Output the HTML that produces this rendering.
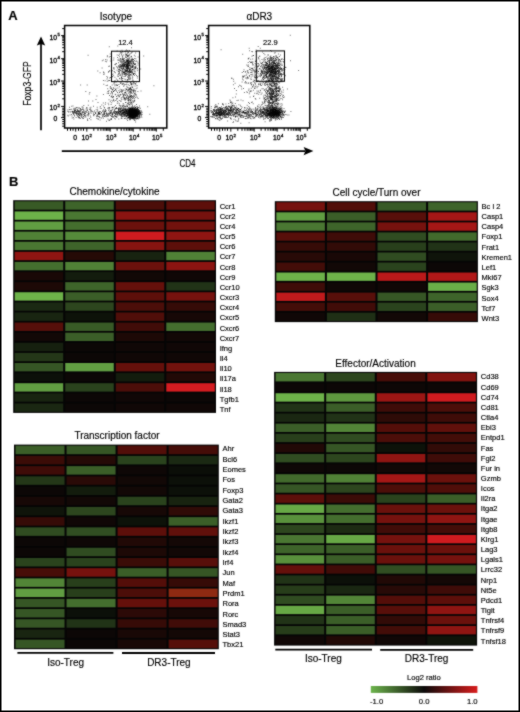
<!DOCTYPE html>
<html><head><meta charset="utf-8"><style>
html,body{margin:0;padding:0;background:#fff;}
body{width:520px;height:712px;overflow:hidden;position:relative;}
svg{position:absolute;left:0;top:0;font-family:"Liberation Sans",sans-serif;}
svg text{fill:#000;stroke:#000;stroke-width:0.15px;}
</style></head><body>
<svg width="520" height="712" viewBox="0 0 520 712">
<defs><filter id="bl" color-interpolation-filters="sRGB" x="0" y="0" width="520" height="712" filterUnits="userSpaceOnUse"><feConvolveMatrix order="3" kernelMatrix="1 2 1 2 16 2 1 2 1" divisor="28" edgeMode="duplicate"/></filter></defs>
<rect x="0" y="0" width="520" height="712" fill="#fff"/>
<g filter="url(#bl)">
<path d="M138.0 109.4h1v1h-1zM78.1 111.3h1v1h-1zM133.3 114.2h1v1h-1zM135.1 111.0h1v1h-1zM132.0 113.3h1v1h-1zM131.1 115.4h1v1h-1zM127.5 63.0h1v1h-1zM133.9 118.6h1v1h-1zM117.5 66.8h1v1h-1zM127.4 95.4h1v1h-1zM108.8 111.2h1v1h-1zM135.9 113.0h1v1h-1zM136.5 114.0h1v1h-1zM135.8 115.1h1v1h-1zM122.8 62.2h1v1h-1zM111.7 84.5h1v1h-1zM133.5 118.4h1v1h-1zM132.4 110.5h1v1h-1zM123.7 85.3h1v1h-1zM133.6 113.1h1v1h-1zM134.8 112.5h1v1h-1zM125.0 106.1h1v1h-1zM130.3 112.6h1v1h-1zM135.8 112.1h1v1h-1zM132.8 113.1h1v1h-1zM120.8 107.7h1v1h-1zM94.6 111.8h1v1h-1zM117.3 80.0h1v1h-1zM132.0 110.5h1v1h-1zM129.4 53.6h1v1h-1zM136.9 77.6h1v1h-1zM138.9 109.7h1v1h-1zM126.5 64.6h1v1h-1zM137.1 107.9h1v1h-1zM131.8 69.4h1v1h-1zM134.7 108.2h1v1h-1zM92.9 112.8h1v1h-1zM132.0 112.8h1v1h-1zM129.0 110.5h1v1h-1zM131.9 111.4h1v1h-1zM131.8 111.6h1v1h-1zM83.7 111.2h1v1h-1zM136.5 114.2h1v1h-1zM121.6 75.8h1v1h-1zM131.5 113.6h1v1h-1zM76.9 114.6h1v1h-1zM132.3 108.9h1v1h-1zM130.5 114.7h1v1h-1zM107.4 114.0h1v1h-1zM109.1 77.4h1v1h-1zM128.8 56.8h1v1h-1zM133.0 111.0h1v1h-1zM131.9 71.3h1v1h-1zM129.4 71.9h1v1h-1zM133.9 114.4h1v1h-1zM133.1 116.5h1v1h-1zM116.1 107.9h1v1h-1zM130.9 115.8h1v1h-1zM129.8 113.1h1v1h-1zM132.3 113.4h1v1h-1zM130.0 110.9h1v1h-1zM129.3 73.6h1v1h-1zM126.6 61.1h1v1h-1zM127.3 64.7h1v1h-1zM128.8 115.0h1v1h-1zM129.9 113.7h1v1h-1zM135.6 111.7h1v1h-1zM127.9 111.6h1v1h-1zM133.6 113.6h1v1h-1zM127.8 114.2h1v1h-1zM132.0 95.7h1v1h-1zM133.2 113.6h1v1h-1zM103.2 110.4h1v1h-1zM135.4 110.2h1v1h-1zM128.9 109.5h1v1h-1zM133.6 110.3h1v1h-1zM121.4 114.4h1v1h-1zM124.7 66.9h1v1h-1zM127.8 110.7h1v1h-1zM129.7 116.0h1v1h-1zM132.3 108.7h1v1h-1zM126.9 105.2h1v1h-1zM114.6 115.9h1v1h-1zM111.9 89.4h1v1h-1zM131.8 112.1h1v1h-1zM90.3 116.7h1v1h-1zM134.4 112.1h1v1h-1zM136.4 85.3h1v1h-1zM128.3 64.5h1v1h-1zM134.7 110.9h1v1h-1zM119.8 67.3h1v1h-1zM108.4 66.1h1v1h-1zM133.3 110.8h1v1h-1zM136.3 113.1h1v1h-1zM121.7 55.3h1v1h-1zM138.7 111.5h1v1h-1zM132.4 114.2h1v1h-1zM117.0 114.1h1v1h-1zM138.3 115.9h1v1h-1zM126.9 50.3h1v1h-1zM119.6 113.8h1v1h-1zM127.5 50.5h1v1h-1zM133.9 108.9h1v1h-1zM70.1 111.4h1v1h-1zM115.9 111.7h1v1h-1zM126.0 64.4h1v1h-1zM130.8 71.9h1v1h-1zM128.7 63.5h1v1h-1zM110.3 113.0h1v1h-1zM126.3 65.4h1v1h-1zM98.4 111.2h1v1h-1zM130.8 113.3h1v1h-1zM131.9 112.1h1v1h-1zM107.5 108.0h1v1h-1zM130.4 114.2h1v1h-1zM87.7 115.6h1v1h-1zM98.6 113.0h1v1h-1zM119.1 59.8h1v1h-1zM72.5 112.5h1v1h-1zM131.4 114.5h1v1h-1zM128.5 62.8h1v1h-1zM134.5 111.0h1v1h-1zM84.4 116.4h1v1h-1zM80.1 84.4h1v1h-1zM80.8 112.6h1v1h-1zM109.8 101.3h1v1h-1zM134.5 110.5h1v1h-1zM78.5 114.0h1v1h-1zM82.3 109.0h1v1h-1zM131.5 61.5h1v1h-1zM110.2 110.2h1v1h-1zM131.2 109.0h1v1h-1zM134.1 115.6h1v1h-1zM129.1 115.2h1v1h-1zM132.2 112.5h1v1h-1zM138.1 111.8h1v1h-1zM73.9 111.3h1v1h-1zM131.5 111.9h1v1h-1zM134.7 112.9h1v1h-1zM134.2 60.1h1v1h-1zM133.0 113.1h1v1h-1zM134.8 116.6h1v1h-1zM120.2 111.0h1v1h-1zM105.5 116.2h1v1h-1zM130.1 110.9h1v1h-1zM135.8 109.9h1v1h-1zM132.5 111.7h1v1h-1zM113.0 96.0h1v1h-1zM131.2 63.2h1v1h-1zM130.4 74.0h1v1h-1zM131.1 112.8h1v1h-1zM117.9 111.9h1v1h-1zM133.3 114.8h1v1h-1zM103.8 73.4h1v1h-1zM134.8 109.2h1v1h-1zM131.3 109.0h1v1h-1zM135.9 106.4h1v1h-1zM129.1 110.5h1v1h-1zM118.4 65.1h1v1h-1zM130.0 113.5h1v1h-1zM123.0 111.6h1v1h-1zM129.3 68.6h1v1h-1zM122.0 73.2h1v1h-1zM130.9 113.9h1v1h-1zM135.5 112.8h1v1h-1zM131.3 114.7h1v1h-1zM129.2 114.2h1v1h-1zM114.0 82.3h1v1h-1zM130.3 113.3h1v1h-1zM139.4 115.1h1v1h-1zM132.7 113.9h1v1h-1zM133.4 112.0h1v1h-1zM130.1 112.9h1v1h-1zM128.5 114.1h1v1h-1zM122.6 65.5h1v1h-1zM133.7 82.5h1v1h-1zM131.7 110.8h1v1h-1zM134.5 85.4h1v1h-1zM100.7 108.0h1v1h-1zM133.8 113.4h1v1h-1zM131.8 110.0h1v1h-1zM82.1 117.2h1v1h-1zM134.4 111.4h1v1h-1zM76.2 112.4h1v1h-1zM130.1 65.4h1v1h-1zM127.7 57.8h1v1h-1zM129.5 111.8h1v1h-1zM126.5 79.6h1v1h-1zM133.8 113.1h1v1h-1zM83.8 113.5h1v1h-1zM132.0 114.8h1v1h-1zM134.9 111.8h1v1h-1zM130.6 98.6h1v1h-1zM133.3 112.7h1v1h-1zM135.5 65.6h1v1h-1zM99.6 72.3h1v1h-1zM126.3 108.9h1v1h-1zM129.5 114.1h1v1h-1zM130.6 113.2h1v1h-1zM117.6 66.5h1v1h-1zM130.6 112.2h1v1h-1zM134.3 112.2h1v1h-1zM141.2 111.0h1v1h-1zM126.2 58.7h1v1h-1zM133.7 112.7h1v1h-1zM116.4 111.3h1v1h-1zM131.9 59.3h1v1h-1zM106.4 76.0h1v1h-1zM135.1 111.0h1v1h-1zM132.6 114.4h1v1h-1zM129.3 71.3h1v1h-1zM133.5 114.8h1v1h-1zM130.3 113.4h1v1h-1zM135.7 110.2h1v1h-1zM126.7 111.8h1v1h-1zM132.5 113.4h1v1h-1zM124.3 72.2h1v1h-1zM134.0 114.8h1v1h-1zM120.6 111.7h1v1h-1zM135.7 111.2h1v1h-1zM121.7 113.1h1v1h-1zM129.3 88.2h1v1h-1zM123.5 64.7h1v1h-1zM132.8 117.9h1v1h-1zM127.1 111.0h1v1h-1zM132.4 112.3h1v1h-1zM130.2 113.2h1v1h-1zM137.1 107.1h1v1h-1zM130.8 113.3h1v1h-1zM89.8 111.6h1v1h-1zM134.0 112.5h1v1h-1zM119.8 69.4h1v1h-1zM128.1 64.4h1v1h-1zM131.8 112.0h1v1h-1zM134.5 112.9h1v1h-1zM129.7 110.3h1v1h-1zM136.8 68.5h1v1h-1zM135.1 115.7h1v1h-1zM76.1 111.3h1v1h-1zM74.6 111.9h1v1h-1zM128.5 63.8h1v1h-1zM129.8 110.7h1v1h-1zM136.0 112.6h1v1h-1zM122.6 71.3h1v1h-1zM130.1 88.9h1v1h-1zM106.1 61.3h1v1h-1zM133.1 111.1h1v1h-1zM123.2 63.1h1v1h-1zM137.2 114.7h1v1h-1zM131.0 113.4h1v1h-1zM132.2 110.4h1v1h-1zM122.5 64.7h1v1h-1zM131.8 116.9h1v1h-1zM137.6 56.6h1v1h-1zM127.6 111.1h1v1h-1zM132.3 113.6h1v1h-1zM131.2 89.0h1v1h-1zM134.1 109.4h1v1h-1zM127.2 59.9h1v1h-1zM133.1 116.4h1v1h-1zM134.0 113.4h1v1h-1zM113.9 68.6h1v1h-1zM125.3 71.1h1v1h-1zM131.1 111.5h1v1h-1zM125.7 112.5h1v1h-1zM116.4 116.4h1v1h-1zM126.6 110.5h1v1h-1zM131.3 109.8h1v1h-1zM134.2 110.8h1v1h-1zM100.9 112.6h1v1h-1zM139.5 111.1h1v1h-1zM117.5 74.3h1v1h-1zM131.8 108.8h1v1h-1zM131.8 112.7h1v1h-1zM136.3 112.3h1v1h-1zM135.2 114.8h1v1h-1zM132.4 109.7h1v1h-1zM134.9 107.0h1v1h-1zM135.2 111.2h1v1h-1zM132.1 111.2h1v1h-1zM130.8 114.3h1v1h-1zM134.8 111.8h1v1h-1zM133.8 114.7h1v1h-1zM137.8 111.6h1v1h-1zM132.5 115.6h1v1h-1zM107.0 84.7h1v1h-1zM134.1 112.5h1v1h-1zM110.8 88.3h1v1h-1zM132.7 112.9h1v1h-1zM126.1 110.7h1v1h-1zM120.4 110.8h1v1h-1zM133.7 110.3h1v1h-1zM120.9 113.8h1v1h-1zM111.4 95.2h1v1h-1zM118.0 62.3h1v1h-1zM131.3 112.2h1v1h-1zM139.7 107.9h1v1h-1zM127.5 64.3h1v1h-1zM130.2 108.1h1v1h-1zM130.1 111.9h1v1h-1zM126.5 70.7h1v1h-1zM133.0 113.5h1v1h-1zM134.2 113.8h1v1h-1zM129.3 64.8h1v1h-1zM129.8 108.6h1v1h-1zM84.9 112.5h1v1h-1zM133.4 110.0h1v1h-1zM134.6 110.7h1v1h-1zM134.9 110.7h1v1h-1zM132.4 109.9h1v1h-1zM125.1 91.5h1v1h-1zM130.4 70.8h1v1h-1zM135.7 108.9h1v1h-1zM128.1 75.1h1v1h-1zM130.4 110.9h1v1h-1zM130.1 111.1h1v1h-1zM133.1 113.2h1v1h-1zM129.1 95.6h1v1h-1zM125.5 117.7h1v1h-1zM132.5 111.6h1v1h-1zM126.2 112.2h1v1h-1zM125.6 50.6h1v1h-1zM121.1 54.2h1v1h-1zM69.0 106.8h1v1h-1zM127.6 51.9h1v1h-1zM122.1 71.1h1v1h-1zM134.9 114.3h1v1h-1zM128.3 112.5h1v1h-1zM134.8 107.4h1v1h-1zM129.4 112.4h1v1h-1zM136.1 113.7h1v1h-1zM115.1 88.9h1v1h-1zM131.5 112.7h1v1h-1zM133.7 110.1h1v1h-1zM128.1 117.2h1v1h-1zM121.4 61.5h1v1h-1zM132.9 110.5h1v1h-1zM119.3 111.2h1v1h-1zM104.6 110.9h1v1h-1zM130.1 112.1h1v1h-1zM137.3 114.9h1v1h-1zM133.8 114.9h1v1h-1zM116.9 79.5h1v1h-1zM132.7 108.8h1v1h-1zM130.8 115.5h1v1h-1zM129.2 89.1h1v1h-1zM127.2 54.6h1v1h-1zM137.4 91.0h1v1h-1zM132.3 116.8h1v1h-1zM132.6 79.7h1v1h-1zM132.2 69.4h1v1h-1zM127.7 70.6h1v1h-1zM128.1 112.4h1v1h-1zM131.5 108.9h1v1h-1zM131.5 110.4h1v1h-1zM128.6 62.6h1v1h-1zM125.5 110.4h1v1h-1zM123.8 113.8h1v1h-1zM134.2 115.3h1v1h-1zM119.1 70.8h1v1h-1zM124.6 90.1h1v1h-1zM123.0 72.3h1v1h-1zM115.7 114.1h1v1h-1zM134.9 111.2h1v1h-1zM96.8 115.9h1v1h-1zM129.5 62.3h1v1h-1zM130.9 115.1h1v1h-1zM132.9 109.9h1v1h-1zM73.3 112.5h1v1h-1zM119.1 68.9h1v1h-1zM133.6 112.4h1v1h-1zM123.5 65.2h1v1h-1zM119.8 107.5h1v1h-1zM78.7 112.4h1v1h-1zM136.9 114.3h1v1h-1zM131.1 111.9h1v1h-1zM110.8 95.9h1v1h-1zM139.5 114.4h1v1h-1zM135.1 114.4h1v1h-1zM122.2 113.4h1v1h-1zM131.6 114.0h1v1h-1zM127.5 66.1h1v1h-1zM127.2 114.7h1v1h-1zM134.3 113.9h1v1h-1zM113.1 98.9h1v1h-1zM130.4 115.2h1v1h-1zM129.6 110.5h1v1h-1zM111.2 60.1h1v1h-1zM133.7 111.9h1v1h-1zM123.3 111.9h1v1h-1zM131.4 109.1h1v1h-1zM75.3 112.2h1v1h-1zM124.5 106.6h1v1h-1zM125.6 73.2h1v1h-1zM107.4 115.5h1v1h-1zM131.2 110.0h1v1h-1zM137.3 109.7h1v1h-1zM126.7 66.8h1v1h-1zM129.3 115.2h1v1h-1zM133.0 110.9h1v1h-1zM116.4 111.3h1v1h-1zM127.9 116.3h1v1h-1zM126.6 112.3h1v1h-1zM137.0 108.8h1v1h-1zM130.0 89.6h1v1h-1zM127.7 67.1h1v1h-1zM125.5 109.6h1v1h-1zM131.9 113.8h1v1h-1zM135.3 114.8h1v1h-1zM133.9 112.7h1v1h-1zM128.9 115.2h1v1h-1zM130.8 111.0h1v1h-1zM122.2 64.4h1v1h-1zM131.1 109.5h1v1h-1zM130.0 115.9h1v1h-1zM136.9 109.3h1v1h-1zM131.9 51.5h1v1h-1zM131.0 47.2h1v1h-1zM101.6 114.6h1v1h-1zM132.3 110.3h1v1h-1zM86.8 114.4h1v1h-1zM132.6 113.4h1v1h-1zM134.3 110.4h1v1h-1zM130.7 61.5h1v1h-1zM127.5 66.6h1v1h-1zM133.5 115.3h1v1h-1zM122.9 95.0h1v1h-1zM122.3 58.6h1v1h-1zM113.4 87.9h1v1h-1zM129.3 114.1h1v1h-1zM137.3 112.4h1v1h-1zM132.2 107.7h1v1h-1zM132.5 110.3h1v1h-1zM125.5 62.3h1v1h-1zM127.6 111.2h1v1h-1zM134.6 112.8h1v1h-1zM116.0 66.2h1v1h-1zM122.2 109.9h1v1h-1zM67.5 109.3h1v1h-1zM137.0 118.1h1v1h-1zM129.0 111.7h1v1h-1zM130.3 81.7h1v1h-1zM129.2 110.8h1v1h-1zM127.2 114.7h1v1h-1zM130.5 115.0h1v1h-1zM115.4 108.3h1v1h-1zM134.1 98.2h1v1h-1zM133.3 113.6h1v1h-1zM96.2 117.7h1v1h-1zM133.3 109.4h1v1h-1zM107.7 102.7h1v1h-1zM126.1 88.8h1v1h-1zM130.3 111.6h1v1h-1zM133.3 111.2h1v1h-1zM130.1 113.0h1v1h-1zM133.2 110.8h1v1h-1zM133.2 113.8h1v1h-1zM124.4 78.5h1v1h-1zM130.4 71.9h1v1h-1zM127.2 112.7h1v1h-1zM123.8 83.7h1v1h-1zM107.3 115.5h1v1h-1zM135.7 112.0h1v1h-1zM135.4 114.5h1v1h-1zM114.3 112.2h1v1h-1zM132.1 114.5h1v1h-1zM133.0 109.3h1v1h-1zM113.4 68.4h1v1h-1zM130.6 113.1h1v1h-1zM136.7 115.6h1v1h-1zM135.8 114.8h1v1h-1zM133.5 114.7h1v1h-1zM127.1 113.4h1v1h-1zM89.1 108.9h1v1h-1zM79.3 111.0h1v1h-1zM130.3 88.0h1v1h-1zM133.6 111.6h1v1h-1zM132.7 109.4h1v1h-1zM130.6 113.2h1v1h-1zM129.5 112.6h1v1h-1zM115.5 114.8h1v1h-1zM102.2 110.6h1v1h-1zM124.2 69.0h1v1h-1zM125.1 66.1h1v1h-1zM127.2 79.3h1v1h-1zM102.8 117.7h1v1h-1zM132.1 113.0h1v1h-1zM128.4 110.6h1v1h-1zM76.1 113.2h1v1h-1zM120.6 58.6h1v1h-1zM134.1 113.8h1v1h-1zM131.9 109.2h1v1h-1zM121.1 79.5h1v1h-1zM133.9 115.6h1v1h-1zM133.0 94.8h1v1h-1zM77.7 113.4h1v1h-1zM129.4 78.7h1v1h-1zM88.0 100.4h1v1h-1zM128.5 115.7h1v1h-1zM70.6 110.9h1v1h-1zM111.3 92.3h1v1h-1zM121.6 114.0h1v1h-1zM125.4 66.0h1v1h-1zM123.3 57.8h1v1h-1zM135.5 112.6h1v1h-1zM137.7 109.5h1v1h-1zM131.6 112.0h1v1h-1zM120.2 105.6h1v1h-1zM132.1 115.1h1v1h-1zM130.0 78.6h1v1h-1zM126.8 115.2h1v1h-1zM104.2 112.4h1v1h-1zM130.2 113.9h1v1h-1zM134.4 110.4h1v1h-1zM126.8 69.4h1v1h-1zM131.9 113.5h1v1h-1zM121.7 84.0h1v1h-1zM135.7 109.2h1v1h-1zM98.7 111.3h1v1h-1zM80.8 115.3h1v1h-1zM128.7 111.9h1v1h-1zM132.0 66.4h1v1h-1zM133.2 113.0h1v1h-1zM108.8 46.3h1v1h-1zM130.1 61.4h1v1h-1zM133.8 113.7h1v1h-1zM136.5 110.1h1v1h-1zM134.9 112.1h1v1h-1zM129.1 110.1h1v1h-1zM131.0 113.8h1v1h-1zM134.0 110.9h1v1h-1zM128.4 111.5h1v1h-1zM123.0 112.8h1v1h-1zM135.1 115.4h1v1h-1zM121.7 69.4h1v1h-1zM134.5 114.1h1v1h-1zM116.0 107.1h1v1h-1zM128.7 116.8h1v1h-1zM132.1 112.3h1v1h-1zM80.8 115.2h1v1h-1zM138.9 113.1h1v1h-1zM149.3 113.8h1v1h-1zM133.4 114.6h1v1h-1zM134.2 93.3h1v1h-1zM129.5 113.8h1v1h-1zM134.7 118.6h1v1h-1zM123.2 62.5h1v1h-1zM132.8 65.0h1v1h-1zM137.1 111.7h1v1h-1zM131.8 109.5h1v1h-1zM127.0 57.8h1v1h-1zM135.2 112.2h1v1h-1zM121.5 106.8h1v1h-1zM125.2 56.7h1v1h-1zM98.9 116.8h1v1h-1zM97.5 117.9h1v1h-1zM129.7 113.7h1v1h-1zM132.8 113.4h1v1h-1zM125.6 115.6h1v1h-1zM71.2 105.8h1v1h-1zM122.0 112.7h1v1h-1zM137.7 108.9h1v1h-1zM124.1 74.2h1v1h-1zM138.3 110.7h1v1h-1zM137.4 111.6h1v1h-1zM83.1 115.7h1v1h-1zM131.4 111.2h1v1h-1zM130.6 90.2h1v1h-1zM128.6 73.0h1v1h-1zM133.7 113.9h1v1h-1zM128.3 88.7h1v1h-1zM119.9 64.1h1v1h-1zM136.6 85.0h1v1h-1zM125.5 94.4h1v1h-1zM126.9 112.8h1v1h-1zM130.1 111.3h1v1h-1zM133.2 116.2h1v1h-1zM119.5 112.4h1v1h-1zM110.8 111.8h1v1h-1z" fill="#000" fill-opacity="0.55"/>
<path d="M119.0 96.2h1v1h-1zM133.2 111.2h1v1h-1zM90.4 106.7h1v1h-1zM128.6 74.2h1v1h-1zM98.2 112.9h1v1h-1zM134.1 116.0h1v1h-1zM124.7 88.4h1v1h-1zM110.6 118.4h1v1h-1zM132.1 111.7h1v1h-1zM130.9 111.4h1v1h-1zM132.6 115.5h1v1h-1zM133.9 109.4h1v1h-1zM118.8 113.1h1v1h-1zM130.0 113.1h1v1h-1zM127.9 110.2h1v1h-1zM131.9 66.7h1v1h-1zM133.2 112.1h1v1h-1zM128.7 61.8h1v1h-1zM117.8 113.4h1v1h-1zM128.5 79.1h1v1h-1zM128.3 62.7h1v1h-1zM128.5 91.5h1v1h-1zM123.1 59.1h1v1h-1zM127.5 110.8h1v1h-1zM135.3 113.8h1v1h-1zM131.9 109.5h1v1h-1zM130.9 114.4h1v1h-1zM133.4 113.8h1v1h-1zM123.9 110.7h1v1h-1zM77.6 110.8h1v1h-1zM130.9 112.6h1v1h-1zM127.7 101.9h1v1h-1zM72.3 111.8h1v1h-1zM134.1 115.3h1v1h-1zM129.2 111.9h1v1h-1zM110.9 91.1h1v1h-1zM136.6 111.8h1v1h-1zM128.1 62.8h1v1h-1zM124.1 111.4h1v1h-1zM130.2 115.7h1v1h-1zM132.5 114.9h1v1h-1zM131.8 111.7h1v1h-1zM129.4 63.6h1v1h-1zM80.3 110.8h1v1h-1zM129.0 75.5h1v1h-1zM125.9 97.2h1v1h-1zM133.7 111.8h1v1h-1zM112.1 113.5h1v1h-1zM125.1 112.1h1v1h-1zM130.1 113.8h1v1h-1zM124.1 113.1h1v1h-1zM136.3 109.8h1v1h-1zM133.5 117.8h1v1h-1zM128.6 70.5h1v1h-1zM153.4 85.3h1v1h-1zM129.5 113.4h1v1h-1zM126.2 74.8h1v1h-1zM84.8 112.7h1v1h-1zM129.8 114.9h1v1h-1zM128.5 110.1h1v1h-1zM135.5 112.5h1v1h-1zM126.0 81.4h1v1h-1zM107.4 91.1h1v1h-1zM134.0 115.3h1v1h-1zM134.9 115.4h1v1h-1zM127.6 83.9h1v1h-1zM118.2 111.9h1v1h-1zM109.1 70.6h1v1h-1zM134.4 110.9h1v1h-1zM135.1 111.4h1v1h-1zM127.9 67.0h1v1h-1zM110.0 77.1h1v1h-1zM137.6 118.6h1v1h-1zM131.5 115.7h1v1h-1zM134.7 108.4h1v1h-1zM132.6 110.1h1v1h-1zM138.4 111.8h1v1h-1zM135.2 108.4h1v1h-1zM124.2 72.7h1v1h-1zM131.4 59.7h1v1h-1zM133.5 111.7h1v1h-1zM82.4 117.8h1v1h-1zM133.4 116.9h1v1h-1zM131.6 114.9h1v1h-1zM134.2 58.0h1v1h-1zM135.5 112.4h1v1h-1zM131.1 101.8h1v1h-1zM133.4 90.4h1v1h-1zM113.5 111.0h1v1h-1zM137.8 111.1h1v1h-1zM115.1 113.5h1v1h-1zM131.2 110.0h1v1h-1zM132.9 73.1h1v1h-1zM129.5 113.9h1v1h-1zM106.7 92.8h1v1h-1zM115.5 87.7h1v1h-1zM126.7 65.4h1v1h-1zM124.3 64.5h1v1h-1zM134.6 114.9h1v1h-1zM134.4 110.4h1v1h-1zM134.2 110.3h1v1h-1zM130.3 113.7h1v1h-1zM98.1 111.9h1v1h-1zM133.1 116.3h1v1h-1zM128.5 54.8h1v1h-1zM132.5 113.7h1v1h-1zM132.9 111.4h1v1h-1zM135.9 109.8h1v1h-1zM105.5 109.9h1v1h-1zM132.8 113.5h1v1h-1zM140.0 112.1h1v1h-1zM78.3 114.1h1v1h-1zM129.8 116.6h1v1h-1zM137.0 111.3h1v1h-1zM129.3 69.4h1v1h-1zM109.4 112.2h1v1h-1zM125.9 113.1h1v1h-1zM113.9 109.9h1v1h-1zM106.1 111.8h1v1h-1zM128.2 117.2h1v1h-1zM130.8 70.8h1v1h-1zM124.8 110.2h1v1h-1zM131.1 112.3h1v1h-1zM132.2 113.8h1v1h-1zM136.9 107.6h1v1h-1zM138.6 113.2h1v1h-1zM130.7 115.0h1v1h-1zM121.4 78.1h1v1h-1zM133.9 111.3h1v1h-1zM131.7 110.6h1v1h-1zM109.0 95.0h1v1h-1zM131.8 108.7h1v1h-1zM106.0 115.5h1v1h-1zM131.3 111.6h1v1h-1zM129.3 111.5h1v1h-1zM135.9 111.1h1v1h-1zM130.9 70.6h1v1h-1zM132.6 112.7h1v1h-1zM79.0 116.8h1v1h-1zM127.6 103.2h1v1h-1zM115.9 63.2h1v1h-1zM122.8 67.1h1v1h-1zM109.6 113.6h1v1h-1zM81.6 112.7h1v1h-1zM79.4 110.7h1v1h-1zM136.6 113.3h1v1h-1zM133.8 114.2h1v1h-1zM111.8 106.8h1v1h-1zM136.1 108.6h1v1h-1zM108.8 65.4h1v1h-1zM127.2 65.7h1v1h-1zM131.4 109.0h1v1h-1zM130.5 116.2h1v1h-1zM132.9 73.7h1v1h-1zM132.6 113.4h1v1h-1zM128.8 89.6h1v1h-1zM80.8 116.8h1v1h-1zM130.1 100.6h1v1h-1zM114.4 80.3h1v1h-1zM134.1 114.2h1v1h-1zM130.0 115.1h1v1h-1zM86.2 111.3h1v1h-1zM129.8 112.6h1v1h-1zM137.5 64.4h1v1h-1zM127.9 112.8h1v1h-1zM139.6 113.5h1v1h-1zM133.0 115.2h1v1h-1zM128.9 63.5h1v1h-1zM134.9 109.4h1v1h-1zM127.3 90.6h1v1h-1zM135.9 114.1h1v1h-1zM136.8 116.5h1v1h-1zM130.2 113.0h1v1h-1zM133.4 112.4h1v1h-1zM129.8 111.6h1v1h-1zM134.4 117.6h1v1h-1zM125.4 108.7h1v1h-1zM126.3 110.8h1v1h-1zM133.8 113.5h1v1h-1zM99.7 107.4h1v1h-1zM126.8 112.5h1v1h-1zM106.7 80.8h1v1h-1zM135.6 113.3h1v1h-1zM74.4 110.3h1v1h-1zM130.8 112.8h1v1h-1zM127.8 112.9h1v1h-1zM131.7 104.3h1v1h-1zM138.0 114.1h1v1h-1zM128.8 60.9h1v1h-1zM101.8 60.3h1v1h-1zM134.3 111.8h1v1h-1zM130.9 115.9h1v1h-1zM137.9 110.0h1v1h-1zM118.9 73.0h1v1h-1zM130.3 109.5h1v1h-1zM133.5 111.8h1v1h-1zM86.8 109.5h1v1h-1zM131.3 114.8h1v1h-1zM130.9 111.8h1v1h-1zM132.3 92.7h1v1h-1zM133.2 114.4h1v1h-1zM120.7 62.4h1v1h-1zM136.2 115.6h1v1h-1zM122.1 79.9h1v1h-1zM131.5 115.0h1v1h-1zM129.8 112.9h1v1h-1zM132.2 114.3h1v1h-1zM124.6 73.1h1v1h-1zM124.4 63.7h1v1h-1zM134.0 116.5h1v1h-1zM79.6 108.6h1v1h-1zM133.3 114.4h1v1h-1zM130.3 113.7h1v1h-1zM133.9 110.9h1v1h-1zM102.9 80.0h1v1h-1zM120.3 114.5h1v1h-1zM77.2 111.3h1v1h-1zM130.9 113.1h1v1h-1zM132.6 116.4h1v1h-1zM122.5 96.0h1v1h-1zM131.5 112.7h1v1h-1zM125.9 116.1h1v1h-1zM130.8 110.6h1v1h-1zM108.2 104.3h1v1h-1zM118.8 110.6h1v1h-1zM137.4 109.6h1v1h-1zM125.8 111.2h1v1h-1zM132.2 110.7h1v1h-1zM132.2 76.8h1v1h-1zM96.8 114.9h1v1h-1zM130.1 113.4h1v1h-1zM128.8 71.3h1v1h-1zM135.8 109.0h1v1h-1zM136.8 114.7h1v1h-1zM134.4 114.0h1v1h-1zM133.2 111.1h1v1h-1zM134.9 108.5h1v1h-1zM119.7 112.6h1v1h-1zM83.6 112.2h1v1h-1zM79.7 113.2h1v1h-1zM133.3 111.7h1v1h-1zM132.1 111.1h1v1h-1zM125.0 73.6h1v1h-1zM130.7 59.4h1v1h-1zM116.6 113.0h1v1h-1zM129.4 110.7h1v1h-1zM133.3 112.1h1v1h-1zM109.9 86.1h1v1h-1zM133.8 106.4h1v1h-1zM133.2 117.2h1v1h-1zM126.8 112.1h1v1h-1zM130.5 66.3h1v1h-1zM130.3 114.3h1v1h-1zM136.1 110.7h1v1h-1zM133.4 114.4h1v1h-1zM131.1 113.6h1v1h-1zM132.8 110.6h1v1h-1zM130.7 116.2h1v1h-1zM129.7 115.9h1v1h-1zM130.8 111.1h1v1h-1zM133.7 111.6h1v1h-1zM105.1 110.7h1v1h-1zM125.1 109.2h1v1h-1zM137.7 113.8h1v1h-1zM139.5 110.6h1v1h-1zM78.8 110.2h1v1h-1zM128.2 110.9h1v1h-1zM133.2 113.5h1v1h-1zM122.6 112.4h1v1h-1zM119.2 105.3h1v1h-1zM130.7 112.2h1v1h-1zM127.8 111.8h1v1h-1zM124.1 63.6h1v1h-1zM136.5 110.6h1v1h-1zM84.9 115.4h1v1h-1zM76.3 112.4h1v1h-1zM132.1 109.8h1v1h-1zM121.3 70.7h1v1h-1zM129.2 110.3h1v1h-1zM134.7 92.6h1v1h-1zM132.5 112.7h1v1h-1zM79.5 111.9h1v1h-1zM136.8 111.8h1v1h-1zM124.4 105.8h1v1h-1zM128.2 107.5h1v1h-1zM133.4 111.8h1v1h-1zM122.3 58.5h1v1h-1zM114.7 93.8h1v1h-1zM131.2 84.1h1v1h-1zM127.5 113.6h1v1h-1zM131.2 113.6h1v1h-1zM133.6 100.2h1v1h-1zM127.3 66.8h1v1h-1zM129.1 74.6h1v1h-1zM129.9 114.0h1v1h-1zM78.1 116.3h1v1h-1zM126.3 115.9h1v1h-1zM131.6 114.6h1v1h-1zM131.0 91.4h1v1h-1zM132.8 112.1h1v1h-1zM133.8 115.8h1v1h-1zM127.2 67.8h1v1h-1zM128.1 63.0h1v1h-1zM129.7 108.1h1v1h-1zM129.9 116.7h1v1h-1zM134.8 111.8h1v1h-1zM116.9 85.0h1v1h-1zM133.0 91.8h1v1h-1zM120.7 117.8h1v1h-1zM131.5 96.0h1v1h-1zM116.6 50.5h1v1h-1zM135.0 115.5h1v1h-1zM131.2 61.1h1v1h-1zM131.2 111.9h1v1h-1zM69.0 109.0h1v1h-1zM136.8 76.0h1v1h-1zM137.1 114.1h1v1h-1zM135.0 114.1h1v1h-1zM131.3 113.5h1v1h-1zM125.2 102.0h1v1h-1zM135.0 113.8h1v1h-1zM127.8 63.2h1v1h-1zM108.1 113.2h1v1h-1zM134.6 112.2h1v1h-1zM133.8 116.2h1v1h-1zM129.0 109.4h1v1h-1zM122.8 72.5h1v1h-1zM134.5 112.7h1v1h-1zM112.7 117.1h1v1h-1zM131.4 110.6h1v1h-1zM128.4 112.8h1v1h-1zM135.5 108.4h1v1h-1zM130.5 115.2h1v1h-1zM134.2 113.2h1v1h-1zM104.9 109.3h1v1h-1zM131.0 113.8h1v1h-1zM131.1 114.2h1v1h-1zM119.9 105.4h1v1h-1zM136.3 111.8h1v1h-1zM123.7 73.9h1v1h-1zM134.1 116.8h1v1h-1zM127.9 61.4h1v1h-1zM127.1 67.0h1v1h-1zM132.8 113.8h1v1h-1zM130.1 110.3h1v1h-1zM129.1 112.1h1v1h-1zM103.1 73.8h1v1h-1zM76.1 110.9h1v1h-1zM126.0 70.4h1v1h-1zM129.0 115.2h1v1h-1zM103.7 112.9h1v1h-1zM77.1 109.6h1v1h-1zM139.0 116.2h1v1h-1zM129.6 98.8h1v1h-1zM133.7 113.2h1v1h-1zM122.3 109.9h1v1h-1zM135.8 112.3h1v1h-1zM129.6 60.2h1v1h-1zM69.5 114.4h1v1h-1zM139.8 112.6h1v1h-1zM130.9 55.8h1v1h-1zM130.8 63.6h1v1h-1zM128.3 74.2h1v1h-1zM132.8 112.5h1v1h-1zM129.1 110.4h1v1h-1zM138.8 72.5h1v1h-1zM121.5 111.9h1v1h-1zM128.9 71.4h1v1h-1zM130.8 109.9h1v1h-1zM134.1 111.8h1v1h-1zM116.2 90.7h1v1h-1zM125.8 88.6h1v1h-1zM127.0 113.2h1v1h-1zM139.2 117.2h1v1h-1zM125.3 65.8h1v1h-1zM133.2 112.6h1v1h-1zM132.4 111.3h1v1h-1zM121.8 67.7h1v1h-1zM130.1 70.3h1v1h-1zM125.4 70.2h1v1h-1zM132.3 116.5h1v1h-1zM133.4 113.1h1v1h-1zM126.5 118.8h1v1h-1zM131.6 112.2h1v1h-1zM128.3 110.8h1v1h-1zM129.6 95.4h1v1h-1zM132.4 111.2h1v1h-1zM132.6 112.5h1v1h-1zM126.3 66.7h1v1h-1zM126.6 110.7h1v1h-1zM132.2 115.0h1v1h-1zM127.4 73.7h1v1h-1zM130.0 108.4h1v1h-1zM131.0 110.6h1v1h-1zM136.6 110.5h1v1h-1zM79.5 112.5h1v1h-1zM126.5 59.9h1v1h-1zM111.2 115.8h1v1h-1zM135.4 109.4h1v1h-1zM130.8 85.6h1v1h-1zM103.4 114.2h1v1h-1zM132.0 113.9h1v1h-1zM119.6 88.7h1v1h-1zM81.5 114.4h1v1h-1zM109.8 86.2h1v1h-1zM131.8 102.5h1v1h-1zM108.6 113.4h1v1h-1zM132.9 100.8h1v1h-1zM134.9 115.7h1v1h-1zM129.8 111.1h1v1h-1zM134.5 120.0h1v1h-1zM118.8 104.8h1v1h-1zM74.2 110.3h1v1h-1zM135.6 88.3h1v1h-1zM120.6 111.0h1v1h-1zM123.7 68.4h1v1h-1zM136.3 114.2h1v1h-1zM130.8 111.3h1v1h-1zM135.5 113.9h1v1h-1zM130.0 77.6h1v1h-1zM87.8 104.7h1v1h-1zM123.0 68.1h1v1h-1zM135.5 114.1h1v1h-1zM134.0 113.4h1v1h-1zM133.6 112.8h1v1h-1zM131.7 115.9h1v1h-1zM104.1 114.3h1v1h-1zM132.6 110.1h1v1h-1zM135.4 115.6h1v1h-1zM123.3 106.7h1v1h-1zM132.1 98.0h1v1h-1zM126.7 63.9h1v1h-1zM129.7 112.6h1v1h-1zM123.5 74.0h1v1h-1zM132.9 115.0h1v1h-1zM135.5 115.0h1v1h-1zM130.9 92.7h1v1h-1zM134.0 115.0h1v1h-1zM135.3 113.8h1v1h-1zM124.3 71.0h1v1h-1zM103.2 112.3h1v1h-1zM131.0 115.7h1v1h-1zM137.5 117.5h1v1h-1zM131.4 112.5h1v1h-1zM131.4 111.5h1v1h-1zM129.3 105.5h1v1h-1zM132.4 112.5h1v1h-1zM137.5 111.1h1v1h-1zM135.0 112.0h1v1h-1zM137.5 110.2h1v1h-1zM86.1 107.6h1v1h-1zM131.7 114.9h1v1h-1zM137.3 112.4h1v1h-1zM136.0 113.5h1v1h-1zM127.6 89.0h1v1h-1zM131.6 110.7h1v1h-1zM131.3 118.0h1v1h-1zM123.6 93.3h1v1h-1zM114.9 111.0h1v1h-1zM130.5 97.1h1v1h-1zM131.8 116.0h1v1h-1zM132.7 81.7h1v1h-1zM125.7 98.6h1v1h-1zM122.5 71.6h1v1h-1zM129.8 92.6h1v1h-1zM133.3 112.7h1v1h-1zM135.1 115.1h1v1h-1zM130.6 102.4h1v1h-1zM128.6 77.8h1v1h-1zM129.6 110.6h1v1h-1zM135.9 114.7h1v1h-1zM96.4 95.4h1v1h-1zM85.3 91.1h1v1h-1zM131.0 113.9h1v1h-1zM128.2 58.8h1v1h-1zM135.6 115.0h1v1h-1zM124.8 112.7h1v1h-1zM125.9 49.6h1v1h-1zM114.4 85.2h1v1h-1zM130.8 59.7h1v1h-1zM131.6 68.7h1v1h-1zM129.2 65.2h1v1h-1zM131.0 106.5h1v1h-1zM84.6 112.9h1v1h-1zM137.5 110.1h1v1h-1zM134.6 112.7h1v1h-1zM123.6 93.9h1v1h-1zM135.8 112.9h1v1h-1zM134.4 113.6h1v1h-1zM126.9 94.9h1v1h-1zM122.1 56.1h1v1h-1zM102.6 116.2h1v1h-1zM107.5 113.6h1v1h-1zM130.8 113.2h1v1h-1zM134.3 112.1h1v1h-1zM124.2 63.2h1v1h-1zM138.3 110.4h1v1h-1zM128.6 111.9h1v1h-1zM118.5 58.4h1v1h-1zM130.0 98.2h1v1h-1zM133.8 117.5h1v1h-1zM129.8 88.1h1v1h-1zM130.8 110.9h1v1h-1zM107.6 115.8h1v1h-1zM121.2 52.1h1v1h-1zM132.5 70.4h1v1h-1zM132.9 114.4h1v1h-1zM134.5 113.5h1v1h-1zM140.5 90.6h1v1h-1zM119.1 56.3h1v1h-1zM111.6 113.6h1v1h-1zM108.4 109.3h1v1h-1zM135.3 113.3h1v1h-1zM135.4 114.6h1v1h-1zM130.2 69.6h1v1h-1zM133.5 113.7h1v1h-1zM131.8 112.3h1v1h-1zM126.6 94.3h1v1h-1zM131.2 72.3h1v1h-1zM132.3 109.1h1v1h-1zM127.3 64.8h1v1h-1zM126.7 68.2h1v1h-1zM133.6 110.0h1v1h-1zM130.9 113.7h1v1h-1zM112.9 100.0h1v1h-1zM128.8 112.9h1v1h-1zM130.7 107.7h1v1h-1zM134.3 112.8h1v1h-1zM134.5 115.6h1v1h-1zM139.8 113.5h1v1h-1zM135.3 109.7h1v1h-1zM125.7 115.8h1v1h-1zM119.6 110.5h1v1h-1zM123.5 105.8h1v1h-1zM118.3 118.4h1v1h-1zM128.7 108.7h1v1h-1zM133.8 113.2h1v1h-1zM127.8 58.8h1v1h-1zM135.9 109.0h1v1h-1zM82.2 108.6h1v1h-1zM124.8 113.0h1v1h-1zM133.2 111.6h1v1h-1zM119.3 66.6h1v1h-1zM128.4 111.9h1v1h-1zM130.7 114.7h1v1h-1zM129.8 115.1h1v1h-1zM127.8 52.3h1v1h-1zM130.5 114.5h1v1h-1zM127.2 69.8h1v1h-1zM134.9 109.5h1v1h-1zM132.6 84.2h1v1h-1zM79.2 114.7h1v1h-1zM133.7 113.7h1v1h-1zM131.7 117.2h1v1h-1zM130.1 116.8h1v1h-1zM134.2 116.9h1v1h-1zM134.8 110.6h1v1h-1zM118.9 95.7h1v1h-1zM127.8 68.3h1v1h-1zM133.7 96.0h1v1h-1zM132.3 64.6h1v1h-1zM122.2 109.5h1v1h-1zM133.8 75.0h1v1h-1zM75.5 113.1h1v1h-1zM136.9 111.1h1v1h-1zM129.6 112.0h1v1h-1zM121.1 112.3h1v1h-1zM130.0 110.3h1v1h-1zM124.8 108.6h1v1h-1zM135.4 115.2h1v1h-1zM131.1 109.7h1v1h-1zM132.6 110.4h1v1h-1zM133.6 111.6h1v1h-1zM115.4 84.2h1v1h-1zM126.9 115.3h1v1h-1zM134.1 111.8h1v1h-1zM130.5 113.1h1v1h-1zM103.4 72.0h1v1h-1z" fill="#000" fill-opacity="0.55"/>
<path d="M90.8 111.3h1v1h-1zM121.3 90.2h1v1h-1zM119.9 90.7h1v1h-1zM134.8 68.2h1v1h-1zM134.5 113.8h1v1h-1zM130.9 113.0h1v1h-1zM129.8 81.9h1v1h-1zM134.2 108.0h1v1h-1zM129.8 108.8h1v1h-1zM113.8 106.3h1v1h-1zM134.5 111.9h1v1h-1zM118.9 86.3h1v1h-1zM124.3 51.1h1v1h-1zM133.1 110.1h1v1h-1zM132.1 69.0h1v1h-1zM132.6 110.6h1v1h-1zM130.1 68.2h1v1h-1zM132.8 110.6h1v1h-1zM128.7 58.5h1v1h-1zM127.2 59.8h1v1h-1zM127.4 107.8h1v1h-1zM107.0 115.2h1v1h-1zM127.9 61.9h1v1h-1zM135.3 111.7h1v1h-1zM132.2 117.5h1v1h-1zM132.1 112.8h1v1h-1zM130.6 114.3h1v1h-1zM72.5 105.4h1v1h-1zM128.3 78.1h1v1h-1zM131.0 117.6h1v1h-1zM75.0 110.5h1v1h-1zM135.5 112.7h1v1h-1zM132.0 111.6h1v1h-1zM133.6 113.3h1v1h-1zM125.0 98.4h1v1h-1zM123.9 97.8h1v1h-1zM129.9 112.8h1v1h-1zM130.9 114.0h1v1h-1zM130.8 111.9h1v1h-1zM135.7 109.5h1v1h-1zM127.2 114.6h1v1h-1zM118.4 90.1h1v1h-1zM128.3 114.4h1v1h-1zM135.0 111.2h1v1h-1zM127.3 110.6h1v1h-1zM133.3 110.5h1v1h-1zM133.5 113.9h1v1h-1zM119.3 107.9h1v1h-1zM134.1 100.8h1v1h-1zM130.9 113.1h1v1h-1zM134.3 73.1h1v1h-1zM126.6 98.2h1v1h-1zM131.7 110.4h1v1h-1zM134.6 110.3h1v1h-1zM120.2 108.7h1v1h-1zM72.4 112.6h1v1h-1zM71.7 117.6h1v1h-1zM128.9 111.2h1v1h-1zM134.2 110.1h1v1h-1zM131.6 111.1h1v1h-1zM139.3 114.2h1v1h-1zM135.8 112.2h1v1h-1zM124.1 110.8h1v1h-1zM129.2 111.2h1v1h-1zM131.5 111.9h1v1h-1zM131.5 113.5h1v1h-1zM96.5 111.3h1v1h-1zM121.6 108.7h1v1h-1zM127.8 92.7h1v1h-1zM93.0 105.7h1v1h-1zM125.9 66.5h1v1h-1zM123.6 116.3h1v1h-1zM126.6 69.8h1v1h-1zM83.0 109.4h1v1h-1zM134.3 111.6h1v1h-1zM130.6 113.5h1v1h-1zM127.0 113.4h1v1h-1zM129.3 115.1h1v1h-1zM132.5 59.1h1v1h-1zM121.5 49.8h1v1h-1zM133.4 111.1h1v1h-1zM130.3 110.0h1v1h-1zM119.3 108.9h1v1h-1zM111.8 107.1h1v1h-1zM130.8 111.2h1v1h-1zM141.0 115.5h1v1h-1zM134.5 111.8h1v1h-1zM137.2 112.8h1v1h-1zM133.7 111.5h1v1h-1zM104.2 116.1h1v1h-1zM134.2 112.6h1v1h-1zM101.0 117.4h1v1h-1zM118.5 112.5h1v1h-1zM115.5 63.1h1v1h-1zM123.6 72.0h1v1h-1zM134.7 111.6h1v1h-1zM110.6 110.2h1v1h-1zM131.7 113.1h1v1h-1zM121.3 98.9h1v1h-1zM133.4 112.9h1v1h-1zM114.8 116.0h1v1h-1zM130.0 112.7h1v1h-1zM118.8 53.7h1v1h-1zM122.0 93.2h1v1h-1zM131.0 107.6h1v1h-1zM123.0 89.5h1v1h-1zM88.0 111.6h1v1h-1zM128.1 100.2h1v1h-1zM133.0 109.5h1v1h-1zM135.5 111.9h1v1h-1zM133.1 111.5h1v1h-1zM132.0 112.9h1v1h-1zM139.1 110.4h1v1h-1zM130.8 116.7h1v1h-1zM132.5 112.9h1v1h-1zM131.7 110.1h1v1h-1zM130.3 107.8h1v1h-1zM114.3 115.0h1v1h-1zM132.6 113.9h1v1h-1zM131.5 116.5h1v1h-1zM128.5 71.5h1v1h-1zM134.3 114.4h1v1h-1zM128.4 104.3h1v1h-1zM134.7 111.3h1v1h-1zM129.2 109.1h1v1h-1zM131.6 112.1h1v1h-1zM120.0 94.5h1v1h-1zM131.8 115.8h1v1h-1zM133.0 112.3h1v1h-1zM128.5 62.9h1v1h-1zM126.2 59.7h1v1h-1zM133.2 115.3h1v1h-1zM129.7 115.8h1v1h-1zM128.9 117.3h1v1h-1zM131.4 113.1h1v1h-1zM129.1 109.9h1v1h-1zM132.5 116.2h1v1h-1zM133.1 112.6h1v1h-1zM125.2 61.6h1v1h-1zM122.4 112.8h1v1h-1zM122.6 65.7h1v1h-1zM129.8 91.6h1v1h-1zM140.6 112.3h1v1h-1zM129.9 109.6h1v1h-1zM135.4 111.4h1v1h-1zM129.3 111.0h1v1h-1zM124.4 98.1h1v1h-1zM130.5 111.7h1v1h-1zM130.5 113.3h1v1h-1zM134.3 114.5h1v1h-1zM116.8 112.3h1v1h-1zM123.6 96.7h1v1h-1zM93.0 114.5h1v1h-1zM131.5 110.7h1v1h-1zM132.7 114.8h1v1h-1zM123.0 95.5h1v1h-1zM122.2 63.7h1v1h-1zM135.2 113.5h1v1h-1zM132.2 110.7h1v1h-1zM129.7 113.7h1v1h-1zM135.1 83.0h1v1h-1zM135.1 110.7h1v1h-1zM128.3 114.9h1v1h-1zM132.7 111.3h1v1h-1zM133.8 113.6h1v1h-1zM138.6 112.3h1v1h-1zM127.6 111.2h1v1h-1zM137.0 114.5h1v1h-1zM107.8 80.3h1v1h-1zM131.7 114.8h1v1h-1zM132.0 112.9h1v1h-1zM138.5 115.0h1v1h-1zM134.3 110.7h1v1h-1zM133.2 113.9h1v1h-1zM72.5 111.1h1v1h-1zM130.7 110.7h1v1h-1zM134.4 111.7h1v1h-1zM129.2 71.1h1v1h-1zM134.9 114.7h1v1h-1zM135.7 118.2h1v1h-1zM138.5 113.5h1v1h-1zM77.5 110.7h1v1h-1zM128.9 88.6h1v1h-1zM127.0 103.2h1v1h-1zM118.3 108.0h1v1h-1zM129.1 112.3h1v1h-1zM136.5 112.8h1v1h-1zM133.1 117.4h1v1h-1zM133.7 114.1h1v1h-1zM124.8 62.1h1v1h-1zM122.0 57.2h1v1h-1zM75.6 117.1h1v1h-1zM131.3 114.1h1v1h-1zM132.1 113.0h1v1h-1zM134.3 112.0h1v1h-1zM135.1 68.1h1v1h-1zM133.7 110.8h1v1h-1zM133.0 111.3h1v1h-1zM137.4 117.2h1v1h-1zM91.8 110.9h1v1h-1zM129.0 109.1h1v1h-1zM133.3 62.8h1v1h-1zM135.1 63.1h1v1h-1zM116.7 54.4h1v1h-1zM127.4 71.1h1v1h-1zM134.8 110.6h1v1h-1zM127.9 60.2h1v1h-1zM123.5 63.5h1v1h-1zM130.7 113.2h1v1h-1zM136.6 108.8h1v1h-1zM129.9 95.9h1v1h-1zM118.3 113.5h1v1h-1zM129.7 116.6h1v1h-1zM116.2 99.2h1v1h-1zM120.8 66.0h1v1h-1zM129.3 109.7h1v1h-1zM73.5 108.2h1v1h-1zM133.8 112.7h1v1h-1zM67.4 114.8h1v1h-1zM125.7 60.8h1v1h-1zM122.6 61.1h1v1h-1zM135.4 110.8h1v1h-1zM76.3 106.9h1v1h-1zM127.2 110.3h1v1h-1zM131.8 111.0h1v1h-1zM134.0 100.2h1v1h-1zM134.2 99.8h1v1h-1zM127.5 112.8h1v1h-1zM134.9 66.5h1v1h-1zM134.8 112.9h1v1h-1zM127.3 73.8h1v1h-1zM131.3 59.9h1v1h-1zM132.4 115.8h1v1h-1zM135.4 112.9h1v1h-1zM132.3 112.7h1v1h-1zM131.5 114.1h1v1h-1zM124.3 92.3h1v1h-1zM121.1 110.2h1v1h-1zM134.5 111.4h1v1h-1zM128.2 66.5h1v1h-1zM125.1 75.1h1v1h-1zM133.7 115.2h1v1h-1zM127.9 103.3h1v1h-1zM116.3 98.1h1v1h-1zM132.2 114.7h1v1h-1zM124.9 52.5h1v1h-1zM136.9 113.5h1v1h-1zM128.4 114.6h1v1h-1zM97.9 113.7h1v1h-1zM79.0 117.5h1v1h-1zM108.7 80.1h1v1h-1zM131.1 116.6h1v1h-1zM113.0 111.8h1v1h-1zM135.7 112.2h1v1h-1zM130.4 115.1h1v1h-1zM134.6 110.6h1v1h-1zM132.5 113.4h1v1h-1zM138.0 110.7h1v1h-1zM119.3 91.4h1v1h-1zM133.2 111.1h1v1h-1zM80.7 116.3h1v1h-1zM129.8 114.1h1v1h-1zM131.2 114.3h1v1h-1zM132.1 112.8h1v1h-1zM82.9 116.2h1v1h-1zM129.2 110.5h1v1h-1zM133.8 111.8h1v1h-1zM128.9 65.2h1v1h-1zM118.3 108.6h1v1h-1zM122.7 103.0h1v1h-1zM75.4 108.7h1v1h-1zM135.7 118.1h1v1h-1zM125.6 63.0h1v1h-1zM133.2 82.5h1v1h-1zM135.2 115.1h1v1h-1zM131.6 64.6h1v1h-1zM132.0 118.2h1v1h-1zM131.9 59.4h1v1h-1zM120.6 68.1h1v1h-1zM127.6 109.1h1v1h-1zM128.4 111.3h1v1h-1zM128.0 111.5h1v1h-1zM132.9 106.8h1v1h-1zM127.5 61.2h1v1h-1zM133.2 109.4h1v1h-1zM95.7 109.3h1v1h-1zM113.0 91.1h1v1h-1zM107.9 71.7h1v1h-1zM136.9 112.5h1v1h-1zM129.8 74.1h1v1h-1zM113.7 109.3h1v1h-1zM132.5 111.7h1v1h-1zM98.5 112.7h1v1h-1zM128.6 64.4h1v1h-1zM132.7 111.3h1v1h-1zM76.7 107.1h1v1h-1zM124.5 65.1h1v1h-1zM136.7 112.4h1v1h-1zM141.5 112.1h1v1h-1zM129.2 109.2h1v1h-1zM131.8 110.5h1v1h-1zM125.7 110.3h1v1h-1zM133.4 89.3h1v1h-1zM134.4 113.9h1v1h-1zM129.7 93.5h1v1h-1zM119.2 66.7h1v1h-1zM119.3 65.6h1v1h-1zM124.7 109.2h1v1h-1zM132.4 115.5h1v1h-1zM134.9 115.0h1v1h-1zM134.9 111.3h1v1h-1zM132.9 113.9h1v1h-1zM136.8 109.8h1v1h-1zM121.0 82.4h1v1h-1zM132.8 90.9h1v1h-1zM134.7 111.2h1v1h-1zM133.2 67.5h1v1h-1zM127.1 69.0h1v1h-1zM135.2 97.1h1v1h-1zM132.7 111.7h1v1h-1zM132.7 115.8h1v1h-1zM107.4 118.6h1v1h-1zM128.7 60.2h1v1h-1zM131.9 113.6h1v1h-1zM134.9 111.6h1v1h-1zM131.6 113.9h1v1h-1zM131.5 111.7h1v1h-1zM134.4 111.4h1v1h-1zM131.2 89.8h1v1h-1zM134.7 111.3h1v1h-1zM127.9 109.5h1v1h-1zM112.4 89.0h1v1h-1zM128.5 104.2h1v1h-1zM133.2 114.9h1v1h-1zM105.4 115.0h1v1h-1zM130.4 113.6h1v1h-1zM126.1 111.1h1v1h-1zM131.7 111.7h1v1h-1zM133.1 113.4h1v1h-1zM110.8 96.4h1v1h-1zM128.2 109.2h1v1h-1zM129.0 114.5h1v1h-1zM122.6 65.7h1v1h-1zM135.7 109.7h1v1h-1zM131.0 116.1h1v1h-1zM135.1 115.7h1v1h-1zM137.2 112.8h1v1h-1zM85.6 108.5h1v1h-1zM132.8 115.8h1v1h-1zM132.4 111.3h1v1h-1zM135.5 114.0h1v1h-1zM128.4 108.8h1v1h-1zM133.1 116.1h1v1h-1zM126.4 96.1h1v1h-1zM136.5 114.8h1v1h-1zM127.9 115.3h1v1h-1zM134.9 66.3h1v1h-1zM129.3 113.2h1v1h-1zM137.1 110.0h1v1h-1zM120.2 58.4h1v1h-1zM80.1 113.6h1v1h-1zM75.3 109.3h1v1h-1zM128.1 113.3h1v1h-1zM135.2 116.5h1v1h-1zM136.8 106.2h1v1h-1zM134.6 112.0h1v1h-1zM137.5 113.5h1v1h-1zM124.8 112.4h1v1h-1zM122.3 64.7h1v1h-1zM95.2 112.8h1v1h-1zM140.2 68.5h1v1h-1zM128.5 112.7h1v1h-1zM135.6 112.2h1v1h-1zM81.9 110.9h1v1h-1zM130.8 84.1h1v1h-1zM126.8 52.7h1v1h-1zM127.9 55.6h1v1h-1zM106.5 113.2h1v1h-1zM131.1 115.2h1v1h-1zM134.0 111.7h1v1h-1zM135.2 114.7h1v1h-1zM127.1 119.9h1v1h-1zM112.7 97.3h1v1h-1zM118.0 109.5h1v1h-1zM133.5 112.2h1v1h-1zM127.7 62.7h1v1h-1zM132.5 115.5h1v1h-1zM115.9 116.3h1v1h-1zM130.2 109.4h1v1h-1zM124.6 99.8h1v1h-1zM128.4 107.6h1v1h-1zM133.4 113.7h1v1h-1zM129.1 116.2h1v1h-1zM132.4 113.5h1v1h-1zM118.4 109.6h1v1h-1zM128.3 67.9h1v1h-1zM134.1 110.6h1v1h-1zM137.8 109.3h1v1h-1zM128.0 114.5h1v1h-1zM132.6 113.4h1v1h-1zM131.9 108.9h1v1h-1zM118.0 69.0h1v1h-1zM131.3 115.6h1v1h-1zM125.0 70.4h1v1h-1zM111.2 102.3h1v1h-1zM130.7 59.0h1v1h-1zM87.0 118.4h1v1h-1zM130.6 112.4h1v1h-1zM123.8 63.9h1v1h-1zM121.4 65.3h1v1h-1zM130.8 114.2h1v1h-1zM113.1 75.3h1v1h-1zM132.5 116.9h1v1h-1zM121.9 69.3h1v1h-1zM124.0 65.5h1v1h-1zM116.7 111.2h1v1h-1zM133.4 118.9h1v1h-1zM121.5 59.8h1v1h-1zM131.3 107.8h1v1h-1zM131.5 113.9h1v1h-1zM131.5 115.0h1v1h-1zM88.5 113.4h1v1h-1zM131.7 113.0h1v1h-1zM129.5 113.8h1v1h-1zM132.0 115.7h1v1h-1zM135.2 109.4h1v1h-1zM132.7 90.1h1v1h-1zM135.6 115.9h1v1h-1zM133.5 111.9h1v1h-1zM133.4 116.9h1v1h-1zM135.6 112.8h1v1h-1zM121.4 62.4h1v1h-1zM132.0 108.0h1v1h-1zM126.2 74.1h1v1h-1zM117.6 93.8h1v1h-1zM135.4 111.1h1v1h-1zM93.3 115.3h1v1h-1zM128.9 113.9h1v1h-1zM127.5 96.9h1v1h-1zM131.3 112.5h1v1h-1zM123.5 112.0h1v1h-1zM73.6 107.7h1v1h-1zM136.5 115.5h1v1h-1zM135.8 113.5h1v1h-1zM104.5 111.3h1v1h-1zM125.6 63.1h1v1h-1zM131.1 114.3h1v1h-1zM131.4 108.1h1v1h-1zM104.6 111.0h1v1h-1zM131.5 108.5h1v1h-1zM132.7 112.1h1v1h-1zM133.4 110.7h1v1h-1zM131.7 114.1h1v1h-1zM128.2 89.7h1v1h-1zM125.2 110.8h1v1h-1zM124.1 65.5h1v1h-1zM112.0 93.5h1v1h-1zM104.6 80.3h1v1h-1zM136.9 109.5h1v1h-1zM103.0 71.6h1v1h-1zM124.0 108.5h1v1h-1zM135.9 114.2h1v1h-1zM133.1 117.0h1v1h-1zM132.6 108.2h1v1h-1zM132.3 61.4h1v1h-1zM130.4 67.4h1v1h-1zM129.4 113.1h1v1h-1zM132.0 115.4h1v1h-1zM114.4 76.8h1v1h-1zM138.6 111.2h1v1h-1zM111.8 116.4h1v1h-1zM122.3 110.8h1v1h-1zM81.0 114.1h1v1h-1zM132.3 65.9h1v1h-1zM131.2 66.8h1v1h-1zM122.4 68.8h1v1h-1zM133.7 110.5h1v1h-1zM128.9 114.4h1v1h-1zM131.7 114.4h1v1h-1zM127.8 98.8h1v1h-1zM128.6 99.8h1v1h-1zM133.7 112.8h1v1h-1zM89.3 92.1h1v1h-1zM131.5 111.7h1v1h-1zM134.0 73.1h1v1h-1zM118.7 111.0h1v1h-1zM131.2 111.0h1v1h-1zM125.6 114.9h1v1h-1zM73.3 118.6h1v1h-1zM84.0 114.9h1v1h-1zM122.4 83.3h1v1h-1zM130.9 117.3h1v1h-1zM134.5 113.6h1v1h-1zM133.0 111.5h1v1h-1zM135.1 121.6h1v1h-1zM138.3 111.1h1v1h-1zM132.4 112.5h1v1h-1zM134.6 93.8h1v1h-1zM134.4 111.2h1v1h-1zM121.1 89.3h1v1h-1zM130.4 117.5h1v1h-1zM122.2 112.5h1v1h-1zM113.7 100.5h1v1h-1zM121.9 112.1h1v1h-1zM133.9 114.6h1v1h-1zM114.3 112.2h1v1h-1zM132.6 117.1h1v1h-1zM133.4 110.5h1v1h-1zM80.2 113.6h1v1h-1zM129.5 113.4h1v1h-1zM131.7 114.8h1v1h-1zM138.6 116.3h1v1h-1zM121.8 110.2h1v1h-1zM131.4 58.5h1v1h-1zM109.7 53.6h1v1h-1zM132.1 111.1h1v1h-1zM133.1 115.4h1v1h-1zM133.5 112.3h1v1h-1zM113.7 89.9h1v1h-1zM131.9 100.4h1v1h-1zM131.9 109.5h1v1h-1zM125.9 111.0h1v1h-1zM130.3 109.1h1v1h-1zM131.5 114.4h1v1h-1zM132.6 113.4h1v1h-1zM133.2 89.9h1v1h-1zM131.2 111.2h1v1h-1zM119.6 93.9h1v1h-1zM135.4 108.9h1v1h-1zM126.5 106.3h1v1h-1zM121.1 113.1h1v1h-1zM134.7 106.9h1v1h-1zM129.4 119.1h1v1h-1zM133.4 112.4h1v1h-1zM129.9 109.5h1v1h-1zM127.3 109.4h1v1h-1zM138.3 112.5h1v1h-1zM129.0 111.1h1v1h-1zM127.4 71.4h1v1h-1zM122.6 59.5h1v1h-1zM136.0 118.5h1v1h-1zM131.3 113.3h1v1h-1zM123.4 94.3h1v1h-1zM131.0 110.0h1v1h-1zM80.5 109.4h1v1h-1zM132.2 112.0h1v1h-1zM113.9 115.1h1v1h-1zM132.4 58.8h1v1h-1zM131.4 109.6h1v1h-1zM133.9 63.6h1v1h-1zM134.4 111.5h1v1h-1zM133.0 114.2h1v1h-1zM118.0 110.7h1v1h-1zM132.9 110.2h1v1h-1zM121.8 91.3h1v1h-1zM119.4 108.8h1v1h-1zM133.8 114.3h1v1h-1zM71.2 108.8h1v1h-1zM114.4 112.6h1v1h-1zM133.0 116.5h1v1h-1zM137.2 115.1h1v1h-1zM125.9 65.5h1v1h-1zM121.6 105.2h1v1h-1zM127.3 99.7h1v1h-1zM125.9 112.8h1v1h-1zM127.4 110.3h1v1h-1zM133.2 113.4h1v1h-1zM127.2 66.4h1v1h-1zM112.1 114.0h1v1h-1zM131.9 111.4h1v1h-1zM137.2 112.1h1v1h-1zM67.2 110.7h1v1h-1zM111.3 113.5h1v1h-1zM132.9 114.5h1v1h-1zM130.8 59.4h1v1h-1zM132.2 86.6h1v1h-1zM136.1 111.2h1v1h-1zM137.0 67.8h1v1h-1z" fill="#000" fill-opacity="0.55"/>
<path d="M130.2 112.7h1v1h-1zM111.7 107.2h1v1h-1zM111.9 114.6h1v1h-1zM125.6 112.4h1v1h-1zM134.5 116.2h1v1h-1zM116.7 97.9h1v1h-1zM123.3 111.6h1v1h-1zM113.4 66.9h1v1h-1zM127.4 64.5h1v1h-1zM130.5 114.8h1v1h-1zM122.5 63.5h1v1h-1zM124.2 111.6h1v1h-1zM130.0 110.2h1v1h-1zM104.1 107.6h1v1h-1zM127.4 76.6h1v1h-1zM132.7 109.2h1v1h-1zM125.2 71.5h1v1h-1zM135.7 111.5h1v1h-1zM129.8 111.1h1v1h-1zM80.2 113.1h1v1h-1zM135.1 115.0h1v1h-1zM134.4 114.4h1v1h-1zM134.1 113.4h1v1h-1zM141.2 113.4h1v1h-1zM112.5 95.9h1v1h-1zM120.7 97.7h1v1h-1zM134.6 117.0h1v1h-1zM135.9 112.7h1v1h-1zM129.9 113.5h1v1h-1zM122.9 107.4h1v1h-1zM79.7 114.3h1v1h-1zM138.2 112.8h1v1h-1zM130.4 112.6h1v1h-1zM135.9 113.7h1v1h-1zM131.8 117.5h1v1h-1zM130.9 112.3h1v1h-1zM120.9 114.9h1v1h-1zM113.7 113.3h1v1h-1zM131.6 96.7h1v1h-1zM138.9 115.5h1v1h-1zM130.6 111.8h1v1h-1zM122.8 67.5h1v1h-1zM119.8 81.9h1v1h-1zM122.9 115.5h1v1h-1zM133.8 106.6h1v1h-1zM135.1 52.6h1v1h-1zM124.4 73.2h1v1h-1zM76.9 108.7h1v1h-1zM130.2 116.6h1v1h-1zM115.8 78.6h1v1h-1zM122.9 114.8h1v1h-1zM134.7 114.4h1v1h-1zM132.4 109.4h1v1h-1zM128.7 110.6h1v1h-1zM118.9 103.3h1v1h-1zM132.9 59.4h1v1h-1zM125.0 64.0h1v1h-1zM127.5 87.2h1v1h-1zM129.4 64.9h1v1h-1zM99.6 117.2h1v1h-1zM73.3 108.8h1v1h-1zM127.9 64.7h1v1h-1zM77.9 113.0h1v1h-1zM138.7 110.2h1v1h-1zM129.1 104.0h1v1h-1zM133.6 108.3h1v1h-1zM130.7 113.5h1v1h-1zM127.7 116.8h1v1h-1zM131.9 108.2h1v1h-1zM131.5 111.9h1v1h-1zM131.8 107.6h1v1h-1zM75.0 107.8h1v1h-1zM126.6 61.2h1v1h-1zM125.8 57.0h1v1h-1zM80.6 114.4h1v1h-1zM131.7 57.7h1v1h-1zM130.0 110.4h1v1h-1zM97.7 118.9h1v1h-1zM131.3 112.3h1v1h-1zM135.6 115.8h1v1h-1zM124.0 65.6h1v1h-1zM132.9 114.8h1v1h-1zM130.3 114.1h1v1h-1zM131.7 64.9h1v1h-1zM130.1 112.7h1v1h-1zM132.1 113.3h1v1h-1zM115.2 100.1h1v1h-1zM134.8 112.3h1v1h-1zM132.8 113.2h1v1h-1zM88.2 112.9h1v1h-1zM72.3 110.7h1v1h-1zM129.0 116.2h1v1h-1zM134.1 109.5h1v1h-1zM126.5 72.0h1v1h-1zM121.6 89.5h1v1h-1zM125.4 110.4h1v1h-1zM133.8 112.1h1v1h-1zM114.8 113.1h1v1h-1zM131.4 112.5h1v1h-1zM130.2 112.1h1v1h-1zM134.7 66.5h1v1h-1zM134.6 111.9h1v1h-1zM130.8 114.2h1v1h-1zM136.7 111.3h1v1h-1zM136.2 114.9h1v1h-1zM124.8 79.3h1v1h-1zM133.4 112.8h1v1h-1zM132.2 115.0h1v1h-1zM131.9 86.8h1v1h-1zM129.4 112.0h1v1h-1zM136.1 114.1h1v1h-1zM130.1 111.1h1v1h-1zM133.5 113.9h1v1h-1zM129.3 113.0h1v1h-1zM120.4 114.4h1v1h-1zM128.6 107.7h1v1h-1zM134.4 67.5h1v1h-1zM133.2 115.7h1v1h-1zM134.2 112.3h1v1h-1zM128.9 110.0h1v1h-1zM131.1 111.8h1v1h-1zM132.5 117.8h1v1h-1zM132.2 112.7h1v1h-1zM134.1 112.0h1v1h-1zM131.0 113.0h1v1h-1zM133.3 112.8h1v1h-1zM124.5 73.0h1v1h-1zM130.4 114.9h1v1h-1zM122.6 112.6h1v1h-1zM122.8 113.8h1v1h-1zM135.5 111.4h1v1h-1zM129.9 112.2h1v1h-1zM130.7 83.2h1v1h-1zM78.5 107.9h1v1h-1zM133.0 114.8h1v1h-1zM122.1 78.2h1v1h-1zM126.3 115.5h1v1h-1zM129.1 108.7h1v1h-1zM123.9 58.2h1v1h-1zM130.7 62.7h1v1h-1zM127.1 108.8h1v1h-1zM131.1 112.3h1v1h-1zM120.0 113.6h1v1h-1zM122.6 109.9h1v1h-1zM131.8 110.3h1v1h-1zM106.4 113.5h1v1h-1zM133.1 112.5h1v1h-1zM118.7 67.8h1v1h-1zM130.4 117.9h1v1h-1zM134.7 117.3h1v1h-1zM120.1 111.4h1v1h-1zM132.9 115.8h1v1h-1zM131.9 116.0h1v1h-1zM129.0 115.9h1v1h-1zM131.8 65.2h1v1h-1zM136.8 112.4h1v1h-1zM129.2 76.8h1v1h-1zM131.2 115.0h1v1h-1zM131.2 109.4h1v1h-1zM132.7 97.4h1v1h-1zM83.5 109.7h1v1h-1zM133.7 115.9h1v1h-1zM135.3 58.2h1v1h-1zM127.3 64.2h1v1h-1zM124.7 83.9h1v1h-1zM131.8 77.8h1v1h-1zM136.7 110.3h1v1h-1zM120.6 110.4h1v1h-1zM134.7 108.4h1v1h-1zM120.4 94.0h1v1h-1zM127.3 114.9h1v1h-1zM98.7 113.0h1v1h-1zM129.7 114.4h1v1h-1zM99.4 113.7h1v1h-1zM132.0 86.9h1v1h-1zM133.0 61.2h1v1h-1zM133.7 113.3h1v1h-1zM138.5 110.1h1v1h-1zM119.5 66.2h1v1h-1zM132.1 108.6h1v1h-1zM135.8 81.5h1v1h-1zM83.0 111.5h1v1h-1zM119.9 59.7h1v1h-1zM129.7 60.9h1v1h-1zM130.1 109.4h1v1h-1zM132.0 112.0h1v1h-1zM111.6 112.1h1v1h-1zM130.9 56.2h1v1h-1zM135.1 113.2h1v1h-1zM96.7 106.7h1v1h-1zM129.9 111.1h1v1h-1zM123.9 112.1h1v1h-1zM129.9 110.5h1v1h-1zM124.8 73.8h1v1h-1zM127.2 71.2h1v1h-1zM127.5 89.7h1v1h-1zM129.6 112.5h1v1h-1zM131.4 111.9h1v1h-1zM136.7 108.0h1v1h-1zM132.3 89.5h1v1h-1zM133.4 112.5h1v1h-1zM129.1 111.1h1v1h-1zM139.8 112.4h1v1h-1zM134.4 111.1h1v1h-1zM135.0 110.8h1v1h-1zM122.5 93.9h1v1h-1zM130.9 113.4h1v1h-1zM122.4 51.5h1v1h-1zM125.7 61.6h1v1h-1zM77.4 111.0h1v1h-1zM130.7 114.6h1v1h-1zM130.0 111.3h1v1h-1zM133.8 107.9h1v1h-1zM138.5 113.8h1v1h-1zM131.7 116.1h1v1h-1zM135.2 114.8h1v1h-1zM115.5 116.3h1v1h-1zM114.1 111.3h1v1h-1zM126.8 55.6h1v1h-1zM90.6 112.8h1v1h-1zM118.3 55.1h1v1h-1zM132.2 113.8h1v1h-1zM74.2 108.8h1v1h-1zM135.0 106.7h1v1h-1zM124.3 112.6h1v1h-1zM131.0 112.4h1v1h-1zM134.8 112.9h1v1h-1zM123.1 85.7h1v1h-1zM115.8 107.8h1v1h-1zM90.4 110.3h1v1h-1zM132.5 116.2h1v1h-1zM129.2 112.0h1v1h-1zM118.4 95.1h1v1h-1zM133.9 116.9h1v1h-1zM111.8 70.3h1v1h-1zM129.6 113.6h1v1h-1zM136.3 109.9h1v1h-1zM135.6 111.6h1v1h-1zM125.3 113.8h1v1h-1zM131.8 113.1h1v1h-1zM81.5 115.6h1v1h-1zM86.4 106.9h1v1h-1zM132.8 113.6h1v1h-1zM135.3 113.7h1v1h-1zM73.9 114.9h1v1h-1zM129.3 113.0h1v1h-1zM130.1 110.3h1v1h-1zM134.2 115.4h1v1h-1zM131.7 66.2h1v1h-1zM133.0 62.7h1v1h-1zM131.3 113.6h1v1h-1zM134.8 108.6h1v1h-1zM135.4 109.7h1v1h-1zM134.5 114.0h1v1h-1zM122.6 82.7h1v1h-1zM134.0 110.9h1v1h-1zM109.8 112.7h1v1h-1zM128.6 116.7h1v1h-1zM124.8 94.9h1v1h-1zM121.1 91.5h1v1h-1zM136.8 114.3h1v1h-1zM105.2 58.9h1v1h-1zM133.6 113.3h1v1h-1zM104.3 110.6h1v1h-1zM83.3 111.3h1v1h-1zM133.7 109.6h1v1h-1zM110.4 87.7h1v1h-1zM131.7 112.0h1v1h-1zM137.7 108.9h1v1h-1zM74.1 115.4h1v1h-1zM136.1 112.8h1v1h-1zM130.0 113.2h1v1h-1zM72.1 111.3h1v1h-1zM126.0 110.3h1v1h-1zM109.1 108.2h1v1h-1zM133.1 112.7h1v1h-1zM134.1 115.8h1v1h-1zM128.7 114.8h1v1h-1zM129.4 119.6h1v1h-1zM138.3 111.1h1v1h-1zM120.5 115.0h1v1h-1zM133.7 112.0h1v1h-1zM132.2 112.8h1v1h-1zM132.6 90.2h1v1h-1zM131.2 112.0h1v1h-1zM135.2 110.1h1v1h-1zM134.3 92.7h1v1h-1zM128.7 111.6h1v1h-1zM131.1 114.2h1v1h-1zM124.0 98.4h1v1h-1zM111.4 91.4h1v1h-1zM132.0 108.2h1v1h-1zM127.7 72.4h1v1h-1zM132.9 96.3h1v1h-1zM129.6 87.6h1v1h-1zM134.1 114.6h1v1h-1zM75.7 107.2h1v1h-1zM133.6 111.3h1v1h-1zM82.8 118.1h1v1h-1zM76.9 110.0h1v1h-1zM130.1 112.8h1v1h-1zM134.9 115.0h1v1h-1zM104.9 60.8h1v1h-1zM132.0 106.9h1v1h-1zM131.0 111.8h1v1h-1zM135.4 110.8h1v1h-1zM117.9 110.1h1v1h-1zM129.5 114.5h1v1h-1zM133.5 113.1h1v1h-1zM133.9 113.1h1v1h-1zM132.8 59.4h1v1h-1zM120.5 65.5h1v1h-1zM107.7 107.3h1v1h-1zM105.7 85.1h1v1h-1zM127.2 118.0h1v1h-1zM133.8 112.5h1v1h-1zM117.3 45.6h1v1h-1zM123.7 66.6h1v1h-1zM131.3 112.3h1v1h-1zM123.5 76.0h1v1h-1zM120.5 59.8h1v1h-1zM129.7 116.1h1v1h-1zM134.6 111.0h1v1h-1zM114.6 80.8h1v1h-1zM137.4 112.3h1v1h-1zM134.4 112.3h1v1h-1zM123.8 61.7h1v1h-1zM124.0 109.7h1v1h-1zM121.0 77.0h1v1h-1zM135.5 113.1h1v1h-1zM136.7 112.5h1v1h-1zM130.7 115.4h1v1h-1zM133.4 69.1h1v1h-1zM124.7 91.9h1v1h-1zM129.2 98.7h1v1h-1zM121.3 65.3h1v1h-1zM134.0 110.3h1v1h-1zM133.9 110.1h1v1h-1zM134.6 116.0h1v1h-1zM134.6 109.7h1v1h-1zM129.8 100.2h1v1h-1zM108.5 107.3h1v1h-1zM123.6 60.4h1v1h-1zM128.8 115.2h1v1h-1zM92.3 100.4h1v1h-1zM77.0 115.6h1v1h-1zM135.6 117.7h1v1h-1zM124.3 73.0h1v1h-1zM131.7 116.1h1v1h-1zM114.4 112.6h1v1h-1zM73.9 110.2h1v1h-1zM134.2 112.2h1v1h-1zM130.1 112.9h1v1h-1zM133.3 61.0h1v1h-1zM134.3 112.1h1v1h-1zM122.2 109.7h1v1h-1zM132.5 113.7h1v1h-1zM135.2 113.9h1v1h-1zM133.2 116.0h1v1h-1zM131.6 111.5h1v1h-1zM124.8 63.8h1v1h-1zM134.2 112.8h1v1h-1zM129.0 70.0h1v1h-1zM132.5 113.0h1v1h-1zM124.8 76.1h1v1h-1zM120.4 100.4h1v1h-1zM121.4 96.9h1v1h-1zM116.1 113.3h1v1h-1zM131.1 113.1h1v1h-1zM133.0 113.8h1v1h-1zM134.9 113.4h1v1h-1zM131.6 110.1h1v1h-1zM80.0 109.2h1v1h-1zM130.5 111.5h1v1h-1zM120.3 61.6h1v1h-1zM134.6 110.1h1v1h-1zM132.7 115.1h1v1h-1zM134.1 113.2h1v1h-1zM139.3 111.7h1v1h-1zM126.7 86.8h1v1h-1zM118.3 73.7h1v1h-1zM133.2 115.0h1v1h-1zM118.6 110.7h1v1h-1zM94.0 110.4h1v1h-1zM132.9 110.2h1v1h-1zM128.4 110.3h1v1h-1zM119.9 112.1h1v1h-1zM133.2 112.9h1v1h-1zM134.2 111.4h1v1h-1zM135.6 110.2h1v1h-1zM119.8 52.4h1v1h-1zM124.0 108.8h1v1h-1zM139.0 105.6h1v1h-1zM136.3 115.2h1v1h-1zM110.6 104.1h1v1h-1zM129.8 91.2h1v1h-1zM77.7 116.6h1v1h-1zM135.5 66.8h1v1h-1zM102.3 110.7h1v1h-1zM131.8 108.4h1v1h-1zM127.8 61.9h1v1h-1zM135.0 113.5h1v1h-1zM131.3 116.6h1v1h-1zM129.4 71.4h1v1h-1zM131.6 112.4h1v1h-1zM120.2 74.7h1v1h-1zM134.2 112.5h1v1h-1zM107.0 77.2h1v1h-1zM112.5 73.5h1v1h-1zM122.4 109.6h1v1h-1zM132.9 112.7h1v1h-1zM99.6 113.6h1v1h-1zM132.0 112.7h1v1h-1zM132.5 113.9h1v1h-1zM132.7 114.2h1v1h-1zM130.5 95.0h1v1h-1zM130.1 111.4h1v1h-1zM133.4 112.8h1v1h-1zM133.3 110.5h1v1h-1zM131.9 115.5h1v1h-1zM136.8 113.6h1v1h-1zM131.5 82.9h1v1h-1zM136.0 112.0h1v1h-1zM124.3 114.5h1v1h-1zM130.0 109.4h1v1h-1zM123.3 96.9h1v1h-1zM123.3 115.2h1v1h-1zM134.2 70.5h1v1h-1zM137.6 62.7h1v1h-1zM126.7 59.7h1v1h-1zM113.1 107.2h1v1h-1zM134.2 64.1h1v1h-1zM133.5 113.0h1v1h-1zM122.0 61.4h1v1h-1zM117.9 65.7h1v1h-1zM123.6 72.1h1v1h-1zM117.7 76.0h1v1h-1zM115.2 112.7h1v1h-1zM130.7 112.1h1v1h-1zM129.8 110.5h1v1h-1zM129.9 102.2h1v1h-1zM134.9 116.0h1v1h-1zM114.9 72.2h1v1h-1zM137.7 112.7h1v1h-1zM79.6 112.9h1v1h-1zM86.7 84.5h1v1h-1zM130.5 87.2h1v1h-1zM132.1 115.0h1v1h-1zM128.3 110.8h1v1h-1zM78.5 107.1h1v1h-1zM131.4 112.3h1v1h-1zM136.0 114.1h1v1h-1zM128.1 65.7h1v1h-1zM110.2 118.8h1v1h-1zM131.7 114.4h1v1h-1zM132.3 72.8h1v1h-1zM132.4 61.0h1v1h-1zM94.9 112.2h1v1h-1zM130.4 115.2h1v1h-1zM135.7 110.4h1v1h-1zM132.1 108.6h1v1h-1zM136.6 108.7h1v1h-1zM127.2 79.8h1v1h-1zM127.7 110.5h1v1h-1zM133.0 111.6h1v1h-1zM128.8 96.9h1v1h-1zM126.5 63.5h1v1h-1zM125.5 71.1h1v1h-1zM109.8 56.0h1v1h-1zM105.9 112.9h1v1h-1zM134.0 116.0h1v1h-1zM129.3 118.2h1v1h-1zM130.1 111.9h1v1h-1zM118.4 84.0h1v1h-1zM117.9 109.4h1v1h-1zM105.1 102.3h1v1h-1zM127.5 63.4h1v1h-1zM133.2 114.8h1v1h-1zM124.7 64.0h1v1h-1zM129.5 61.1h1v1h-1zM131.0 70.4h1v1h-1zM134.0 113.5h1v1h-1zM122.4 77.9h1v1h-1zM116.2 111.4h1v1h-1zM127.5 54.9h1v1h-1zM134.9 113.7h1v1h-1zM133.0 112.1h1v1h-1zM127.7 77.1h1v1h-1zM133.1 115.9h1v1h-1zM130.4 113.2h1v1h-1zM130.5 108.1h1v1h-1zM130.5 110.4h1v1h-1zM127.2 68.0h1v1h-1zM134.3 115.7h1v1h-1zM132.0 105.3h1v1h-1zM132.3 114.4h1v1h-1zM129.1 115.8h1v1h-1zM134.6 110.0h1v1h-1zM129.9 96.3h1v1h-1zM136.2 114.5h1v1h-1zM124.9 109.0h1v1h-1zM133.1 113.0h1v1h-1zM132.3 110.8h1v1h-1zM130.8 89.1h1v1h-1zM133.6 112.2h1v1h-1zM133.7 114.1h1v1h-1zM125.3 81.2h1v1h-1zM85.4 114.8h1v1h-1zM131.0 112.9h1v1h-1zM126.1 88.9h1v1h-1zM134.1 114.0h1v1h-1zM125.3 59.6h1v1h-1zM133.1 114.1h1v1h-1zM133.5 115.3h1v1h-1zM122.6 65.8h1v1h-1zM133.3 97.2h1v1h-1zM128.3 114.3h1v1h-1zM135.8 116.3h1v1h-1zM129.1 113.2h1v1h-1zM131.4 111.1h1v1h-1zM136.1 114.0h1v1h-1zM132.1 116.6h1v1h-1zM141.3 116.8h1v1h-1zM128.0 61.9h1v1h-1zM135.3 108.3h1v1h-1zM135.6 112.3h1v1h-1zM91.2 109.7h1v1h-1zM131.2 115.1h1v1h-1zM125.0 70.1h1v1h-1zM134.7 55.7h1v1h-1zM135.1 111.2h1v1h-1zM126.5 67.2h1v1h-1zM133.3 66.3h1v1h-1zM124.9 114.2h1v1h-1zM132.1 106.8h1v1h-1zM113.0 91.0h1v1h-1zM74.5 111.1h1v1h-1zM136.1 114.8h1v1h-1zM132.9 115.4h1v1h-1zM117.5 59.2h1v1h-1zM129.5 113.7h1v1h-1zM126.6 65.7h1v1h-1zM135.1 90.4h1v1h-1zM129.7 115.5h1v1h-1zM133.4 116.3h1v1h-1zM129.5 109.3h1v1h-1zM134.5 109.0h1v1h-1zM133.4 112.9h1v1h-1zM134.2 66.4h1v1h-1zM133.2 116.1h1v1h-1zM129.8 109.0h1v1h-1zM127.3 68.0h1v1h-1zM132.2 111.4h1v1h-1zM120.8 110.1h1v1h-1zM129.2 107.5h1v1h-1zM137.6 110.9h1v1h-1zM129.3 93.7h1v1h-1zM113.3 57.5h1v1h-1zM99.3 111.6h1v1h-1zM131.8 112.8h1v1h-1zM134.7 113.9h1v1h-1zM128.5 113.8h1v1h-1zM77.6 111.8h1v1h-1zM122.5 104.7h1v1h-1zM125.8 55.1h1v1h-1zM92.7 111.5h1v1h-1zM126.1 68.1h1v1h-1zM125.2 61.7h1v1h-1zM136.1 112.5h1v1h-1zM118.9 72.0h1v1h-1zM129.8 112.7h1v1h-1zM122.3 65.4h1v1h-1zM130.2 115.6h1v1h-1zM129.9 108.5h1v1h-1zM130.8 114.9h1v1h-1zM132.2 114.5h1v1h-1zM130.4 112.2h1v1h-1zM132.6 113.6h1v1h-1z" fill="#000" fill-opacity="0.55"/>
<path d="M133.6 111.0h1v1h-1zM126.4 112.8h1v1h-1zM128.7 117.8h1v1h-1zM88.9 118.1h1v1h-1zM135.8 109.4h1v1h-1zM134.5 70.8h1v1h-1zM131.7 115.0h1v1h-1zM129.9 116.3h1v1h-1zM131.9 113.9h1v1h-1zM134.7 115.3h1v1h-1zM112.1 114.0h1v1h-1zM112.0 113.0h1v1h-1zM130.8 112.9h1v1h-1zM108.2 70.9h1v1h-1zM86.8 108.6h1v1h-1zM115.1 105.1h1v1h-1zM135.3 109.8h1v1h-1zM121.9 59.0h1v1h-1zM134.0 109.5h1v1h-1zM130.6 83.7h1v1h-1zM133.1 114.3h1v1h-1zM139.3 112.1h1v1h-1zM127.3 64.9h1v1h-1zM117.4 75.6h1v1h-1zM77.7 110.0h1v1h-1zM133.5 109.1h1v1h-1zM136.9 70.3h1v1h-1zM132.1 72.0h1v1h-1zM125.0 113.4h1v1h-1zM122.1 58.5h1v1h-1zM130.0 111.5h1v1h-1zM131.8 113.2h1v1h-1zM134.5 71.4h1v1h-1zM125.0 113.8h1v1h-1zM127.6 112.5h1v1h-1zM121.2 53.2h1v1h-1zM140.2 113.2h1v1h-1zM129.9 72.1h1v1h-1zM127.1 59.5h1v1h-1zM135.3 115.6h1v1h-1zM127.5 98.1h1v1h-1zM117.7 96.3h1v1h-1zM109.1 107.1h1v1h-1zM128.8 91.5h1v1h-1zM132.3 108.8h1v1h-1zM133.0 109.8h1v1h-1zM97.5 102.0h1v1h-1zM132.8 114.9h1v1h-1zM109.1 113.6h1v1h-1zM131.8 110.8h1v1h-1zM122.3 90.3h1v1h-1zM117.3 107.9h1v1h-1zM123.8 115.8h1v1h-1zM134.2 110.1h1v1h-1zM129.3 110.0h1v1h-1zM73.5 111.5h1v1h-1zM129.2 58.2h1v1h-1zM118.0 70.6h1v1h-1zM134.3 111.1h1v1h-1zM134.0 111.9h1v1h-1zM126.3 61.1h1v1h-1zM118.8 100.0h1v1h-1zM126.6 65.2h1v1h-1zM133.5 113.5h1v1h-1zM135.9 112.6h1v1h-1zM131.9 114.1h1v1h-1zM108.1 93.1h1v1h-1zM135.0 64.0h1v1h-1zM117.0 92.0h1v1h-1zM136.1 112.9h1v1h-1zM127.1 63.0h1v1h-1zM131.0 112.3h1v1h-1zM133.6 114.1h1v1h-1zM131.9 112.9h1v1h-1zM102.5 113.8h1v1h-1zM135.7 111.2h1v1h-1zM129.5 116.6h1v1h-1zM130.7 113.8h1v1h-1zM78.3 110.6h1v1h-1zM136.9 113.0h1v1h-1zM131.6 113.4h1v1h-1zM127.5 112.1h1v1h-1zM134.6 115.3h1v1h-1zM127.1 113.3h1v1h-1zM130.7 113.4h1v1h-1zM137.6 111.3h1v1h-1zM129.7 114.0h1v1h-1zM132.5 113.3h1v1h-1zM74.4 111.9h1v1h-1zM113.7 83.7h1v1h-1zM129.7 90.8h1v1h-1zM132.2 108.8h1v1h-1zM121.0 64.3h1v1h-1zM131.0 113.4h1v1h-1zM119.7 111.5h1v1h-1zM106.5 78.6h1v1h-1zM129.4 113.2h1v1h-1zM126.1 65.3h1v1h-1zM119.7 66.2h1v1h-1zM118.9 92.1h1v1h-1zM139.7 112.5h1v1h-1zM134.4 109.4h1v1h-1zM133.9 114.0h1v1h-1zM103.3 83.7h1v1h-1zM130.4 112.4h1v1h-1zM127.8 76.5h1v1h-1zM121.2 114.3h1v1h-1zM130.8 111.9h1v1h-1zM134.7 114.3h1v1h-1zM126.8 64.1h1v1h-1zM133.4 63.5h1v1h-1zM133.1 109.6h1v1h-1zM128.6 68.5h1v1h-1zM126.8 65.5h1v1h-1zM87.6 114.0h1v1h-1zM130.8 113.0h1v1h-1zM135.8 95.6h1v1h-1zM131.3 112.6h1v1h-1zM125.9 96.9h1v1h-1zM87.9 114.5h1v1h-1zM130.8 111.3h1v1h-1zM121.1 77.6h1v1h-1zM130.4 83.2h1v1h-1zM82.6 107.5h1v1h-1zM131.7 111.6h1v1h-1zM135.8 113.0h1v1h-1zM130.6 112.8h1v1h-1zM125.2 54.5h1v1h-1zM130.3 91.5h1v1h-1zM133.9 116.8h1v1h-1zM132.2 111.2h1v1h-1zM120.2 111.1h1v1h-1zM126.7 70.8h1v1h-1zM127.3 112.3h1v1h-1zM137.5 113.3h1v1h-1zM129.9 114.8h1v1h-1zM121.7 114.8h1v1h-1zM129.0 109.1h1v1h-1zM82.3 106.6h1v1h-1zM120.4 100.8h1v1h-1zM138.9 117.6h1v1h-1zM133.4 88.4h1v1h-1zM128.3 116.6h1v1h-1zM97.3 70.4h1v1h-1zM130.6 112.6h1v1h-1zM130.5 82.6h1v1h-1zM125.6 73.2h1v1h-1zM134.6 111.6h1v1h-1zM95.5 99.0h1v1h-1zM147.2 106.3h1v1h-1zM111.2 110.2h1v1h-1zM135.2 112.7h1v1h-1zM128.6 117.1h1v1h-1zM132.5 108.0h1v1h-1zM136.1 75.0h1v1h-1zM127.8 59.4h1v1h-1zM128.0 71.0h1v1h-1zM135.7 113.2h1v1h-1zM126.3 68.1h1v1h-1zM132.9 111.0h1v1h-1zM135.4 115.3h1v1h-1zM118.5 106.9h1v1h-1zM96.5 114.5h1v1h-1zM133.7 114.1h1v1h-1zM117.1 101.1h1v1h-1zM133.1 114.4h1v1h-1zM129.5 75.5h1v1h-1zM130.2 109.5h1v1h-1zM126.0 83.8h1v1h-1zM124.8 114.4h1v1h-1zM132.9 114.0h1v1h-1zM131.9 117.6h1v1h-1zM140.6 110.1h1v1h-1zM129.6 113.3h1v1h-1zM132.1 112.9h1v1h-1zM129.2 69.6h1v1h-1zM131.9 113.6h1v1h-1zM98.7 115.9h1v1h-1zM139.6 113.8h1v1h-1zM110.6 99.8h1v1h-1zM121.5 113.8h1v1h-1zM136.6 115.0h1v1h-1zM130.2 95.5h1v1h-1zM97.5 114.2h1v1h-1zM131.1 110.2h1v1h-1zM86.4 112.0h1v1h-1zM121.4 114.6h1v1h-1zM121.9 110.8h1v1h-1zM133.8 116.1h1v1h-1zM127.2 67.7h1v1h-1zM134.8 113.0h1v1h-1zM108.3 110.1h1v1h-1zM132.9 111.2h1v1h-1zM111.2 70.3h1v1h-1zM111.7 109.2h1v1h-1zM110.5 111.5h1v1h-1zM124.5 111.6h1v1h-1zM106.8 56.2h1v1h-1zM119.2 77.7h1v1h-1zM129.8 62.5h1v1h-1zM87.6 54.8h1v1h-1zM137.6 98.0h1v1h-1zM129.2 113.8h1v1h-1zM124.2 111.9h1v1h-1zM130.4 116.7h1v1h-1zM127.1 116.7h1v1h-1zM136.4 107.9h1v1h-1zM126.5 61.7h1v1h-1zM136.4 116.0h1v1h-1zM125.5 67.3h1v1h-1zM131.0 52.2h1v1h-1zM129.7 117.9h1v1h-1zM132.8 112.0h1v1h-1zM129.1 115.5h1v1h-1zM136.4 112.8h1v1h-1zM90.1 108.4h1v1h-1zM131.9 75.6h1v1h-1zM131.8 109.4h1v1h-1zM131.7 115.3h1v1h-1zM136.6 115.0h1v1h-1zM126.0 63.7h1v1h-1zM125.8 112.4h1v1h-1zM121.8 74.4h1v1h-1zM127.3 63.3h1v1h-1zM126.0 69.9h1v1h-1zM125.3 102.1h1v1h-1zM128.0 68.4h1v1h-1zM131.0 113.9h1v1h-1zM102.0 116.3h1v1h-1zM130.5 117.7h1v1h-1zM135.9 112.9h1v1h-1zM120.0 108.5h1v1h-1zM119.1 70.5h1v1h-1zM131.7 115.8h1v1h-1zM123.0 60.4h1v1h-1zM126.9 106.0h1v1h-1zM73.5 112.7h1v1h-1zM130.8 110.8h1v1h-1zM134.9 114.5h1v1h-1zM130.7 110.4h1v1h-1zM126.2 65.0h1v1h-1zM130.4 112.4h1v1h-1zM134.9 115.4h1v1h-1zM135.7 112.0h1v1h-1zM126.8 62.0h1v1h-1zM124.5 118.0h1v1h-1zM132.4 112.7h1v1h-1zM131.9 114.3h1v1h-1zM132.0 112.0h1v1h-1zM130.6 114.0h1v1h-1zM127.5 116.9h1v1h-1zM87.2 120.1h1v1h-1zM122.4 112.8h1v1h-1zM136.5 112.4h1v1h-1zM135.4 115.2h1v1h-1zM132.0 114.3h1v1h-1zM129.0 69.9h1v1h-1zM136.2 110.5h1v1h-1zM130.6 112.1h1v1h-1zM127.3 82.1h1v1h-1zM130.4 109.7h1v1h-1zM123.5 65.8h1v1h-1zM130.3 110.4h1v1h-1zM135.3 113.9h1v1h-1zM132.3 66.2h1v1h-1zM136.0 111.7h1v1h-1zM131.1 109.3h1v1h-1zM136.6 111.0h1v1h-1zM121.8 115.9h1v1h-1zM141.5 113.9h1v1h-1zM108.3 112.7h1v1h-1zM134.3 90.3h1v1h-1zM136.6 112.0h1v1h-1zM137.4 116.0h1v1h-1zM89.4 107.4h1v1h-1zM108.0 114.7h1v1h-1zM133.6 114.3h1v1h-1zM116.3 84.6h1v1h-1zM102.8 102.6h1v1h-1zM132.2 112.2h1v1h-1zM99.6 119.4h1v1h-1zM128.3 110.0h1v1h-1zM128.7 85.0h1v1h-1zM138.5 112.0h1v1h-1zM130.2 115.2h1v1h-1zM125.5 116.4h1v1h-1zM134.7 114.1h1v1h-1zM133.4 116.7h1v1h-1zM129.3 113.3h1v1h-1zM131.0 111.3h1v1h-1zM131.5 113.2h1v1h-1zM128.1 113.8h1v1h-1zM114.8 64.3h1v1h-1zM111.7 89.0h1v1h-1zM134.1 112.6h1v1h-1zM131.0 116.7h1v1h-1zM112.6 112.7h1v1h-1zM123.4 110.1h1v1h-1zM134.6 115.9h1v1h-1zM128.0 99.8h1v1h-1zM130.3 70.9h1v1h-1zM132.0 114.9h1v1h-1zM135.2 109.1h1v1h-1zM128.8 109.9h1v1h-1zM133.9 109.1h1v1h-1zM119.6 61.2h1v1h-1zM127.4 62.8h1v1h-1zM135.7 114.8h1v1h-1zM135.5 115.5h1v1h-1zM129.5 68.7h1v1h-1zM103.1 109.2h1v1h-1zM125.6 66.8h1v1h-1zM130.2 111.9h1v1h-1zM132.8 112.0h1v1h-1zM133.2 108.6h1v1h-1zM135.4 61.1h1v1h-1zM116.0 111.6h1v1h-1zM134.8 94.3h1v1h-1zM129.8 103.4h1v1h-1zM114.4 108.7h1v1h-1zM73.9 110.5h1v1h-1zM127.9 114.0h1v1h-1zM136.6 87.6h1v1h-1zM127.2 61.9h1v1h-1zM130.7 116.6h1v1h-1zM130.0 112.4h1v1h-1zM84.2 112.4h1v1h-1zM134.3 116.5h1v1h-1zM133.9 108.1h1v1h-1zM132.3 110.8h1v1h-1zM128.7 109.8h1v1h-1zM81.4 113.8h1v1h-1zM138.0 112.7h1v1h-1zM76.0 113.6h1v1h-1zM117.0 67.4h1v1h-1zM111.9 92.6h1v1h-1zM123.6 113.7h1v1h-1zM123.4 65.6h1v1h-1zM124.4 62.5h1v1h-1zM117.3 111.0h1v1h-1zM81.2 108.9h1v1h-1zM130.2 95.4h1v1h-1zM125.4 111.4h1v1h-1zM113.1 67.7h1v1h-1zM118.5 110.8h1v1h-1zM134.6 109.6h1v1h-1zM119.7 107.8h1v1h-1zM129.1 111.8h1v1h-1zM135.4 115.5h1v1h-1zM116.6 84.4h1v1h-1zM127.3 55.3h1v1h-1zM132.0 114.6h1v1h-1zM135.0 111.6h1v1h-1zM138.0 113.1h1v1h-1zM111.8 108.7h1v1h-1zM123.4 110.2h1v1h-1zM128.7 114.3h1v1h-1zM126.5 90.5h1v1h-1zM132.0 112.3h1v1h-1zM116.5 69.8h1v1h-1zM124.6 81.2h1v1h-1zM127.2 55.5h1v1h-1zM129.6 111.2h1v1h-1zM108.5 90.1h1v1h-1zM130.7 114.5h1v1h-1zM138.7 69.4h1v1h-1zM124.5 97.5h1v1h-1zM129.1 113.2h1v1h-1zM133.9 109.1h1v1h-1zM135.0 111.1h1v1h-1zM136.9 113.1h1v1h-1zM123.6 60.0h1v1h-1zM131.9 111.9h1v1h-1zM129.0 112.5h1v1h-1zM131.4 114.0h1v1h-1zM125.2 69.7h1v1h-1zM130.9 109.1h1v1h-1zM136.5 114.9h1v1h-1zM136.0 104.1h1v1h-1zM133.4 111.8h1v1h-1zM133.7 118.0h1v1h-1zM131.3 99.6h1v1h-1zM132.4 117.1h1v1h-1zM134.3 110.9h1v1h-1zM122.7 109.1h1v1h-1zM115.5 81.8h1v1h-1zM128.2 100.6h1v1h-1zM135.0 109.9h1v1h-1zM88.8 93.4h1v1h-1zM104.9 109.5h1v1h-1zM87.0 119.4h1v1h-1zM127.2 62.6h1v1h-1zM126.0 64.5h1v1h-1zM120.7 61.0h1v1h-1zM86.8 109.9h1v1h-1zM107.9 92.8h1v1h-1zM133.8 114.8h1v1h-1zM134.5 114.3h1v1h-1zM134.6 112.7h1v1h-1zM132.0 112.6h1v1h-1zM132.0 116.7h1v1h-1zM129.4 110.7h1v1h-1zM133.5 113.3h1v1h-1zM103.8 106.9h1v1h-1zM132.1 115.4h1v1h-1zM72.8 116.9h1v1h-1zM137.2 112.6h1v1h-1zM121.0 72.5h1v1h-1zM129.7 115.8h1v1h-1zM111.9 115.5h1v1h-1zM133.6 116.5h1v1h-1zM122.3 58.8h1v1h-1zM97.1 108.7h1v1h-1zM68.1 111.4h1v1h-1zM109.8 60.4h1v1h-1zM118.0 109.0h1v1h-1zM127.4 112.8h1v1h-1zM137.9 117.5h1v1h-1zM133.5 111.9h1v1h-1zM115.4 107.8h1v1h-1zM133.2 73.9h1v1h-1zM125.6 108.8h1v1h-1zM130.7 113.8h1v1h-1zM131.1 115.2h1v1h-1zM87.7 113.7h1v1h-1zM132.8 114.2h1v1h-1zM136.6 111.5h1v1h-1zM139.2 112.6h1v1h-1zM136.6 114.7h1v1h-1zM122.7 112.0h1v1h-1zM126.0 110.2h1v1h-1zM130.5 52.7h1v1h-1zM129.7 109.1h1v1h-1zM82.4 112.0h1v1h-1zM82.9 114.0h1v1h-1zM134.1 110.0h1v1h-1zM101.3 104.5h1v1h-1zM132.2 112.5h1v1h-1zM112.2 100.4h1v1h-1zM110.4 110.6h1v1h-1zM132.4 112.0h1v1h-1zM130.5 111.7h1v1h-1zM124.7 113.9h1v1h-1zM113.2 116.0h1v1h-1zM111.5 76.4h1v1h-1zM83.3 104.9h1v1h-1zM114.8 118.4h1v1h-1zM137.6 113.1h1v1h-1zM104.8 103.7h1v1h-1zM124.0 114.3h1v1h-1zM135.1 112.2h1v1h-1zM129.6 114.3h1v1h-1zM124.3 98.1h1v1h-1zM137.1 114.7h1v1h-1zM130.0 112.4h1v1h-1zM133.0 62.3h1v1h-1zM119.4 75.0h1v1h-1zM134.0 115.4h1v1h-1zM130.0 113.7h1v1h-1zM133.4 113.7h1v1h-1zM126.8 113.8h1v1h-1zM123.5 104.6h1v1h-1zM127.4 113.5h1v1h-1zM103.7 113.5h1v1h-1zM134.3 110.2h1v1h-1zM134.7 114.2h1v1h-1zM131.7 110.0h1v1h-1zM133.1 111.7h1v1h-1zM130.7 115.4h1v1h-1zM126.0 111.2h1v1h-1zM131.9 106.2h1v1h-1zM131.2 110.5h1v1h-1zM73.3 113.6h1v1h-1zM133.9 114.8h1v1h-1zM84.3 114.4h1v1h-1zM89.9 115.5h1v1h-1zM133.5 109.5h1v1h-1zM126.4 60.6h1v1h-1zM132.6 115.7h1v1h-1zM132.4 112.1h1v1h-1zM116.9 112.8h1v1h-1zM133.0 114.1h1v1h-1zM119.8 110.7h1v1h-1zM132.6 115.2h1v1h-1zM134.0 111.7h1v1h-1zM121.2 68.1h1v1h-1zM131.1 112.2h1v1h-1zM111.2 87.6h1v1h-1zM131.9 111.2h1v1h-1zM110.2 93.3h1v1h-1zM135.1 109.9h1v1h-1zM132.3 113.1h1v1h-1zM134.0 113.5h1v1h-1zM134.2 115.1h1v1h-1zM135.5 110.2h1v1h-1zM126.9 55.7h1v1h-1zM133.7 110.3h1v1h-1zM127.0 60.1h1v1h-1zM134.4 109.3h1v1h-1zM106.3 114.1h1v1h-1zM132.6 110.1h1v1h-1zM134.0 114.8h1v1h-1zM128.1 97.2h1v1h-1zM131.9 114.5h1v1h-1zM130.7 114.4h1v1h-1zM132.1 79.5h1v1h-1zM131.4 111.9h1v1h-1zM125.9 70.5h1v1h-1zM123.2 108.5h1v1h-1zM130.0 99.8h1v1h-1zM113.2 59.5h1v1h-1zM121.6 68.5h1v1h-1zM135.3 112.4h1v1h-1zM128.4 68.4h1v1h-1zM127.9 113.2h1v1h-1zM133.0 112.2h1v1h-1zM128.5 113.9h1v1h-1zM131.4 111.7h1v1h-1zM120.1 111.1h1v1h-1zM119.8 110.2h1v1h-1zM134.7 111.6h1v1h-1zM128.7 60.7h1v1h-1zM129.6 114.7h1v1h-1zM97.8 116.1h1v1h-1zM131.6 114.9h1v1h-1zM122.5 110.0h1v1h-1zM123.0 63.5h1v1h-1zM123.9 118.0h1v1h-1zM127.3 60.4h1v1h-1zM128.8 96.2h1v1h-1zM131.6 112.9h1v1h-1zM134.1 109.9h1v1h-1zM114.9 108.3h1v1h-1zM136.3 113.8h1v1h-1zM121.5 117.7h1v1h-1zM135.5 112.4h1v1h-1zM85.1 110.9h1v1h-1zM130.6 92.0h1v1h-1zM119.7 73.7h1v1h-1zM129.7 112.5h1v1h-1zM131.7 112.6h1v1h-1zM130.6 112.4h1v1h-1zM123.2 112.3h1v1h-1zM133.1 112.2h1v1h-1zM135.7 113.9h1v1h-1zM128.1 67.5h1v1h-1zM114.0 80.9h1v1h-1zM120.3 51.7h1v1h-1zM128.9 114.2h1v1h-1zM135.6 112.6h1v1h-1zM139.8 116.5h1v1h-1zM127.6 75.8h1v1h-1zM134.7 115.3h1v1h-1zM135.4 113.9h1v1h-1zM133.7 68.3h1v1h-1zM126.0 112.7h1v1h-1zM123.7 64.2h1v1h-1zM125.6 53.7h1v1h-1zM129.1 112.4h1v1h-1zM107.2 88.3h1v1h-1zM137.7 113.5h1v1h-1zM136.8 110.5h1v1h-1zM128.7 113.7h1v1h-1zM77.0 112.8h1v1h-1zM131.8 69.1h1v1h-1zM130.9 111.5h1v1h-1zM134.6 112.6h1v1h-1zM128.9 112.7h1v1h-1zM128.0 60.8h1v1h-1zM132.4 115.1h1v1h-1zM129.2 112.0h1v1h-1zM85.6 110.5h1v1h-1zM131.0 96.6h1v1h-1zM126.2 73.1h1v1h-1zM136.4 114.9h1v1h-1zM133.2 111.6h1v1h-1zM133.5 109.1h1v1h-1zM81.5 106.6h1v1h-1z" fill="#000" fill-opacity="0.55"/>
<path d="M82.1 112.1h1v1h-1zM135.0 114.2h1v1h-1zM127.7 64.9h1v1h-1zM133.8 113.9h1v1h-1zM126.3 69.3h1v1h-1zM84.2 113.5h1v1h-1zM132.2 113.2h1v1h-1zM111.8 74.3h1v1h-1zM124.6 64.5h1v1h-1zM133.5 115.4h1v1h-1zM130.0 114.6h1v1h-1zM130.2 107.3h1v1h-1zM106.0 120.7h1v1h-1zM125.5 110.3h1v1h-1zM135.5 115.1h1v1h-1zM134.4 105.3h1v1h-1zM108.5 119.9h1v1h-1zM128.6 115.0h1v1h-1zM103.5 114.0h1v1h-1zM134.0 109.9h1v1h-1zM130.7 116.8h1v1h-1zM126.3 85.7h1v1h-1zM131.1 113.1h1v1h-1zM120.8 110.2h1v1h-1zM135.1 73.7h1v1h-1zM130.0 61.6h1v1h-1zM136.2 60.5h1v1h-1zM131.6 114.1h1v1h-1zM132.3 112.4h1v1h-1zM135.1 67.0h1v1h-1zM132.4 111.6h1v1h-1zM132.3 111.2h1v1h-1zM124.7 108.0h1v1h-1zM79.2 112.6h1v1h-1zM116.8 102.7h1v1h-1zM134.2 112.3h1v1h-1zM115.2 94.3h1v1h-1zM129.0 67.5h1v1h-1zM130.2 118.7h1v1h-1zM134.8 115.5h1v1h-1zM125.8 109.9h1v1h-1zM120.3 109.3h1v1h-1zM131.9 108.3h1v1h-1zM114.0 71.6h1v1h-1zM124.5 63.7h1v1h-1zM131.0 111.7h1v1h-1zM102.9 94.0h1v1h-1zM133.6 114.1h1v1h-1zM126.6 62.7h1v1h-1zM119.3 64.2h1v1h-1zM132.2 113.2h1v1h-1zM136.0 112.6h1v1h-1zM126.8 66.4h1v1h-1zM79.1 115.0h1v1h-1zM125.0 50.7h1v1h-1zM131.3 113.0h1v1h-1zM127.1 108.8h1v1h-1zM125.8 63.7h1v1h-1zM135.1 109.8h1v1h-1zM130.3 71.2h1v1h-1zM118.0 108.2h1v1h-1zM108.6 119.2h1v1h-1zM112.1 97.1h1v1h-1zM133.3 115.1h1v1h-1zM132.4 117.7h1v1h-1zM126.1 65.6h1v1h-1zM125.6 67.5h1v1h-1zM128.8 54.5h1v1h-1zM135.3 114.6h1v1h-1zM130.3 115.2h1v1h-1zM129.5 113.6h1v1h-1zM132.8 110.4h1v1h-1zM127.4 56.1h1v1h-1zM131.5 109.5h1v1h-1zM132.1 112.2h1v1h-1zM135.9 114.9h1v1h-1zM132.7 113.0h1v1h-1zM134.9 111.5h1v1h-1zM128.5 87.6h1v1h-1zM97.1 110.3h1v1h-1zM111.5 116.0h1v1h-1zM138.9 111.5h1v1h-1zM88.2 113.3h1v1h-1zM133.9 63.7h1v1h-1zM118.5 112.9h1v1h-1zM131.1 112.4h1v1h-1zM130.8 115.1h1v1h-1zM130.9 112.7h1v1h-1zM132.3 114.4h1v1h-1zM132.7 117.1h1v1h-1zM133.4 82.6h1v1h-1zM132.3 111.6h1v1h-1zM132.8 114.2h1v1h-1zM78.2 114.8h1v1h-1zM74.9 112.6h1v1h-1zM134.4 110.4h1v1h-1zM126.0 53.9h1v1h-1zM132.5 63.3h1v1h-1zM132.6 111.5h1v1h-1zM131.3 115.7h1v1h-1zM134.7 115.1h1v1h-1zM125.1 109.5h1v1h-1zM131.1 111.1h1v1h-1zM120.5 65.8h1v1h-1zM130.2 109.6h1v1h-1zM124.0 114.4h1v1h-1zM114.5 64.0h1v1h-1zM70.2 108.9h1v1h-1zM121.6 74.2h1v1h-1zM111.9 76.0h1v1h-1zM129.2 111.8h1v1h-1zM78.6 116.8h1v1h-1zM77.6 113.4h1v1h-1zM134.3 95.3h1v1h-1zM133.0 112.6h1v1h-1zM130.4 56.6h1v1h-1zM101.6 67.4h1v1h-1zM127.1 63.8h1v1h-1zM124.4 94.6h1v1h-1zM130.5 75.1h1v1h-1zM128.1 65.8h1v1h-1zM129.7 113.6h1v1h-1zM129.7 118.6h1v1h-1zM125.6 54.1h1v1h-1zM127.4 110.5h1v1h-1zM122.1 63.5h1v1h-1zM120.9 66.7h1v1h-1zM122.8 65.9h1v1h-1zM122.1 106.1h1v1h-1zM125.8 114.9h1v1h-1zM126.9 110.6h1v1h-1zM129.2 109.4h1v1h-1zM133.8 111.1h1v1h-1zM117.4 94.9h1v1h-1zM130.8 115.7h1v1h-1zM131.1 110.5h1v1h-1zM134.5 114.3h1v1h-1zM134.0 109.2h1v1h-1zM131.6 113.5h1v1h-1zM128.5 72.2h1v1h-1zM121.9 50.9h1v1h-1zM131.3 73.5h1v1h-1zM131.0 114.1h1v1h-1zM128.8 111.6h1v1h-1zM80.0 108.1h1v1h-1zM67.7 115.4h1v1h-1zM128.8 102.2h1v1h-1zM132.2 113.0h1v1h-1zM110.9 118.1h1v1h-1zM134.4 109.3h1v1h-1zM117.1 56.9h1v1h-1zM132.0 117.6h1v1h-1zM120.7 78.5h1v1h-1zM78.1 117.2h1v1h-1zM130.2 114.3h1v1h-1zM133.6 114.1h1v1h-1zM133.6 116.1h1v1h-1zM131.8 112.9h1v1h-1zM130.9 111.7h1v1h-1zM131.8 115.0h1v1h-1zM132.7 111.5h1v1h-1zM135.5 112.4h1v1h-1zM129.1 111.1h1v1h-1zM130.8 113.6h1v1h-1zM122.3 64.5h1v1h-1zM120.8 113.4h1v1h-1zM76.1 111.6h1v1h-1zM131.0 95.0h1v1h-1zM139.3 107.3h1v1h-1zM129.3 113.3h1v1h-1zM121.8 115.7h1v1h-1zM121.9 65.7h1v1h-1zM119.1 78.3h1v1h-1zM68.5 111.3h1v1h-1zM134.5 115.1h1v1h-1zM129.7 109.6h1v1h-1zM102.1 114.5h1v1h-1zM130.3 65.6h1v1h-1zM129.1 114.0h1v1h-1zM118.8 69.1h1v1h-1zM126.2 114.0h1v1h-1zM133.0 111.5h1v1h-1zM119.4 115.0h1v1h-1zM123.3 70.6h1v1h-1zM137.7 114.3h1v1h-1zM129.2 115.9h1v1h-1zM131.0 109.5h1v1h-1zM74.4 109.7h1v1h-1zM132.6 111.1h1v1h-1zM135.8 111.7h1v1h-1zM131.1 111.8h1v1h-1zM132.8 113.6h1v1h-1zM124.8 61.8h1v1h-1zM132.2 110.1h1v1h-1zM99.3 114.1h1v1h-1zM130.0 111.2h1v1h-1zM135.5 113.6h1v1h-1zM129.7 112.4h1v1h-1zM130.9 110.3h1v1h-1zM128.7 113.3h1v1h-1zM94.1 113.9h1v1h-1zM131.1 112.2h1v1h-1zM124.1 70.3h1v1h-1zM119.9 50.8h1v1h-1zM125.2 56.2h1v1h-1zM130.4 108.1h1v1h-1zM101.1 112.0h1v1h-1zM130.0 68.4h1v1h-1zM127.8 114.9h1v1h-1zM140.8 114.5h1v1h-1zM115.6 89.7h1v1h-1zM113.6 70.9h1v1h-1zM90.4 119.3h1v1h-1zM132.2 109.3h1v1h-1zM124.0 65.0h1v1h-1zM130.5 117.1h1v1h-1zM78.7 111.2h1v1h-1zM128.3 62.3h1v1h-1zM136.0 117.5h1v1h-1zM123.1 64.6h1v1h-1zM114.2 117.7h1v1h-1zM134.9 113.9h1v1h-1zM130.4 112.8h1v1h-1zM129.9 116.4h1v1h-1zM76.1 114.5h1v1h-1zM136.5 112.5h1v1h-1zM133.1 112.2h1v1h-1zM130.5 108.6h1v1h-1zM126.5 68.4h1v1h-1zM127.8 110.2h1v1h-1zM125.0 107.7h1v1h-1zM134.1 113.0h1v1h-1zM130.4 111.0h1v1h-1zM120.8 116.0h1v1h-1zM130.8 116.0h1v1h-1zM137.3 107.9h1v1h-1zM126.0 65.4h1v1h-1zM116.9 114.5h1v1h-1zM132.7 115.0h1v1h-1zM130.3 109.4h1v1h-1zM137.3 113.6h1v1h-1zM113.1 87.3h1v1h-1zM132.7 110.8h1v1h-1zM131.5 114.4h1v1h-1zM129.3 115.8h1v1h-1zM127.7 60.5h1v1h-1zM98.6 112.2h1v1h-1zM131.9 108.6h1v1h-1zM126.8 69.9h1v1h-1zM132.6 113.3h1v1h-1zM134.0 114.0h1v1h-1zM99.3 112.9h1v1h-1zM129.6 110.8h1v1h-1zM124.7 64.1h1v1h-1zM130.2 60.9h1v1h-1zM131.9 114.3h1v1h-1zM130.4 96.5h1v1h-1zM126.6 59.8h1v1h-1zM75.2 109.9h1v1h-1zM133.6 114.2h1v1h-1zM132.2 114.7h1v1h-1zM130.8 101.8h1v1h-1zM130.0 110.4h1v1h-1zM109.7 114.9h1v1h-1zM121.3 91.3h1v1h-1zM120.0 83.1h1v1h-1zM137.7 111.1h1v1h-1zM128.9 49.9h1v1h-1zM110.5 58.5h1v1h-1zM90.0 109.6h1v1h-1zM137.7 110.2h1v1h-1zM133.1 112.2h1v1h-1zM135.1 67.4h1v1h-1zM116.0 96.1h1v1h-1zM127.3 61.3h1v1h-1zM130.3 112.9h1v1h-1zM126.4 105.7h1v1h-1zM122.3 72.2h1v1h-1zM97.7 112.3h1v1h-1zM127.8 109.5h1v1h-1zM124.2 115.0h1v1h-1zM130.9 103.6h1v1h-1zM136.4 109.3h1v1h-1zM99.8 106.0h1v1h-1zM130.9 109.0h1v1h-1zM136.8 96.7h1v1h-1zM130.0 66.7h1v1h-1zM123.3 113.9h1v1h-1zM123.3 108.8h1v1h-1zM134.6 117.2h1v1h-1zM116.3 84.8h1v1h-1zM136.6 112.2h1v1h-1zM132.1 112.8h1v1h-1zM132.6 108.6h1v1h-1zM127.2 109.5h1v1h-1zM130.1 87.2h1v1h-1zM123.2 54.4h1v1h-1zM133.1 116.3h1v1h-1zM121.2 107.7h1v1h-1zM129.7 60.4h1v1h-1zM129.8 109.4h1v1h-1zM135.0 113.7h1v1h-1zM118.0 72.8h1v1h-1zM104.0 111.8h1v1h-1zM97.5 113.5h1v1h-1zM135.6 110.8h1v1h-1zM132.9 74.1h1v1h-1zM129.9 111.5h1v1h-1zM129.0 109.5h1v1h-1zM133.9 113.2h1v1h-1zM134.1 113.1h1v1h-1zM133.4 112.3h1v1h-1zM135.8 94.2h1v1h-1zM129.6 113.2h1v1h-1zM95.1 113.0h1v1h-1zM132.9 115.2h1v1h-1zM133.3 117.3h1v1h-1zM131.2 114.4h1v1h-1zM79.8 117.9h1v1h-1zM130.6 110.6h1v1h-1zM131.6 117.4h1v1h-1zM133.9 110.4h1v1h-1zM120.3 64.9h1v1h-1zM127.9 110.4h1v1h-1zM138.7 75.4h1v1h-1zM120.0 58.2h1v1h-1zM108.1 91.2h1v1h-1zM129.8 112.9h1v1h-1zM129.3 113.7h1v1h-1zM138.5 112.5h1v1h-1zM133.0 113.5h1v1h-1zM103.8 112.9h1v1h-1zM137.5 112.2h1v1h-1zM85.4 116.4h1v1h-1zM126.2 108.8h1v1h-1zM125.6 112.9h1v1h-1zM134.7 83.6h1v1h-1zM133.2 113.4h1v1h-1zM136.6 116.1h1v1h-1zM138.5 113.2h1v1h-1zM126.4 114.2h1v1h-1zM133.8 112.0h1v1h-1zM127.9 97.9h1v1h-1zM121.1 117.5h1v1h-1zM130.9 112.6h1v1h-1zM131.5 66.6h1v1h-1zM130.8 113.8h1v1h-1zM125.4 107.7h1v1h-1zM132.6 109.4h1v1h-1zM134.0 113.0h1v1h-1zM135.3 113.0h1v1h-1zM129.5 110.8h1v1h-1zM127.0 66.0h1v1h-1zM70.9 114.1h1v1h-1zM127.4 112.6h1v1h-1zM128.0 110.2h1v1h-1zM129.4 61.6h1v1h-1zM129.6 114.1h1v1h-1zM132.6 111.3h1v1h-1zM129.8 108.3h1v1h-1zM130.3 109.7h1v1h-1zM137.7 113.6h1v1h-1zM132.8 113.4h1v1h-1zM130.8 109.7h1v1h-1zM134.2 110.0h1v1h-1zM124.3 71.7h1v1h-1zM133.1 73.0h1v1h-1zM121.1 67.3h1v1h-1zM133.9 119.8h1v1h-1zM130.8 107.8h1v1h-1zM131.9 113.5h1v1h-1zM133.0 107.4h1v1h-1zM120.9 76.4h1v1h-1zM104.0 115.8h1v1h-1zM122.8 111.7h1v1h-1zM133.4 112.9h1v1h-1zM116.3 116.5h1v1h-1zM136.4 111.6h1v1h-1zM117.6 115.2h1v1h-1zM127.0 66.2h1v1h-1zM130.2 113.5h1v1h-1zM108.5 99.3h1v1h-1zM131.3 112.8h1v1h-1zM125.7 116.0h1v1h-1zM133.5 112.1h1v1h-1zM129.8 114.6h1v1h-1zM134.1 112.3h1v1h-1zM129.3 113.8h1v1h-1zM133.1 113.0h1v1h-1zM132.2 113.2h1v1h-1zM117.7 60.0h1v1h-1zM129.8 63.4h1v1h-1zM138.0 112.7h1v1h-1zM132.6 112.4h1v1h-1zM125.4 115.2h1v1h-1zM133.0 111.9h1v1h-1zM102.8 59.6h1v1h-1zM124.5 65.8h1v1h-1zM121.8 109.6h1v1h-1zM129.0 108.1h1v1h-1zM126.0 114.6h1v1h-1zM133.1 101.8h1v1h-1zM127.0 113.4h1v1h-1zM130.9 116.2h1v1h-1zM132.4 113.2h1v1h-1zM128.8 68.8h1v1h-1zM136.3 114.8h1v1h-1zM123.6 60.3h1v1h-1zM117.5 102.5h1v1h-1zM134.3 114.2h1v1h-1zM133.7 113.8h1v1h-1zM135.1 116.5h1v1h-1zM135.8 114.8h1v1h-1zM136.7 110.9h1v1h-1zM131.2 109.0h1v1h-1zM131.4 113.4h1v1h-1zM135.3 83.7h1v1h-1zM130.1 110.7h1v1h-1zM132.4 113.5h1v1h-1zM135.4 111.1h1v1h-1zM125.7 112.3h1v1h-1zM134.7 118.0h1v1h-1zM133.7 112.2h1v1h-1zM134.4 112.7h1v1h-1zM123.3 98.4h1v1h-1zM122.7 67.5h1v1h-1zM117.8 71.0h1v1h-1zM131.1 111.7h1v1h-1zM119.0 113.9h1v1h-1zM115.5 111.6h1v1h-1zM128.3 112.1h1v1h-1zM133.1 109.5h1v1h-1zM136.5 113.9h1v1h-1zM134.6 111.9h1v1h-1zM123.1 109.5h1v1h-1zM132.2 108.0h1v1h-1zM125.7 93.3h1v1h-1zM138.1 106.9h1v1h-1zM131.4 62.6h1v1h-1zM109.3 70.3h1v1h-1zM133.8 112.5h1v1h-1zM96.0 115.8h1v1h-1zM132.1 114.3h1v1h-1zM123.9 61.4h1v1h-1zM114.6 110.7h1v1h-1zM122.8 104.7h1v1h-1zM128.6 107.3h1v1h-1zM131.1 112.7h1v1h-1zM134.5 111.7h1v1h-1zM106.9 55.3h1v1h-1zM130.6 111.4h1v1h-1zM80.4 110.0h1v1h-1zM135.8 112.8h1v1h-1zM134.7 113.7h1v1h-1zM72.2 111.1h1v1h-1zM129.7 116.8h1v1h-1zM127.5 110.3h1v1h-1zM131.6 113.0h1v1h-1zM128.1 59.8h1v1h-1zM126.4 61.4h1v1h-1zM124.7 68.5h1v1h-1zM130.8 112.4h1v1h-1zM134.9 110.0h1v1h-1zM132.5 110.8h1v1h-1zM136.8 112.8h1v1h-1zM127.4 112.3h1v1h-1zM110.5 115.3h1v1h-1zM125.3 92.2h1v1h-1zM123.2 68.5h1v1h-1zM132.8 113.5h1v1h-1zM116.4 112.0h1v1h-1zM134.6 114.8h1v1h-1zM130.5 111.2h1v1h-1zM132.6 115.1h1v1h-1zM121.5 70.2h1v1h-1zM135.4 113.8h1v1h-1zM135.0 116.0h1v1h-1zM136.7 112.6h1v1h-1zM99.7 111.0h1v1h-1zM126.0 69.7h1v1h-1zM73.3 114.1h1v1h-1zM120.8 65.7h1v1h-1zM129.9 113.3h1v1h-1zM137.3 61.6h1v1h-1zM135.7 112.7h1v1h-1zM138.1 112.7h1v1h-1zM132.8 58.9h1v1h-1zM128.3 109.1h1v1h-1zM128.6 114.0h1v1h-1zM132.4 110.8h1v1h-1zM125.6 109.9h1v1h-1zM128.9 110.1h1v1h-1zM106.6 59.5h1v1h-1zM105.7 113.2h1v1h-1zM133.8 54.8h1v1h-1zM134.1 116.9h1v1h-1zM125.2 69.1h1v1h-1zM135.3 112.2h1v1h-1zM127.0 60.4h1v1h-1zM124.7 99.2h1v1h-1zM123.6 72.1h1v1h-1zM113.3 82.5h1v1h-1zM128.3 110.5h1v1h-1zM131.9 110.6h1v1h-1zM122.5 108.0h1v1h-1zM88.2 111.4h1v1h-1zM138.2 112.9h1v1h-1zM109.2 120.1h1v1h-1zM131.7 113.6h1v1h-1zM129.3 114.1h1v1h-1zM114.1 90.2h1v1h-1zM131.6 66.9h1v1h-1zM113.2 111.8h1v1h-1zM123.8 111.1h1v1h-1zM108.8 56.5h1v1h-1zM102.8 115.3h1v1h-1zM127.9 96.2h1v1h-1zM132.8 111.4h1v1h-1zM133.1 111.8h1v1h-1zM93.4 114.2h1v1h-1zM131.9 110.3h1v1h-1zM71.5 115.6h1v1h-1zM110.0 112.1h1v1h-1zM131.7 110.3h1v1h-1zM129.7 112.0h1v1h-1zM133.1 112.1h1v1h-1zM109.8 87.4h1v1h-1zM128.7 111.2h1v1h-1zM135.1 115.3h1v1h-1zM129.2 112.8h1v1h-1zM128.0 98.4h1v1h-1zM126.9 59.9h1v1h-1zM143.2 55.6h1v1h-1zM135.4 113.0h1v1h-1zM110.9 118.9h1v1h-1zM124.7 92.1h1v1h-1zM128.2 109.9h1v1h-1zM109.3 79.9h1v1h-1zM125.4 111.0h1v1h-1zM129.7 111.5h1v1h-1zM125.8 104.6h1v1h-1zM132.5 110.7h1v1h-1zM122.5 83.5h1v1h-1zM133.1 111.0h1v1h-1zM130.9 112.2h1v1h-1zM115.1 114.1h1v1h-1zM73.0 112.4h1v1h-1zM103.1 105.4h1v1h-1zM131.2 114.9h1v1h-1zM127.3 79.0h1v1h-1zM134.7 90.5h1v1h-1zM118.3 112.3h1v1h-1zM131.3 109.4h1v1h-1zM115.1 89.3h1v1h-1zM93.7 114.0h1v1h-1zM133.1 111.2h1v1h-1zM119.9 70.0h1v1h-1zM133.1 111.3h1v1h-1zM131.8 116.9h1v1h-1zM138.7 114.5h1v1h-1zM105.3 115.2h1v1h-1zM126.0 65.0h1v1h-1zM130.3 108.1h1v1h-1zM129.8 111.4h1v1h-1zM135.9 111.4h1v1h-1zM132.4 111.5h1v1h-1zM126.4 67.9h1v1h-1zM136.9 117.7h1v1h-1zM117.4 87.4h1v1h-1zM131.7 111.3h1v1h-1zM134.8 112.2h1v1h-1zM120.8 65.2h1v1h-1zM123.4 111.1h1v1h-1zM123.6 113.7h1v1h-1zM129.7 111.7h1v1h-1zM135.5 110.6h1v1h-1zM123.7 111.6h1v1h-1z" fill="#000" fill-opacity="0.55"/>
<rect x="64.6" y="25.5" width="102.20" height="102.50" fill="none" stroke="#000" stroke-width="1.5"/>
<rect x="111.5" y="51.2" width="28.0" height="30.39999999999999" fill="none" stroke="#000" stroke-width="1"/>
<path d="M61.1 35.6H64.6M61.1 58.7H64.6M61.1 81.0H64.6M61.1 106.4H64.6M61.1 117.6H64.6M62.2 98.8H64.6M62.2 94.3H64.6M62.2 91.1H64.6M62.2 88.6H64.6M62.2 86.6H64.6M62.2 84.9H64.6M62.2 83.5H64.6M62.2 82.2H64.6M62.2 74.3H64.6M62.2 70.4H64.6M62.2 67.6H64.6M62.2 65.4H64.6M62.2 63.6H64.6M62.2 62.2H64.6M62.2 60.9H64.6M62.2 59.7H64.6M62.2 51.7H64.6M62.2 47.7H64.6M62.2 44.8H64.6M62.2 42.6H64.6M62.2 40.7H64.6M62.2 39.2H64.6M62.2 37.8H64.6M62.2 36.7H64.6M62.2 28.6H64.6M62.2 108.2H64.6M62.2 109.8H64.6M62.2 111.4H64.6M62.2 113.0H64.6M62.2 114.6H64.6M62.2 116.0H64.6M62.2 119.5H64.6M62.2 121.6H64.6M62.2 123.8H64.6M62.2 126.2H64.6M75.7 128.0V131.6M86.8 128.0V131.6M110.2 128.0V131.6M133.2 128.0V131.6M156.3 128.0V131.6M93.8 128.0V130.8M98.0 128.0V130.8M100.9 128.0V130.8M103.2 128.0V130.8M105.0 128.0V130.8M106.6 128.0V130.8M107.9 128.0V130.8M109.1 128.0V130.8M117.1 128.0V130.8M121.2 128.0V130.8M124.0 128.0V130.8M126.3 128.0V130.8M128.1 128.0V130.8M129.6 128.0V130.8M131.0 128.0V130.8M132.1 128.0V130.8M140.2 128.0V130.8M144.2 128.0V130.8M147.1 128.0V130.8M149.3 128.0V130.8M151.2 128.0V130.8M152.7 128.0V130.8M154.1 128.0V130.8M155.2 128.0V130.8M163.3 128.0V130.8M67.5 128.0V130.8M70.5 128.0V130.8M73.0 128.0V130.8M78.5 128.0V130.8M81.0 128.0V130.8M83.5 128.0V130.8" stroke="#000" stroke-width="1.0" fill="none"/>
<text x="60.0" y="39.6" font-size="6.8" style="stroke-width:0.3px" text-anchor="end">10<tspan font-size="4.3" dx="0.5" dy="-3.3">5</tspan></text>
<text x="60.0" y="62.7" font-size="6.8" style="stroke-width:0.3px" text-anchor="end">10<tspan font-size="4.3" dx="0.5" dy="-3.3">4</tspan></text>
<text x="60.0" y="85.0" font-size="6.8" style="stroke-width:0.3px" text-anchor="end">10<tspan font-size="4.3" dx="0.5" dy="-3.3">3</tspan></text>
<text x="60.0" y="110.4" font-size="6.8" style="stroke-width:0.3px" text-anchor="end">10<tspan font-size="4.3" dx="0.5" dy="-3.3">2</tspan></text>
<text x="57.2" y="120.8" font-size="6.8" style="stroke-width:0.3px" text-anchor="end">0</text>
<text x="75.2" y="140.4" font-size="6.8" style="stroke-width:0.3px" text-anchor="middle">0</text>
<text x="81.4" y="140.4" font-size="6.8" style="stroke-width:0.3px">10<tspan font-size="4.3" dx="0.5" dy="-3.5">2</tspan></text>
<text x="105.9" y="140.4" font-size="6.8" style="stroke-width:0.3px">10<tspan font-size="4.3" dx="0.5" dy="-3.5">3</tspan></text>
<text x="128.9" y="140.4" font-size="6.8" style="stroke-width:0.3px">10<tspan font-size="4.3" dx="0.5" dy="-3.5">4</tspan></text>
<text x="152.0" y="140.4" font-size="6.8" style="stroke-width:0.3px">10<tspan font-size="4.3" dx="0.5" dy="-3.5">5</tspan></text>
<text x="125.5" y="45.3" font-size="7.5" text-anchor="middle">12.4</text>
<text x="115.9" y="20.4" font-size="10" text-anchor="middle">Isotype</text>
<path d="M275.8 111.6h1v1h-1zM230.6 101.9h1v1h-1zM272.7 68.9h1v1h-1zM271.6 82.2h1v1h-1zM273.7 111.3h1v1h-1zM275.8 59.0h1v1h-1zM263.6 64.3h1v1h-1zM254.9 113.2h1v1h-1zM264.3 110.6h1v1h-1zM262.0 102.6h1v1h-1zM272.7 62.5h1v1h-1zM265.3 95.0h1v1h-1zM273.1 117.5h1v1h-1zM265.5 71.1h1v1h-1zM275.3 113.9h1v1h-1zM268.7 105.7h1v1h-1zM212.8 112.8h1v1h-1zM276.9 113.7h1v1h-1zM269.1 66.2h1v1h-1zM219.5 114.1h1v1h-1zM273.0 65.0h1v1h-1zM271.1 112.2h1v1h-1zM271.8 79.3h1v1h-1zM260.7 114.4h1v1h-1zM275.5 105.2h1v1h-1zM280.9 75.8h1v1h-1zM220.3 111.2h1v1h-1zM281.5 107.4h1v1h-1zM267.5 110.1h1v1h-1zM266.2 71.7h1v1h-1zM263.7 98.0h1v1h-1zM267.6 110.4h1v1h-1zM263.4 70.5h1v1h-1zM250.7 114.1h1v1h-1zM222.0 117.4h1v1h-1zM271.7 112.5h1v1h-1zM275.4 113.3h1v1h-1zM270.6 88.9h1v1h-1zM280.2 112.0h1v1h-1zM274.7 75.7h1v1h-1zM265.4 69.1h1v1h-1zM274.3 111.8h1v1h-1zM272.3 88.8h1v1h-1zM268.5 65.8h1v1h-1zM233.6 113.9h1v1h-1zM279.0 113.3h1v1h-1zM264.3 112.4h1v1h-1zM260.6 110.0h1v1h-1zM275.7 72.0h1v1h-1zM260.8 114.1h1v1h-1zM279.8 94.9h1v1h-1zM259.0 68.2h1v1h-1zM262.1 62.2h1v1h-1zM251.1 90.5h1v1h-1zM228.1 109.9h1v1h-1zM213.0 114.8h1v1h-1zM275.4 111.1h1v1h-1zM270.0 88.6h1v1h-1zM271.6 68.3h1v1h-1zM273.1 111.1h1v1h-1zM273.3 111.9h1v1h-1zM243.0 88.0h1v1h-1zM258.9 110.7h1v1h-1zM270.0 69.6h1v1h-1zM270.3 97.2h1v1h-1zM273.1 112.4h1v1h-1zM212.1 113.9h1v1h-1zM274.6 111.9h1v1h-1zM269.9 114.7h1v1h-1zM213.9 114.9h1v1h-1zM279.0 92.6h1v1h-1zM235.2 110.6h1v1h-1zM267.0 70.9h1v1h-1zM271.9 117.2h1v1h-1zM273.0 109.3h1v1h-1zM268.4 101.4h1v1h-1zM277.9 70.7h1v1h-1zM280.1 112.4h1v1h-1zM259.4 75.1h1v1h-1zM254.1 88.1h1v1h-1zM258.1 112.4h1v1h-1zM283.5 73.1h1v1h-1zM274.8 110.8h1v1h-1zM273.7 114.0h1v1h-1zM276.7 109.8h1v1h-1zM274.4 112.2h1v1h-1zM266.9 108.4h1v1h-1zM212.6 114.1h1v1h-1zM260.7 115.5h1v1h-1zM247.2 65.6h1v1h-1zM226.4 107.9h1v1h-1zM272.4 97.1h1v1h-1zM248.1 114.5h1v1h-1zM267.0 63.1h1v1h-1zM267.2 98.0h1v1h-1zM270.0 112.0h1v1h-1zM247.8 58.4h1v1h-1zM282.6 113.4h1v1h-1zM244.0 107.5h1v1h-1zM277.8 107.8h1v1h-1zM274.4 59.4h1v1h-1zM274.9 63.1h1v1h-1zM273.2 77.7h1v1h-1zM222.5 109.8h1v1h-1zM275.6 110.1h1v1h-1zM269.0 101.1h1v1h-1zM223.5 111.5h1v1h-1zM274.9 110.3h1v1h-1zM277.5 90.8h1v1h-1zM268.1 70.2h1v1h-1zM279.6 73.8h1v1h-1zM277.3 70.2h1v1h-1zM277.1 116.2h1v1h-1zM268.9 115.3h1v1h-1zM247.7 115.5h1v1h-1zM256.0 76.2h1v1h-1zM271.4 116.4h1v1h-1zM278.3 111.4h1v1h-1zM270.4 119.5h1v1h-1zM267.3 65.5h1v1h-1zM216.4 109.0h1v1h-1zM277.2 111.1h1v1h-1zM272.8 114.7h1v1h-1zM276.2 85.8h1v1h-1zM270.4 69.5h1v1h-1zM270.5 69.3h1v1h-1zM273.7 75.6h1v1h-1zM276.9 95.3h1v1h-1zM260.3 73.4h1v1h-1zM271.2 113.1h1v1h-1zM274.4 113.0h1v1h-1zM242.5 100.3h1v1h-1zM221.2 114.0h1v1h-1zM270.6 84.8h1v1h-1zM271.5 112.8h1v1h-1zM273.1 101.2h1v1h-1zM277.3 115.3h1v1h-1zM277.8 112.9h1v1h-1zM262.3 67.7h1v1h-1zM263.2 69.5h1v1h-1zM268.7 64.7h1v1h-1zM271.2 62.5h1v1h-1zM231.1 112.3h1v1h-1zM266.1 68.4h1v1h-1zM277.5 78.2h1v1h-1zM226.4 106.5h1v1h-1zM275.1 116.2h1v1h-1zM242.4 115.1h1v1h-1zM227.9 115.3h1v1h-1zM279.2 109.5h1v1h-1zM272.8 73.1h1v1h-1zM282.9 67.8h1v1h-1zM269.3 75.0h1v1h-1zM269.1 63.5h1v1h-1zM272.1 114.7h1v1h-1zM249.2 108.4h1v1h-1zM228.2 113.5h1v1h-1zM261.9 66.2h1v1h-1zM252.2 58.4h1v1h-1zM270.4 68.2h1v1h-1zM266.0 109.8h1v1h-1zM264.7 117.9h1v1h-1zM221.1 113.0h1v1h-1zM273.2 116.9h1v1h-1zM275.9 113.9h1v1h-1zM222.9 113.6h1v1h-1zM245.1 112.4h1v1h-1zM273.3 69.1h1v1h-1zM270.8 99.0h1v1h-1zM274.5 89.0h1v1h-1zM282.7 70.1h1v1h-1zM270.8 64.6h1v1h-1zM239.3 110.0h1v1h-1zM227.1 113.8h1v1h-1zM223.4 114.0h1v1h-1zM278.0 114.2h1v1h-1zM273.0 79.3h1v1h-1zM272.2 75.7h1v1h-1zM221.3 114.5h1v1h-1zM224.1 110.4h1v1h-1zM277.3 90.5h1v1h-1zM262.6 113.8h1v1h-1zM230.8 103.6h1v1h-1zM271.3 108.9h1v1h-1zM269.8 115.1h1v1h-1zM233.8 107.2h1v1h-1zM232.1 105.0h1v1h-1zM265.4 92.3h1v1h-1zM264.1 98.5h1v1h-1zM278.0 71.7h1v1h-1zM272.2 113.9h1v1h-1zM265.6 113.6h1v1h-1zM277.0 65.9h1v1h-1zM275.5 77.1h1v1h-1zM282.9 117.0h1v1h-1zM280.1 115.8h1v1h-1zM271.7 83.5h1v1h-1zM216.4 105.9h1v1h-1zM270.4 64.0h1v1h-1zM277.2 71.1h1v1h-1zM251.9 113.0h1v1h-1zM274.4 111.8h1v1h-1zM217.3 110.9h1v1h-1zM278.3 67.9h1v1h-1zM234.8 112.8h1v1h-1zM270.0 93.4h1v1h-1zM221.3 112.6h1v1h-1zM245.4 107.5h1v1h-1zM270.3 94.7h1v1h-1zM217.8 113.1h1v1h-1zM269.9 96.8h1v1h-1zM258.1 57.5h1v1h-1zM261.5 88.3h1v1h-1zM266.0 66.7h1v1h-1zM273.3 114.1h1v1h-1zM227.9 109.7h1v1h-1zM274.2 114.1h1v1h-1zM258.3 115.8h1v1h-1zM222.7 109.4h1v1h-1zM270.0 103.0h1v1h-1zM269.1 74.1h1v1h-1zM267.2 114.8h1v1h-1zM218.7 110.4h1v1h-1zM268.5 67.7h1v1h-1zM216.0 111.3h1v1h-1zM275.8 84.4h1v1h-1zM236.5 112.3h1v1h-1zM269.9 110.8h1v1h-1zM235.0 111.9h1v1h-1zM272.4 65.5h1v1h-1zM218.5 107.2h1v1h-1zM272.8 93.8h1v1h-1zM242.8 79.6h1v1h-1zM269.0 69.0h1v1h-1zM216.7 113.2h1v1h-1zM251.3 111.8h1v1h-1zM274.1 107.1h1v1h-1zM265.6 109.7h1v1h-1zM276.3 72.7h1v1h-1zM272.8 114.4h1v1h-1zM276.6 110.4h1v1h-1zM265.9 76.5h1v1h-1zM262.2 77.2h1v1h-1zM230.0 113.5h1v1h-1zM272.1 110.1h1v1h-1zM232.6 111.7h1v1h-1zM230.7 118.8h1v1h-1zM215.2 115.4h1v1h-1zM237.0 108.8h1v1h-1zM215.6 111.1h1v1h-1zM266.2 75.6h1v1h-1zM258.1 115.8h1v1h-1zM276.1 101.1h1v1h-1zM276.7 62.2h1v1h-1zM282.4 112.8h1v1h-1zM259.7 83.2h1v1h-1zM219.2 111.5h1v1h-1zM223.3 111.9h1v1h-1zM266.7 114.4h1v1h-1zM270.6 87.9h1v1h-1zM267.0 110.6h1v1h-1zM270.1 73.2h1v1h-1zM228.6 106.4h1v1h-1zM278.7 113.0h1v1h-1zM269.4 68.0h1v1h-1zM218.6 111.9h1v1h-1zM266.8 94.0h1v1h-1zM273.0 100.5h1v1h-1zM272.9 64.8h1v1h-1zM272.7 75.0h1v1h-1zM247.2 112.8h1v1h-1zM278.1 60.1h1v1h-1zM271.4 113.0h1v1h-1zM278.5 90.9h1v1h-1zM265.4 72.6h1v1h-1zM278.1 67.0h1v1h-1zM269.7 90.8h1v1h-1zM273.5 116.1h1v1h-1zM231.2 101.4h1v1h-1zM276.0 66.4h1v1h-1zM269.3 108.6h1v1h-1zM269.9 73.2h1v1h-1zM271.2 115.0h1v1h-1zM275.9 71.0h1v1h-1zM272.3 68.0h1v1h-1zM267.0 115.0h1v1h-1zM260.0 83.7h1v1h-1zM266.6 108.1h1v1h-1zM267.3 112.0h1v1h-1zM272.2 67.0h1v1h-1zM271.1 93.0h1v1h-1zM270.2 76.8h1v1h-1zM255.1 108.6h1v1h-1zM237.5 110.6h1v1h-1zM280.7 116.8h1v1h-1zM271.8 113.3h1v1h-1zM267.0 114.6h1v1h-1zM246.3 73.5h1v1h-1zM224.3 112.4h1v1h-1zM275.3 105.4h1v1h-1zM273.8 115.3h1v1h-1zM270.1 99.1h1v1h-1zM249.1 91.4h1v1h-1zM237.7 120.6h1v1h-1zM267.0 82.4h1v1h-1zM278.2 100.0h1v1h-1zM271.0 104.8h1v1h-1zM274.6 73.8h1v1h-1zM251.2 84.6h1v1h-1zM263.5 94.7h1v1h-1zM278.8 77.9h1v1h-1zM270.9 84.7h1v1h-1zM277.3 56.7h1v1h-1zM282.1 96.3h1v1h-1zM250.1 110.7h1v1h-1zM273.3 112.7h1v1h-1zM275.8 113.5h1v1h-1zM257.1 77.1h1v1h-1zM273.7 68.9h1v1h-1zM275.4 68.2h1v1h-1zM223.1 110.9h1v1h-1zM234.0 88.0h1v1h-1zM266.2 75.9h1v1h-1zM278.8 111.7h1v1h-1zM254.9 112.2h1v1h-1zM271.2 115.3h1v1h-1zM274.3 59.8h1v1h-1zM254.2 71.6h1v1h-1zM273.4 100.6h1v1h-1zM273.4 111.7h1v1h-1zM274.9 58.6h1v1h-1zM233.2 80.8h1v1h-1zM237.9 111.7h1v1h-1zM219.9 118.1h1v1h-1zM247.9 64.5h1v1h-1zM265.7 87.9h1v1h-1zM276.7 76.9h1v1h-1zM276.0 61.7h1v1h-1zM271.7 114.2h1v1h-1zM264.4 113.9h1v1h-1zM273.5 108.9h1v1h-1zM250.0 117.8h1v1h-1zM276.3 61.8h1v1h-1zM266.8 66.7h1v1h-1zM270.6 65.7h1v1h-1zM271.2 92.3h1v1h-1zM269.3 65.7h1v1h-1zM269.6 112.8h1v1h-1zM259.4 60.5h1v1h-1zM268.8 70.0h1v1h-1zM277.9 100.0h1v1h-1zM270.3 55.4h1v1h-1zM266.2 112.1h1v1h-1zM272.0 71.7h1v1h-1zM269.8 68.0h1v1h-1zM275.1 74.2h1v1h-1zM216.0 110.6h1v1h-1zM273.8 75.2h1v1h-1zM235.1 119.4h1v1h-1zM274.6 110.5h1v1h-1zM264.9 111.4h1v1h-1zM265.3 67.1h1v1h-1zM269.0 71.1h1v1h-1zM271.6 74.3h1v1h-1zM261.6 72.1h1v1h-1zM275.5 91.7h1v1h-1zM276.8 107.9h1v1h-1zM244.4 112.1h1v1h-1zM256.3 109.7h1v1h-1zM273.3 62.1h1v1h-1zM268.3 114.6h1v1h-1zM261.9 81.4h1v1h-1zM275.4 90.5h1v1h-1zM272.2 93.4h1v1h-1zM269.0 96.1h1v1h-1zM220.9 114.1h1v1h-1zM273.3 116.2h1v1h-1zM274.4 68.0h1v1h-1zM232.8 110.0h1v1h-1zM271.1 109.1h1v1h-1zM274.9 70.8h1v1h-1zM269.0 112.5h1v1h-1zM254.8 97.9h1v1h-1zM278.4 113.4h1v1h-1zM230.2 110.4h1v1h-1zM254.7 63.1h1v1h-1zM237.4 107.8h1v1h-1zM275.5 65.3h1v1h-1zM274.2 114.9h1v1h-1zM272.0 89.9h1v1h-1zM271.8 69.4h1v1h-1zM268.3 110.1h1v1h-1zM213.5 114.1h1v1h-1zM275.3 103.2h1v1h-1zM276.1 71.9h1v1h-1zM270.9 115.7h1v1h-1zM276.3 79.5h1v1h-1zM273.9 111.2h1v1h-1zM219.0 111.5h1v1h-1zM242.9 111.1h1v1h-1zM266.7 112.4h1v1h-1zM277.5 112.2h1v1h-1zM271.2 71.6h1v1h-1zM276.2 101.1h1v1h-1zM268.7 99.6h1v1h-1zM233.2 110.6h1v1h-1zM267.6 71.9h1v1h-1zM231.7 113.4h1v1h-1zM219.7 108.5h1v1h-1zM239.8 111.6h1v1h-1zM275.0 113.3h1v1h-1zM248.8 93.3h1v1h-1zM271.1 66.8h1v1h-1zM269.6 65.5h1v1h-1zM272.6 107.2h1v1h-1zM270.7 111.7h1v1h-1zM237.0 112.0h1v1h-1zM273.4 107.8h1v1h-1zM273.2 118.0h1v1h-1zM259.0 114.0h1v1h-1zM276.1 57.1h1v1h-1zM224.4 107.8h1v1h-1zM270.3 96.1h1v1h-1zM275.3 71.2h1v1h-1zM274.7 68.3h1v1h-1zM273.2 112.5h1v1h-1zM258.2 90.6h1v1h-1zM235.2 111.8h1v1h-1zM271.5 115.2h1v1h-1zM238.4 114.0h1v1h-1zM230.5 108.4h1v1h-1zM272.4 77.2h1v1h-1zM261.6 115.6h1v1h-1zM249.6 96.4h1v1h-1zM278.5 116.7h1v1h-1zM274.4 73.7h1v1h-1zM271.0 67.8h1v1h-1zM279.8 110.4h1v1h-1zM275.4 95.6h1v1h-1zM273.6 65.5h1v1h-1zM270.9 57.1h1v1h-1zM265.7 72.1h1v1h-1zM268.7 112.7h1v1h-1zM225.0 106.9h1v1h-1zM275.4 67.7h1v1h-1zM275.0 83.7h1v1h-1zM218.4 108.8h1v1h-1zM239.2 114.1h1v1h-1zM274.8 114.2h1v1h-1zM276.5 115.7h1v1h-1zM263.6 108.4h1v1h-1zM282.8 95.0h1v1h-1zM270.3 71.9h1v1h-1zM252.7 81.3h1v1h-1zM216.4 114.8h1v1h-1zM218.5 114.4h1v1h-1zM267.7 76.2h1v1h-1zM270.4 96.2h1v1h-1zM245.7 82.6h1v1h-1zM275.3 111.6h1v1h-1zM260.5 106.8h1v1h-1zM270.1 71.3h1v1h-1zM252.2 113.2h1v1h-1zM270.5 110.7h1v1h-1zM250.2 90.6h1v1h-1zM266.9 111.0h1v1h-1zM276.5 107.5h1v1h-1zM281.6 74.0h1v1h-1zM268.1 64.5h1v1h-1zM220.1 115.4h1v1h-1zM278.3 113.6h1v1h-1zM250.3 83.1h1v1h-1zM249.8 116.0h1v1h-1zM275.8 75.2h1v1h-1zM279.4 110.9h1v1h-1zM253.8 67.3h1v1h-1zM276.8 112.0h1v1h-1zM282.6 115.2h1v1h-1zM272.5 110.4h1v1h-1zM268.1 68.4h1v1h-1zM272.3 112.9h1v1h-1zM279.7 77.8h1v1h-1zM226.7 106.5h1v1h-1zM281.3 63.4h1v1h-1zM225.3 106.4h1v1h-1zM272.1 95.9h1v1h-1zM273.5 112.2h1v1h-1zM217.1 118.1h1v1h-1zM275.2 78.8h1v1h-1zM269.2 64.2h1v1h-1zM257.4 86.0h1v1h-1zM269.3 70.3h1v1h-1zM269.9 110.8h1v1h-1zM272.0 107.0h1v1h-1zM273.1 91.1h1v1h-1zM258.3 110.6h1v1h-1zM278.1 72.0h1v1h-1zM278.4 112.2h1v1h-1zM272.0 94.1h1v1h-1zM237.3 108.7h1v1h-1zM272.8 115.3h1v1h-1zM230.1 107.4h1v1h-1zM233.9 105.3h1v1h-1zM276.2 112.3h1v1h-1zM224.8 107.2h1v1h-1zM270.1 96.2h1v1h-1zM239.3 114.7h1v1h-1zM259.5 117.4h1v1h-1zM270.9 70.4h1v1h-1zM269.5 73.7h1v1h-1zM263.0 112.0h1v1h-1zM272.9 77.9h1v1h-1zM270.6 57.2h1v1h-1zM262.8 102.7h1v1h-1zM272.8 68.9h1v1h-1zM274.6 60.8h1v1h-1zM273.1 112.5h1v1h-1zM279.7 68.8h1v1h-1zM270.8 62.9h1v1h-1zM277.7 107.7h1v1h-1zM276.3 106.2h1v1h-1zM244.7 112.6h1v1h-1zM263.9 110.2h1v1h-1zM278.3 62.3h1v1h-1zM271.7 72.2h1v1h-1zM246.6 113.7h1v1h-1zM270.0 109.3h1v1h-1zM277.8 86.8h1v1h-1zM242.4 110.6h1v1h-1zM246.8 91.9h1v1h-1zM245.8 116.0h1v1h-1zM257.8 66.0h1v1h-1zM273.2 73.9h1v1h-1zM271.4 100.1h1v1h-1zM276.5 112.2h1v1h-1zM276.2 67.4h1v1h-1zM245.3 116.0h1v1h-1zM267.0 90.6h1v1h-1zM256.5 93.3h1v1h-1zM274.1 74.7h1v1h-1zM250.0 61.9h1v1h-1zM271.6 112.0h1v1h-1zM211.7 111.7h1v1h-1zM279.9 98.3h1v1h-1zM234.2 107.7h1v1h-1zM276.6 83.6h1v1h-1zM269.6 68.4h1v1h-1zM266.2 63.0h1v1h-1zM276.5 113.5h1v1h-1zM261.2 69.7h1v1h-1zM272.4 110.5h1v1h-1zM275.3 112.4h1v1h-1zM238.4 104.3h1v1h-1zM232.1 105.2h1v1h-1zM239.8 109.0h1v1h-1zM278.2 63.8h1v1h-1zM274.7 108.9h1v1h-1zM260.0 90.3h1v1h-1zM271.4 110.4h1v1h-1zM266.8 63.8h1v1h-1zM234.3 113.1h1v1h-1zM273.3 57.5h1v1h-1zM267.9 113.7h1v1h-1zM276.5 112.6h1v1h-1zM275.3 112.6h1v1h-1zM268.9 66.8h1v1h-1zM248.0 111.5h1v1h-1zM271.0 84.6h1v1h-1zM213.1 113.8h1v1h-1zM272.1 67.9h1v1h-1zM268.6 93.0h1v1h-1zM273.5 115.5h1v1h-1zM219.4 116.6h1v1h-1zM272.3 90.7h1v1h-1zM277.3 72.8h1v1h-1zM259.9 89.8h1v1h-1zM266.6 73.3h1v1h-1zM269.9 69.9h1v1h-1zM213.7 113.7h1v1h-1zM275.6 111.6h1v1h-1zM229.0 112.8h1v1h-1zM274.9 110.9h1v1h-1zM274.4 64.8h1v1h-1zM241.7 72.0h1v1h-1zM273.2 70.9h1v1h-1zM267.7 66.2h1v1h-1zM270.4 93.4h1v1h-1zM277.2 110.8h1v1h-1zM238.0 86.3h1v1h-1zM274.7 116.9h1v1h-1zM276.7 66.1h1v1h-1zM282.4 112.7h1v1h-1zM272.0 104.8h1v1h-1zM274.5 109.6h1v1h-1zM247.9 108.9h1v1h-1zM276.5 103.1h1v1h-1zM272.0 113.7h1v1h-1zM280.6 107.6h1v1h-1zM269.7 65.3h1v1h-1zM276.1 110.2h1v1h-1zM256.5 76.3h1v1h-1zM277.5 112.7h1v1h-1zM281.0 58.6h1v1h-1zM243.1 76.3h1v1h-1zM281.4 68.6h1v1h-1zM283.5 108.1h1v1h-1zM272.9 93.7h1v1h-1zM252.6 108.5h1v1h-1zM250.5 112.2h1v1h-1zM272.3 113.2h1v1h-1zM261.3 113.1h1v1h-1zM276.3 111.3h1v1h-1zM236.1 108.3h1v1h-1zM256.4 68.4h1v1h-1zM272.4 71.0h1v1h-1zM248.2 113.8h1v1h-1zM228.4 109.8h1v1h-1zM278.0 114.6h1v1h-1zM284.0 112.0h1v1h-1zM283.0 61.4h1v1h-1zM232.4 114.9h1v1h-1zM275.2 112.5h1v1h-1zM229.5 107.1h1v1h-1zM275.9 114.7h1v1h-1zM276.2 71.2h1v1h-1zM271.0 66.3h1v1h-1zM276.5 110.4h1v1h-1z" fill="#000" fill-opacity="0.55"/>
<path d="M264.9 65.0h1v1h-1zM272.7 114.3h1v1h-1zM276.3 82.9h1v1h-1zM264.6 62.1h1v1h-1zM212.9 112.5h1v1h-1zM277.7 79.0h1v1h-1zM210.7 107.8h1v1h-1zM270.6 57.9h1v1h-1zM280.6 111.0h1v1h-1zM278.0 109.8h1v1h-1zM276.0 112.2h1v1h-1zM281.5 65.0h1v1h-1zM275.1 109.4h1v1h-1zM264.4 58.8h1v1h-1zM232.9 78.8h1v1h-1zM273.7 114.2h1v1h-1zM272.2 69.1h1v1h-1zM271.4 72.2h1v1h-1zM281.6 110.6h1v1h-1zM274.4 112.9h1v1h-1zM227.6 113.4h1v1h-1zM273.7 111.1h1v1h-1zM276.8 112.5h1v1h-1zM254.7 70.7h1v1h-1zM266.7 69.2h1v1h-1zM278.8 112.2h1v1h-1zM274.7 70.5h1v1h-1zM262.5 111.3h1v1h-1zM253.3 95.4h1v1h-1zM229.2 113.3h1v1h-1zM270.5 92.9h1v1h-1zM276.1 115.6h1v1h-1zM231.2 110.7h1v1h-1zM274.6 78.3h1v1h-1zM280.0 79.0h1v1h-1zM278.6 67.0h1v1h-1zM276.5 99.6h1v1h-1zM273.8 69.3h1v1h-1zM235.6 120.5h1v1h-1zM270.8 75.7h1v1h-1zM275.7 70.8h1v1h-1zM265.4 70.6h1v1h-1zM216.5 118.3h1v1h-1zM254.2 92.8h1v1h-1zM270.2 109.2h1v1h-1zM239.0 111.1h1v1h-1zM267.5 105.1h1v1h-1zM212.7 109.7h1v1h-1zM274.1 112.8h1v1h-1zM267.1 77.0h1v1h-1zM279.2 113.6h1v1h-1zM274.4 98.7h1v1h-1zM270.8 90.0h1v1h-1zM272.7 93.6h1v1h-1zM264.0 70.4h1v1h-1zM237.0 109.0h1v1h-1zM257.0 66.4h1v1h-1zM273.3 110.0h1v1h-1zM223.0 114.7h1v1h-1zM242.4 111.7h1v1h-1zM235.8 108.7h1v1h-1zM268.3 74.9h1v1h-1zM269.0 74.4h1v1h-1zM272.5 67.7h1v1h-1zM260.1 107.7h1v1h-1zM272.0 111.1h1v1h-1zM276.7 113.6h1v1h-1zM222.8 113.8h1v1h-1zM271.8 71.5h1v1h-1zM272.1 109.7h1v1h-1zM270.7 113.0h1v1h-1zM265.3 81.7h1v1h-1zM271.4 113.1h1v1h-1zM272.0 75.9h1v1h-1zM268.5 108.7h1v1h-1zM266.9 91.5h1v1h-1zM268.4 68.6h1v1h-1zM237.8 99.7h1v1h-1zM265.8 95.9h1v1h-1zM257.4 75.4h1v1h-1zM264.7 109.6h1v1h-1zM273.1 109.5h1v1h-1zM259.4 110.1h1v1h-1zM228.0 111.8h1v1h-1zM256.6 112.4h1v1h-1zM272.5 79.9h1v1h-1zM263.0 108.2h1v1h-1zM274.5 113.2h1v1h-1zM250.8 87.7h1v1h-1zM274.0 95.3h1v1h-1zM271.7 113.6h1v1h-1zM272.0 95.6h1v1h-1zM281.5 113.9h1v1h-1zM271.0 95.9h1v1h-1zM276.1 87.3h1v1h-1zM222.1 112.6h1v1h-1zM265.7 112.4h1v1h-1zM263.3 66.3h1v1h-1zM271.9 62.4h1v1h-1zM272.4 108.5h1v1h-1zM269.5 107.1h1v1h-1zM273.1 108.0h1v1h-1zM280.8 68.0h1v1h-1zM264.9 58.9h1v1h-1zM214.6 110.5h1v1h-1zM264.6 77.7h1v1h-1zM230.6 117.7h1v1h-1zM264.9 114.9h1v1h-1zM270.9 72.8h1v1h-1zM219.8 113.4h1v1h-1zM270.4 81.4h1v1h-1zM274.1 82.1h1v1h-1zM281.5 108.7h1v1h-1zM227.4 111.4h1v1h-1zM272.9 91.2h1v1h-1zM224.8 114.0h1v1h-1zM220.6 49.2h1v1h-1zM221.8 107.6h1v1h-1zM270.8 81.2h1v1h-1zM273.9 68.4h1v1h-1zM251.3 111.2h1v1h-1zM274.6 112.5h1v1h-1zM246.1 112.3h1v1h-1zM269.9 78.0h1v1h-1zM269.2 66.4h1v1h-1zM252.1 116.4h1v1h-1zM278.5 117.5h1v1h-1zM274.3 61.6h1v1h-1zM274.1 97.4h1v1h-1zM271.5 90.9h1v1h-1zM275.7 68.8h1v1h-1zM258.8 109.5h1v1h-1zM274.0 117.3h1v1h-1zM248.9 114.4h1v1h-1zM256.6 110.0h1v1h-1zM270.4 105.0h1v1h-1zM264.1 74.7h1v1h-1zM270.7 88.6h1v1h-1zM259.9 76.2h1v1h-1zM264.4 115.6h1v1h-1zM267.4 58.3h1v1h-1zM276.2 116.8h1v1h-1zM225.0 110.0h1v1h-1zM221.9 112.0h1v1h-1zM270.2 72.2h1v1h-1zM273.1 116.1h1v1h-1zM264.9 74.4h1v1h-1zM234.1 109.2h1v1h-1zM274.8 73.9h1v1h-1zM278.7 111.1h1v1h-1zM276.1 113.7h1v1h-1zM257.9 71.0h1v1h-1zM273.8 75.8h1v1h-1zM272.7 96.6h1v1h-1zM252.7 112.0h1v1h-1zM275.0 104.7h1v1h-1zM232.4 97.3h1v1h-1zM270.7 69.7h1v1h-1zM267.2 78.5h1v1h-1zM276.1 114.0h1v1h-1zM250.6 114.8h1v1h-1zM237.5 116.4h1v1h-1zM281.2 73.6h1v1h-1zM278.3 94.5h1v1h-1zM271.8 113.8h1v1h-1zM263.4 98.4h1v1h-1zM268.5 67.6h1v1h-1zM267.2 110.1h1v1h-1zM266.2 108.7h1v1h-1zM262.0 110.8h1v1h-1zM273.9 112.2h1v1h-1zM234.9 116.1h1v1h-1zM246.8 77.1h1v1h-1zM272.5 68.4h1v1h-1zM217.8 113.1h1v1h-1zM276.2 113.4h1v1h-1zM271.0 77.4h1v1h-1zM276.5 110.1h1v1h-1zM269.5 68.1h1v1h-1zM270.4 117.2h1v1h-1zM272.0 108.9h1v1h-1zM274.0 84.0h1v1h-1zM269.8 105.8h1v1h-1zM265.0 65.5h1v1h-1zM278.5 75.2h1v1h-1zM276.0 64.6h1v1h-1zM276.2 69.5h1v1h-1zM271.4 75.8h1v1h-1zM230.1 107.2h1v1h-1zM246.0 109.3h1v1h-1zM273.5 110.9h1v1h-1zM298.1 70.0h1v1h-1zM237.4 113.2h1v1h-1zM272.0 79.8h1v1h-1zM282.5 111.6h1v1h-1zM269.2 61.4h1v1h-1zM239.1 84.8h1v1h-1zM220.3 112.7h1v1h-1zM268.8 113.7h1v1h-1zM277.4 110.0h1v1h-1zM237.2 113.5h1v1h-1zM267.1 101.2h1v1h-1zM277.0 111.4h1v1h-1zM266.1 111.5h1v1h-1zM246.1 114.7h1v1h-1zM278.5 109.1h1v1h-1zM271.6 112.1h1v1h-1zM270.7 96.9h1v1h-1zM275.3 68.7h1v1h-1zM275.8 112.0h1v1h-1zM267.3 118.1h1v1h-1zM270.2 88.7h1v1h-1zM272.9 63.2h1v1h-1zM268.2 60.3h1v1h-1zM220.5 112.8h1v1h-1zM274.0 76.6h1v1h-1zM236.5 109.7h1v1h-1zM271.9 98.6h1v1h-1zM278.8 118.3h1v1h-1zM218.5 113.5h1v1h-1zM273.3 61.5h1v1h-1zM222.8 110.6h1v1h-1zM262.1 111.6h1v1h-1zM273.4 111.3h1v1h-1zM271.4 104.5h1v1h-1zM221.7 117.7h1v1h-1zM271.4 117.5h1v1h-1zM271.1 78.2h1v1h-1zM277.4 66.9h1v1h-1zM273.2 111.4h1v1h-1zM253.0 55.1h1v1h-1zM268.9 112.4h1v1h-1zM271.5 112.0h1v1h-1zM261.2 116.3h1v1h-1zM260.2 113.6h1v1h-1zM259.7 112.0h1v1h-1zM266.6 113.4h1v1h-1zM269.7 102.2h1v1h-1zM270.6 70.1h1v1h-1zM219.2 109.9h1v1h-1zM212.4 114.0h1v1h-1zM257.7 46.1h1v1h-1zM244.8 111.7h1v1h-1zM277.6 77.2h1v1h-1zM267.8 110.3h1v1h-1zM221.9 114.6h1v1h-1zM275.4 113.6h1v1h-1zM280.5 111.5h1v1h-1zM228.5 112.5h1v1h-1zM269.0 59.9h1v1h-1zM273.7 72.6h1v1h-1zM269.7 115.4h1v1h-1zM270.8 106.2h1v1h-1zM271.4 66.8h1v1h-1zM269.3 92.9h1v1h-1zM280.0 60.3h1v1h-1zM262.8 60.4h1v1h-1zM277.6 106.8h1v1h-1zM267.0 61.1h1v1h-1zM262.6 71.6h1v1h-1zM268.9 65.8h1v1h-1zM268.0 71.7h1v1h-1zM231.8 103.2h1v1h-1zM261.2 73.9h1v1h-1zM232.8 113.2h1v1h-1zM221.0 110.8h1v1h-1zM227.8 109.3h1v1h-1zM276.3 114.3h1v1h-1zM274.3 82.7h1v1h-1zM271.7 93.3h1v1h-1zM284.3 69.1h1v1h-1zM263.1 117.5h1v1h-1zM273.1 93.2h1v1h-1zM212.7 114.2h1v1h-1zM271.8 108.3h1v1h-1zM270.3 113.0h1v1h-1zM276.6 104.5h1v1h-1zM271.5 62.2h1v1h-1zM228.8 112.2h1v1h-1zM264.1 108.2h1v1h-1zM211.9 115.8h1v1h-1zM270.2 84.4h1v1h-1zM267.2 110.8h1v1h-1zM272.0 113.2h1v1h-1zM270.8 76.9h1v1h-1zM215.8 109.7h1v1h-1zM273.6 108.2h1v1h-1zM278.9 107.6h1v1h-1zM233.5 118.8h1v1h-1zM266.5 76.6h1v1h-1zM275.2 87.6h1v1h-1zM277.1 57.1h1v1h-1zM261.7 62.0h1v1h-1zM273.0 90.1h1v1h-1zM228.0 114.7h1v1h-1zM282.9 71.8h1v1h-1zM250.0 90.7h1v1h-1zM267.4 93.4h1v1h-1zM272.6 108.9h1v1h-1zM224.7 108.2h1v1h-1zM250.1 78.5h1v1h-1zM275.3 65.0h1v1h-1zM221.1 110.5h1v1h-1zM276.6 98.6h1v1h-1zM276.9 110.3h1v1h-1zM273.5 104.3h1v1h-1zM274.0 114.4h1v1h-1zM273.1 110.1h1v1h-1zM274.8 64.8h1v1h-1zM279.9 54.4h1v1h-1zM274.7 111.0h1v1h-1zM267.5 101.6h1v1h-1zM265.8 67.2h1v1h-1zM218.4 111.7h1v1h-1zM266.1 76.4h1v1h-1zM219.0 112.0h1v1h-1zM273.4 72.0h1v1h-1zM273.9 83.4h1v1h-1zM224.4 109.2h1v1h-1zM271.6 98.0h1v1h-1zM276.9 110.5h1v1h-1zM239.7 115.5h1v1h-1zM277.1 92.8h1v1h-1zM255.1 115.3h1v1h-1zM280.7 78.3h1v1h-1zM262.7 88.2h1v1h-1zM269.1 58.7h1v1h-1zM280.4 61.2h1v1h-1zM273.5 111.6h1v1h-1zM273.1 69.7h1v1h-1zM259.8 105.7h1v1h-1zM264.5 89.2h1v1h-1zM220.6 110.5h1v1h-1zM273.5 66.2h1v1h-1zM278.7 69.7h1v1h-1zM272.4 100.7h1v1h-1zM267.8 54.6h1v1h-1zM275.7 88.1h1v1h-1zM252.4 69.1h1v1h-1zM273.4 112.4h1v1h-1zM214.8 106.8h1v1h-1zM268.1 104.3h1v1h-1zM270.3 110.3h1v1h-1zM272.6 68.6h1v1h-1zM267.1 73.3h1v1h-1zM212.6 113.0h1v1h-1zM255.3 110.8h1v1h-1zM274.6 110.0h1v1h-1zM280.7 105.6h1v1h-1zM277.8 77.1h1v1h-1zM258.7 115.3h1v1h-1zM219.8 117.0h1v1h-1zM266.7 72.5h1v1h-1zM283.2 68.5h1v1h-1zM279.7 73.6h1v1h-1zM274.6 77.9h1v1h-1zM268.8 73.1h1v1h-1zM267.3 114.0h1v1h-1zM267.8 100.2h1v1h-1zM271.3 80.0h1v1h-1zM271.1 75.8h1v1h-1zM277.7 111.9h1v1h-1zM277.3 78.9h1v1h-1zM236.1 113.0h1v1h-1zM271.1 50.7h1v1h-1zM267.5 63.7h1v1h-1zM273.4 76.0h1v1h-1zM272.5 68.6h1v1h-1zM277.8 108.6h1v1h-1zM222.7 112.9h1v1h-1zM268.8 71.1h1v1h-1zM265.8 72.6h1v1h-1zM268.3 113.6h1v1h-1zM272.7 112.8h1v1h-1zM221.2 108.6h1v1h-1zM275.0 112.6h1v1h-1zM272.4 96.4h1v1h-1zM256.4 92.7h1v1h-1zM279.7 112.2h1v1h-1zM218.3 107.8h1v1h-1zM219.8 110.6h1v1h-1zM276.2 74.3h1v1h-1zM241.5 115.0h1v1h-1zM280.1 106.2h1v1h-1zM214.1 110.2h1v1h-1zM268.8 105.0h1v1h-1zM272.0 91.0h1v1h-1zM273.7 111.2h1v1h-1zM274.1 110.4h1v1h-1zM228.9 112.8h1v1h-1zM218.8 114.8h1v1h-1zM267.7 68.9h1v1h-1zM271.3 101.8h1v1h-1zM273.3 114.5h1v1h-1zM270.2 111.6h1v1h-1zM271.9 107.4h1v1h-1zM222.4 113.1h1v1h-1zM257.1 105.4h1v1h-1zM268.4 80.3h1v1h-1zM278.3 65.2h1v1h-1zM274.7 114.3h1v1h-1zM259.5 83.9h1v1h-1zM227.9 109.7h1v1h-1zM231.0 115.3h1v1h-1zM279.8 116.1h1v1h-1zM223.8 114.5h1v1h-1zM274.3 111.9h1v1h-1zM268.6 67.4h1v1h-1zM265.5 75.1h1v1h-1zM276.0 91.3h1v1h-1zM270.9 91.4h1v1h-1zM245.6 115.5h1v1h-1zM234.5 114.8h1v1h-1zM241.0 108.3h1v1h-1zM215.9 116.5h1v1h-1zM223.7 109.3h1v1h-1zM272.1 114.1h1v1h-1zM249.1 50.2h1v1h-1zM272.9 115.1h1v1h-1zM277.1 58.4h1v1h-1zM268.1 112.3h1v1h-1zM271.6 67.3h1v1h-1zM210.7 111.2h1v1h-1zM276.3 66.7h1v1h-1zM283.3 68.9h1v1h-1zM274.0 82.6h1v1h-1zM271.4 115.4h1v1h-1zM246.3 110.7h1v1h-1zM275.4 65.8h1v1h-1zM267.0 101.7h1v1h-1zM274.2 114.2h1v1h-1zM276.1 96.0h1v1h-1zM267.4 113.9h1v1h-1zM244.3 113.2h1v1h-1zM278.9 65.0h1v1h-1zM214.1 114.1h1v1h-1zM277.4 70.9h1v1h-1zM270.6 80.4h1v1h-1zM264.3 67.4h1v1h-1zM242.2 53.8h1v1h-1zM275.9 94.0h1v1h-1zM258.4 58.4h1v1h-1zM268.4 88.9h1v1h-1zM276.2 100.0h1v1h-1zM279.8 109.2h1v1h-1zM242.5 76.9h1v1h-1zM264.9 84.4h1v1h-1zM278.5 111.5h1v1h-1zM277.5 112.0h1v1h-1zM271.9 102.8h1v1h-1zM266.7 72.5h1v1h-1zM268.9 70.4h1v1h-1zM215.3 112.1h1v1h-1zM278.8 91.0h1v1h-1zM219.4 115.3h1v1h-1zM226.2 113.7h1v1h-1zM271.7 114.2h1v1h-1zM252.0 86.4h1v1h-1zM269.7 93.2h1v1h-1zM274.0 109.1h1v1h-1zM278.0 90.7h1v1h-1zM276.6 110.7h1v1h-1zM278.9 82.5h1v1h-1zM250.6 118.2h1v1h-1zM216.8 115.2h1v1h-1zM277.8 63.0h1v1h-1zM273.9 71.3h1v1h-1zM213.5 109.0h1v1h-1zM273.5 113.0h1v1h-1zM236.3 111.7h1v1h-1zM269.2 114.6h1v1h-1zM271.6 62.2h1v1h-1zM249.3 117.3h1v1h-1zM269.9 71.2h1v1h-1zM270.8 113.0h1v1h-1zM278.0 63.5h1v1h-1zM270.2 73.9h1v1h-1zM216.9 109.7h1v1h-1zM239.1 111.1h1v1h-1zM269.9 114.6h1v1h-1zM276.7 65.1h1v1h-1zM274.7 113.9h1v1h-1zM257.3 72.8h1v1h-1zM236.1 111.5h1v1h-1zM270.2 84.1h1v1h-1zM271.4 94.9h1v1h-1zM274.2 106.7h1v1h-1zM281.8 70.5h1v1h-1zM274.3 77.9h1v1h-1zM268.4 66.7h1v1h-1zM239.1 111.2h1v1h-1zM267.1 94.2h1v1h-1zM256.5 114.5h1v1h-1zM264.3 70.9h1v1h-1zM269.7 59.7h1v1h-1zM216.9 107.5h1v1h-1zM273.2 114.6h1v1h-1zM231.1 106.4h1v1h-1zM281.0 109.5h1v1h-1zM220.3 112.9h1v1h-1zM274.2 63.0h1v1h-1zM225.6 114.7h1v1h-1zM260.4 75.3h1v1h-1zM268.2 68.7h1v1h-1zM272.3 58.4h1v1h-1zM258.2 93.7h1v1h-1zM273.9 111.1h1v1h-1zM276.7 87.6h1v1h-1zM272.7 111.0h1v1h-1zM283.9 115.3h1v1h-1zM268.8 113.3h1v1h-1zM226.5 108.9h1v1h-1zM223.9 109.3h1v1h-1zM215.6 112.0h1v1h-1zM224.3 116.1h1v1h-1zM275.5 107.9h1v1h-1zM222.9 112.5h1v1h-1zM278.6 114.6h1v1h-1zM224.6 110.1h1v1h-1zM244.4 82.3h1v1h-1zM262.7 115.7h1v1h-1zM276.2 110.7h1v1h-1zM273.2 111.6h1v1h-1zM266.7 63.6h1v1h-1zM275.7 112.2h1v1h-1zM266.5 115.4h1v1h-1zM257.7 80.0h1v1h-1zM271.2 63.7h1v1h-1zM273.8 86.3h1v1h-1zM278.1 114.0h1v1h-1zM262.0 115.6h1v1h-1zM267.0 96.4h1v1h-1zM275.3 72.5h1v1h-1zM272.3 95.5h1v1h-1zM235.4 113.1h1v1h-1zM254.3 82.0h1v1h-1zM263.3 112.9h1v1h-1zM249.1 116.5h1v1h-1zM264.4 102.8h1v1h-1zM267.2 71.9h1v1h-1zM255.1 112.7h1v1h-1zM267.5 96.2h1v1h-1zM250.1 114.1h1v1h-1zM218.1 114.0h1v1h-1zM236.9 115.8h1v1h-1zM275.3 119.2h1v1h-1zM274.7 107.4h1v1h-1zM277.6 103.0h1v1h-1zM265.0 113.7h1v1h-1zM225.9 113.0h1v1h-1zM276.4 113.8h1v1h-1zM270.7 98.0h1v1h-1zM278.4 108.2h1v1h-1zM278.3 65.2h1v1h-1zM276.7 80.3h1v1h-1zM217.4 108.9h1v1h-1zM257.9 57.3h1v1h-1zM244.7 71.2h1v1h-1zM272.6 116.1h1v1h-1zM272.5 113.2h1v1h-1zM269.6 71.3h1v1h-1zM269.9 107.6h1v1h-1zM282.9 97.0h1v1h-1zM265.8 115.4h1v1h-1zM272.2 114.4h1v1h-1zM229.5 114.6h1v1h-1zM274.5 111.4h1v1h-1zM227.7 113.4h1v1h-1zM281.1 79.8h1v1h-1zM265.5 114.2h1v1h-1zM274.3 111.1h1v1h-1zM276.1 75.8h1v1h-1zM279.9 114.4h1v1h-1zM255.6 60.7h1v1h-1zM274.0 111.5h1v1h-1zM257.4 114.2h1v1h-1zM230.7 110.1h1v1h-1zM275.4 109.9h1v1h-1zM230.3 106.6h1v1h-1zM250.5 112.1h1v1h-1zM275.8 111.3h1v1h-1zM245.4 118.1h1v1h-1zM271.1 68.4h1v1h-1zM214.9 112.7h1v1h-1zM267.1 115.1h1v1h-1zM273.3 71.8h1v1h-1zM273.0 110.7h1v1h-1zM278.1 111.7h1v1h-1zM283.9 59.6h1v1h-1zM269.1 110.4h1v1h-1zM217.8 110.3h1v1h-1zM276.9 67.2h1v1h-1zM273.2 60.1h1v1h-1zM276.8 109.5h1v1h-1zM275.2 74.0h1v1h-1zM273.4 114.9h1v1h-1zM247.3 110.2h1v1h-1zM268.3 110.2h1v1h-1zM279.1 69.6h1v1h-1zM272.4 69.9h1v1h-1zM271.1 98.9h1v1h-1zM248.3 106.1h1v1h-1zM212.3 115.7h1v1h-1zM275.2 113.0h1v1h-1zM264.2 97.5h1v1h-1zM275.5 83.0h1v1h-1zM229.7 111.0h1v1h-1zM268.5 97.5h1v1h-1zM275.6 71.8h1v1h-1zM223.1 110.8h1v1h-1zM281.4 113.4h1v1h-1zM270.9 115.0h1v1h-1zM220.8 111.7h1v1h-1zM272.0 90.7h1v1h-1zM277.2 64.2h1v1h-1zM274.5 73.0h1v1h-1zM275.2 108.5h1v1h-1zM273.3 111.6h1v1h-1zM279.9 111.7h1v1h-1zM273.0 111.8h1v1h-1zM243.0 116.9h1v1h-1zM250.4 74.1h1v1h-1zM269.6 66.3h1v1h-1zM235.2 113.2h1v1h-1zM212.5 116.8h1v1h-1zM272.7 116.2h1v1h-1zM266.6 73.0h1v1h-1z" fill="#000" fill-opacity="0.55"/>
<path d="M272.0 72.1h1v1h-1zM274.6 110.8h1v1h-1zM259.2 81.2h1v1h-1zM272.3 81.5h1v1h-1zM222.3 115.4h1v1h-1zM271.4 78.7h1v1h-1zM272.3 110.9h1v1h-1zM247.7 62.0h1v1h-1zM272.9 65.5h1v1h-1zM258.2 64.4h1v1h-1zM263.0 96.4h1v1h-1zM272.5 61.2h1v1h-1zM270.3 67.0h1v1h-1zM271.6 80.0h1v1h-1zM228.1 105.9h1v1h-1zM272.0 109.6h1v1h-1zM268.8 106.9h1v1h-1zM268.3 81.6h1v1h-1zM251.9 116.1h1v1h-1zM279.5 78.9h1v1h-1zM270.2 110.0h1v1h-1zM273.5 78.6h1v1h-1zM269.2 79.8h1v1h-1zM233.5 114.0h1v1h-1zM249.3 107.6h1v1h-1zM269.2 101.7h1v1h-1zM277.0 113.8h1v1h-1zM272.0 61.6h1v1h-1zM219.8 111.6h1v1h-1zM264.6 121.3h1v1h-1zM266.4 56.4h1v1h-1zM273.2 107.6h1v1h-1zM276.1 107.6h1v1h-1zM273.2 74.4h1v1h-1zM278.2 71.6h1v1h-1zM221.5 113.4h1v1h-1zM260.7 69.9h1v1h-1zM270.8 67.6h1v1h-1zM268.3 78.5h1v1h-1zM215.6 110.5h1v1h-1zM216.7 112.8h1v1h-1zM271.0 75.5h1v1h-1zM260.6 108.8h1v1h-1zM274.6 71.9h1v1h-1zM220.3 111.6h1v1h-1zM272.4 110.8h1v1h-1zM247.8 111.5h1v1h-1zM280.3 61.2h1v1h-1zM249.3 67.3h1v1h-1zM270.3 117.7h1v1h-1zM260.8 70.6h1v1h-1zM267.1 58.9h1v1h-1zM234.9 113.4h1v1h-1zM281.9 69.3h1v1h-1zM278.4 65.7h1v1h-1zM273.8 114.9h1v1h-1zM225.3 112.5h1v1h-1zM270.1 99.3h1v1h-1zM213.1 109.2h1v1h-1zM264.4 67.2h1v1h-1zM277.2 76.6h1v1h-1zM261.2 70.9h1v1h-1zM277.0 73.6h1v1h-1zM267.0 63.1h1v1h-1zM259.8 112.9h1v1h-1zM274.3 68.3h1v1h-1zM262.1 112.6h1v1h-1zM254.6 82.9h1v1h-1zM271.6 94.9h1v1h-1zM271.3 66.5h1v1h-1zM273.6 72.4h1v1h-1zM264.9 116.6h1v1h-1zM220.9 113.5h1v1h-1zM270.4 78.8h1v1h-1zM275.1 95.9h1v1h-1zM263.8 66.6h1v1h-1zM272.8 74.6h1v1h-1zM271.4 93.8h1v1h-1zM217.8 112.3h1v1h-1zM271.5 90.0h1v1h-1zM218.3 110.0h1v1h-1zM270.6 98.4h1v1h-1zM270.0 112.8h1v1h-1zM267.7 90.6h1v1h-1zM219.7 114.9h1v1h-1zM269.0 69.1h1v1h-1zM269.1 112.9h1v1h-1zM272.6 115.0h1v1h-1zM278.1 90.7h1v1h-1zM270.8 115.2h1v1h-1zM239.7 115.7h1v1h-1zM271.2 74.9h1v1h-1zM265.6 114.5h1v1h-1zM277.9 58.3h1v1h-1zM268.2 77.7h1v1h-1zM240.3 85.2h1v1h-1zM278.2 59.3h1v1h-1zM277.6 65.0h1v1h-1zM223.7 107.2h1v1h-1zM274.8 72.9h1v1h-1zM269.7 111.2h1v1h-1zM268.1 90.5h1v1h-1zM268.7 116.8h1v1h-1zM277.9 53.4h1v1h-1zM242.3 75.8h1v1h-1zM273.4 75.9h1v1h-1zM272.1 106.6h1v1h-1zM229.6 110.0h1v1h-1zM275.9 97.5h1v1h-1zM280.0 80.5h1v1h-1zM271.5 70.8h1v1h-1zM240.4 115.1h1v1h-1zM270.8 58.4h1v1h-1zM260.2 111.8h1v1h-1zM251.1 78.7h1v1h-1zM270.9 78.6h1v1h-1zM274.8 52.2h1v1h-1zM265.9 116.6h1v1h-1zM218.8 112.4h1v1h-1zM221.3 109.8h1v1h-1zM264.0 113.9h1v1h-1zM247.3 117.3h1v1h-1zM274.4 107.0h1v1h-1zM275.0 110.4h1v1h-1zM264.7 94.6h1v1h-1zM213.8 110.9h1v1h-1zM269.2 62.5h1v1h-1zM262.9 79.0h1v1h-1zM255.7 114.3h1v1h-1zM230.0 102.0h1v1h-1zM274.5 73.2h1v1h-1zM271.4 114.4h1v1h-1zM278.5 85.7h1v1h-1zM254.2 80.0h1v1h-1zM241.7 116.9h1v1h-1zM275.4 64.0h1v1h-1zM269.4 114.1h1v1h-1zM279.2 89.0h1v1h-1zM222.3 103.9h1v1h-1zM271.6 111.6h1v1h-1zM250.7 62.0h1v1h-1zM273.0 113.7h1v1h-1zM269.1 112.8h1v1h-1zM250.8 108.8h1v1h-1zM274.5 75.8h1v1h-1zM274.5 70.1h1v1h-1zM267.6 115.6h1v1h-1zM272.4 66.2h1v1h-1zM275.1 88.1h1v1h-1zM269.8 115.7h1v1h-1zM268.2 114.7h1v1h-1zM275.6 109.5h1v1h-1zM273.2 113.2h1v1h-1zM240.0 108.9h1v1h-1zM273.7 96.4h1v1h-1zM252.9 89.8h1v1h-1zM246.7 70.4h1v1h-1zM278.8 71.2h1v1h-1zM230.5 105.5h1v1h-1zM213.9 108.7h1v1h-1zM263.0 74.8h1v1h-1zM278.1 81.6h1v1h-1zM280.2 80.3h1v1h-1zM238.6 108.5h1v1h-1zM267.0 70.2h1v1h-1zM266.6 108.1h1v1h-1zM267.6 70.3h1v1h-1zM274.7 79.2h1v1h-1zM230.1 114.4h1v1h-1zM216.5 113.6h1v1h-1zM262.9 112.8h1v1h-1zM273.3 55.9h1v1h-1zM263.6 111.7h1v1h-1zM278.8 89.5h1v1h-1zM271.2 65.6h1v1h-1zM276.9 104.3h1v1h-1zM270.1 59.5h1v1h-1zM270.5 114.8h1v1h-1zM271.0 75.0h1v1h-1zM272.4 114.3h1v1h-1zM272.6 110.7h1v1h-1zM227.7 113.7h1v1h-1zM281.2 74.2h1v1h-1zM215.3 118.0h1v1h-1zM223.2 106.9h1v1h-1zM259.1 114.5h1v1h-1zM279.3 71.4h1v1h-1zM232.4 105.4h1v1h-1zM242.0 78.6h1v1h-1zM275.3 110.2h1v1h-1zM231.5 110.4h1v1h-1zM275.3 109.7h1v1h-1zM272.3 110.7h1v1h-1zM282.4 94.6h1v1h-1zM274.2 114.0h1v1h-1zM274.9 106.4h1v1h-1zM277.7 73.4h1v1h-1zM265.9 68.2h1v1h-1zM272.6 81.7h1v1h-1zM247.3 70.0h1v1h-1zM276.0 98.3h1v1h-1zM231.5 106.8h1v1h-1zM230.0 118.0h1v1h-1zM226.4 113.9h1v1h-1zM270.4 96.3h1v1h-1zM275.9 114.6h1v1h-1zM281.5 115.9h1v1h-1zM236.2 110.5h1v1h-1zM273.7 62.0h1v1h-1zM273.4 113.9h1v1h-1zM276.7 97.9h1v1h-1zM272.9 102.4h1v1h-1zM272.2 64.6h1v1h-1zM272.9 89.5h1v1h-1zM216.9 109.8h1v1h-1zM271.9 108.9h1v1h-1zM278.8 111.1h1v1h-1zM277.7 95.2h1v1h-1zM268.0 110.5h1v1h-1zM274.3 117.6h1v1h-1zM269.5 113.1h1v1h-1zM269.9 87.5h1v1h-1zM235.0 96.5h1v1h-1zM246.4 112.9h1v1h-1zM272.1 71.4h1v1h-1zM268.0 113.3h1v1h-1zM280.7 111.2h1v1h-1zM244.2 107.0h1v1h-1zM262.5 109.1h1v1h-1zM275.9 78.6h1v1h-1zM267.0 66.0h1v1h-1zM256.5 77.4h1v1h-1zM262.6 111.1h1v1h-1zM255.1 110.9h1v1h-1zM213.7 116.8h1v1h-1zM225.0 110.9h1v1h-1zM274.7 109.5h1v1h-1zM277.9 113.3h1v1h-1zM275.9 83.1h1v1h-1zM270.8 85.3h1v1h-1zM270.0 114.1h1v1h-1zM260.8 65.3h1v1h-1zM270.0 74.6h1v1h-1zM268.4 107.9h1v1h-1zM278.8 111.9h1v1h-1zM252.4 64.6h1v1h-1zM275.9 87.9h1v1h-1zM233.3 109.0h1v1h-1zM272.3 109.7h1v1h-1zM271.0 109.6h1v1h-1zM225.4 109.9h1v1h-1zM273.9 111.1h1v1h-1zM273.5 114.5h1v1h-1zM223.6 113.4h1v1h-1zM276.7 67.9h1v1h-1zM276.0 113.8h1v1h-1zM275.3 70.2h1v1h-1zM246.3 91.3h1v1h-1zM278.3 87.9h1v1h-1zM278.0 115.0h1v1h-1zM270.2 94.1h1v1h-1zM277.8 70.6h1v1h-1zM257.7 65.6h1v1h-1zM276.5 111.9h1v1h-1zM272.9 115.8h1v1h-1zM263.9 109.1h1v1h-1zM269.7 69.7h1v1h-1zM268.9 70.7h1v1h-1zM273.0 108.2h1v1h-1zM290.4 110.9h1v1h-1zM274.2 114.2h1v1h-1zM272.7 77.6h1v1h-1zM273.1 98.8h1v1h-1zM251.2 70.3h1v1h-1zM277.6 113.9h1v1h-1zM278.8 109.3h1v1h-1zM247.9 58.1h1v1h-1zM278.1 114.2h1v1h-1zM271.0 78.2h1v1h-1zM270.3 87.2h1v1h-1zM239.2 113.8h1v1h-1zM276.6 98.8h1v1h-1zM267.3 72.4h1v1h-1zM272.4 117.0h1v1h-1zM278.1 86.6h1v1h-1zM217.5 113.6h1v1h-1zM253.2 69.4h1v1h-1zM276.5 60.6h1v1h-1zM278.5 114.6h1v1h-1zM221.3 114.8h1v1h-1zM229.7 111.6h1v1h-1zM264.4 110.3h1v1h-1zM272.4 86.2h1v1h-1zM267.5 113.1h1v1h-1zM270.5 95.2h1v1h-1zM277.1 113.1h1v1h-1zM268.9 111.4h1v1h-1zM275.1 63.0h1v1h-1zM265.9 70.6h1v1h-1zM236.8 112.5h1v1h-1zM275.5 71.4h1v1h-1zM273.2 113.5h1v1h-1zM236.5 108.9h1v1h-1zM266.9 66.9h1v1h-1zM280.8 75.2h1v1h-1zM273.9 52.4h1v1h-1zM275.2 112.9h1v1h-1zM278.0 77.7h1v1h-1zM266.0 62.1h1v1h-1zM268.9 113.2h1v1h-1zM227.3 107.6h1v1h-1zM271.2 60.1h1v1h-1zM268.8 68.3h1v1h-1zM228.4 111.4h1v1h-1zM235.8 93.4h1v1h-1zM227.1 113.3h1v1h-1zM276.1 72.7h1v1h-1zM265.8 110.8h1v1h-1zM267.8 68.6h1v1h-1zM264.6 75.6h1v1h-1zM274.8 97.2h1v1h-1zM263.3 58.8h1v1h-1zM245.7 113.3h1v1h-1zM264.1 110.1h1v1h-1zM275.8 68.0h1v1h-1zM271.7 109.5h1v1h-1zM277.2 114.5h1v1h-1zM251.3 67.9h1v1h-1zM252.3 61.3h1v1h-1zM275.0 107.4h1v1h-1zM271.2 111.5h1v1h-1zM241.6 114.6h1v1h-1zM273.3 70.2h1v1h-1zM257.3 106.3h1v1h-1zM262.1 83.4h1v1h-1zM273.7 114.3h1v1h-1zM262.7 78.5h1v1h-1zM266.1 76.1h1v1h-1zM275.2 90.3h1v1h-1zM279.9 72.7h1v1h-1zM276.3 112.3h1v1h-1zM270.7 74.0h1v1h-1zM274.0 101.3h1v1h-1zM267.8 73.2h1v1h-1zM273.4 112.6h1v1h-1zM279.0 85.7h1v1h-1zM280.9 117.5h1v1h-1zM269.3 114.9h1v1h-1zM236.3 107.2h1v1h-1zM265.8 69.8h1v1h-1zM271.9 116.3h1v1h-1zM267.8 114.0h1v1h-1zM277.6 74.9h1v1h-1zM275.3 93.0h1v1h-1zM263.7 72.7h1v1h-1zM269.8 75.0h1v1h-1zM267.1 111.1h1v1h-1zM279.2 109.6h1v1h-1zM225.3 111.2h1v1h-1zM242.2 112.6h1v1h-1zM268.6 84.2h1v1h-1zM263.1 69.0h1v1h-1zM254.9 77.1h1v1h-1zM281.6 69.4h1v1h-1zM264.1 68.2h1v1h-1zM276.9 93.7h1v1h-1zM270.0 113.5h1v1h-1zM230.2 101.8h1v1h-1zM279.7 114.0h1v1h-1zM273.5 97.4h1v1h-1zM232.5 122.1h1v1h-1zM276.2 110.2h1v1h-1zM271.7 112.5h1v1h-1zM214.3 107.0h1v1h-1zM275.5 100.3h1v1h-1zM220.4 110.4h1v1h-1zM267.4 54.4h1v1h-1zM261.5 59.1h1v1h-1zM220.0 107.3h1v1h-1zM266.6 113.1h1v1h-1zM234.9 116.2h1v1h-1zM277.7 109.9h1v1h-1zM272.2 96.1h1v1h-1zM282.8 89.5h1v1h-1zM266.1 106.4h1v1h-1zM251.1 115.8h1v1h-1zM279.9 109.6h1v1h-1zM270.0 94.4h1v1h-1zM270.3 105.3h1v1h-1zM254.4 117.3h1v1h-1zM275.5 108.9h1v1h-1zM221.5 108.6h1v1h-1zM274.6 67.2h1v1h-1zM272.9 111.5h1v1h-1zM256.3 64.7h1v1h-1zM273.9 88.4h1v1h-1zM274.8 111.3h1v1h-1zM246.3 64.4h1v1h-1zM273.3 106.0h1v1h-1zM253.3 80.8h1v1h-1zM263.2 79.1h1v1h-1zM280.7 59.1h1v1h-1zM261.0 71.8h1v1h-1zM269.2 94.5h1v1h-1zM217.6 114.2h1v1h-1zM275.6 55.3h1v1h-1zM263.4 114.0h1v1h-1zM266.9 116.8h1v1h-1zM265.5 111.4h1v1h-1zM279.3 70.9h1v1h-1zM232.1 113.9h1v1h-1zM266.4 108.9h1v1h-1zM272.1 113.1h1v1h-1zM230.9 106.9h1v1h-1zM275.9 115.4h1v1h-1zM283.0 73.7h1v1h-1zM281.4 79.1h1v1h-1zM281.0 70.4h1v1h-1zM224.6 110.5h1v1h-1zM269.1 79.9h1v1h-1zM276.0 114.5h1v1h-1zM260.4 82.4h1v1h-1zM221.5 112.4h1v1h-1zM275.7 60.1h1v1h-1zM267.3 98.8h1v1h-1zM272.3 92.9h1v1h-1zM274.4 112.0h1v1h-1zM259.4 109.8h1v1h-1zM274.6 62.7h1v1h-1zM273.1 79.0h1v1h-1zM279.0 112.2h1v1h-1zM227.9 116.1h1v1h-1zM243.3 111.9h1v1h-1zM276.3 112.8h1v1h-1zM268.8 64.3h1v1h-1zM276.9 116.9h1v1h-1zM254.0 75.5h1v1h-1zM271.9 111.2h1v1h-1zM272.4 72.8h1v1h-1zM275.5 110.7h1v1h-1zM215.7 108.9h1v1h-1zM261.6 109.3h1v1h-1zM271.7 68.5h1v1h-1zM280.1 73.8h1v1h-1zM226.0 109.5h1v1h-1zM272.7 88.9h1v1h-1zM219.6 117.5h1v1h-1zM268.8 75.2h1v1h-1zM279.2 64.3h1v1h-1zM274.0 83.2h1v1h-1zM238.0 110.2h1v1h-1zM276.0 72.2h1v1h-1zM232.8 104.8h1v1h-1zM224.9 109.6h1v1h-1zM271.7 104.8h1v1h-1zM254.6 113.2h1v1h-1zM274.8 67.6h1v1h-1zM276.6 113.5h1v1h-1zM256.5 80.8h1v1h-1zM271.5 66.2h1v1h-1zM223.8 112.5h1v1h-1zM242.4 115.7h1v1h-1zM276.7 111.7h1v1h-1zM272.3 75.7h1v1h-1zM285.5 113.9h1v1h-1zM277.4 70.7h1v1h-1zM272.5 69.1h1v1h-1zM270.7 65.2h1v1h-1zM260.1 110.6h1v1h-1zM271.7 113.9h1v1h-1zM275.2 72.3h1v1h-1zM228.2 103.0h1v1h-1zM274.2 111.4h1v1h-1zM241.4 111.9h1v1h-1zM274.4 85.7h1v1h-1zM265.5 109.6h1v1h-1zM218.8 119.7h1v1h-1zM267.8 98.6h1v1h-1zM278.3 114.3h1v1h-1zM285.2 114.1h1v1h-1zM276.2 77.2h1v1h-1zM217.5 107.9h1v1h-1zM250.6 72.1h1v1h-1zM271.6 112.2h1v1h-1zM276.1 88.6h1v1h-1zM256.6 87.2h1v1h-1zM278.1 68.8h1v1h-1zM221.5 109.5h1v1h-1zM278.6 87.2h1v1h-1zM229.5 99.4h1v1h-1zM264.2 101.9h1v1h-1zM243.0 111.5h1v1h-1zM269.6 109.9h1v1h-1zM280.2 93.1h1v1h-1zM267.0 67.0h1v1h-1zM278.1 115.5h1v1h-1zM267.5 113.5h1v1h-1zM280.0 112.1h1v1h-1zM269.5 81.6h1v1h-1zM266.0 112.1h1v1h-1zM276.1 114.6h1v1h-1zM275.3 108.9h1v1h-1zM274.8 115.2h1v1h-1zM259.8 115.8h1v1h-1zM279.1 59.2h1v1h-1zM273.8 62.8h1v1h-1zM273.4 81.7h1v1h-1zM273.5 111.8h1v1h-1zM255.5 70.3h1v1h-1zM276.6 114.8h1v1h-1zM275.2 111.4h1v1h-1zM213.5 110.4h1v1h-1zM265.1 63.7h1v1h-1zM276.1 93.3h1v1h-1zM281.4 81.2h1v1h-1zM274.1 68.9h1v1h-1zM267.4 92.8h1v1h-1zM268.2 81.7h1v1h-1zM276.1 114.5h1v1h-1zM269.7 111.9h1v1h-1zM272.8 58.6h1v1h-1zM274.5 110.5h1v1h-1zM270.2 112.5h1v1h-1zM283.8 111.7h1v1h-1zM229.1 111.6h1v1h-1zM269.0 64.1h1v1h-1zM270.6 70.7h1v1h-1zM273.0 110.1h1v1h-1zM270.6 114.4h1v1h-1zM272.1 111.6h1v1h-1zM229.3 112.6h1v1h-1zM227.4 109.5h1v1h-1zM250.9 61.4h1v1h-1zM281.3 109.7h1v1h-1zM274.5 115.2h1v1h-1zM278.6 115.2h1v1h-1zM276.0 110.0h1v1h-1zM237.9 114.5h1v1h-1zM282.1 86.8h1v1h-1zM210.8 110.0h1v1h-1zM270.5 97.6h1v1h-1zM231.6 105.2h1v1h-1zM283.4 114.1h1v1h-1zM273.4 72.5h1v1h-1zM252.3 86.0h1v1h-1zM273.3 114.6h1v1h-1zM217.7 114.7h1v1h-1zM224.6 112.1h1v1h-1zM265.1 99.1h1v1h-1zM257.6 91.6h1v1h-1zM265.3 68.2h1v1h-1zM262.1 111.2h1v1h-1zM266.3 63.2h1v1h-1zM272.3 74.3h1v1h-1zM276.5 78.0h1v1h-1zM272.2 113.1h1v1h-1zM264.2 60.2h1v1h-1zM266.0 74.4h1v1h-1zM270.6 115.4h1v1h-1zM225.8 111.3h1v1h-1zM275.6 81.6h1v1h-1zM232.9 108.9h1v1h-1zM275.4 88.2h1v1h-1zM266.0 76.1h1v1h-1zM270.2 109.3h1v1h-1zM230.9 106.7h1v1h-1zM273.1 111.0h1v1h-1zM265.7 63.1h1v1h-1zM275.5 117.7h1v1h-1zM229.9 111.7h1v1h-1zM219.9 109.6h1v1h-1zM251.7 71.7h1v1h-1zM280.0 74.2h1v1h-1zM262.9 76.8h1v1h-1zM230.7 107.9h1v1h-1zM246.7 114.0h1v1h-1zM215.8 115.3h1v1h-1zM272.2 65.3h1v1h-1zM273.6 99.3h1v1h-1zM272.5 80.3h1v1h-1zM248.1 82.4h1v1h-1zM267.6 65.3h1v1h-1zM270.9 96.6h1v1h-1zM266.3 90.1h1v1h-1zM275.7 56.2h1v1h-1zM280.9 68.2h1v1h-1zM274.1 108.6h1v1h-1zM217.4 115.2h1v1h-1zM218.4 109.2h1v1h-1zM214.4 105.6h1v1h-1zM274.3 111.0h1v1h-1zM270.1 115.2h1v1h-1zM267.6 105.1h1v1h-1zM278.2 94.3h1v1h-1zM276.8 77.2h1v1h-1zM231.2 77.4h1v1h-1zM262.6 72.8h1v1h-1zM242.8 116.0h1v1h-1zM274.4 109.2h1v1h-1zM255.1 106.9h1v1h-1zM275.4 87.1h1v1h-1zM267.1 111.1h1v1h-1zM275.0 114.1h1v1h-1zM284.9 110.4h1v1h-1zM266.4 98.0h1v1h-1zM275.4 85.3h1v1h-1zM282.1 99.3h1v1h-1zM266.1 112.2h1v1h-1zM277.2 90.0h1v1h-1zM216.3 111.9h1v1h-1zM270.2 119.2h1v1h-1zM265.9 93.0h1v1h-1zM275.5 89.2h1v1h-1zM267.4 110.7h1v1h-1zM276.9 111.8h1v1h-1zM258.7 55.8h1v1h-1zM260.9 75.1h1v1h-1zM255.2 86.3h1v1h-1zM277.2 73.3h1v1h-1zM229.5 111.1h1v1h-1zM277.5 81.6h1v1h-1zM275.4 68.0h1v1h-1zM278.6 114.6h1v1h-1zM274.9 114.2h1v1h-1zM256.4 70.1h1v1h-1zM219.4 113.7h1v1h-1zM265.7 65.1h1v1h-1z" fill="#000" fill-opacity="0.55"/>
<path d="M277.4 65.1h1v1h-1zM253.3 114.3h1v1h-1zM270.8 116.0h1v1h-1zM268.8 70.4h1v1h-1zM275.5 66.8h1v1h-1zM228.8 109.7h1v1h-1zM254.5 111.9h1v1h-1zM276.9 110.7h1v1h-1zM258.2 83.3h1v1h-1zM278.1 67.3h1v1h-1zM240.9 86.2h1v1h-1zM271.3 111.4h1v1h-1zM277.4 111.3h1v1h-1zM276.5 67.9h1v1h-1zM235.8 105.5h1v1h-1zM279.1 115.1h1v1h-1zM283.4 113.7h1v1h-1zM227.1 120.4h1v1h-1zM280.4 112.8h1v1h-1zM274.4 80.2h1v1h-1zM276.0 98.6h1v1h-1zM218.6 111.6h1v1h-1zM277.2 87.8h1v1h-1zM272.4 70.9h1v1h-1zM218.3 113.7h1v1h-1zM277.5 112.4h1v1h-1zM253.7 113.0h1v1h-1zM275.2 109.5h1v1h-1zM221.9 113.7h1v1h-1zM278.4 114.7h1v1h-1zM281.3 69.2h1v1h-1zM271.1 76.2h1v1h-1zM277.4 73.7h1v1h-1zM272.9 65.9h1v1h-1zM274.9 114.2h1v1h-1zM228.9 108.7h1v1h-1zM269.1 94.0h1v1h-1zM248.8 109.2h1v1h-1zM266.7 112.7h1v1h-1zM270.3 67.2h1v1h-1zM273.1 112.1h1v1h-1zM235.5 113.1h1v1h-1zM276.8 84.6h1v1h-1zM275.0 113.4h1v1h-1zM254.8 110.5h1v1h-1zM262.0 77.7h1v1h-1zM237.5 114.3h1v1h-1zM236.7 112.2h1v1h-1zM231.9 111.4h1v1h-1zM266.4 83.9h1v1h-1zM264.2 71.6h1v1h-1zM272.5 111.1h1v1h-1zM267.7 110.4h1v1h-1zM277.6 117.9h1v1h-1zM270.8 67.1h1v1h-1zM256.8 80.4h1v1h-1zM248.1 102.1h1v1h-1zM239.8 116.6h1v1h-1zM218.5 115.7h1v1h-1zM264.8 114.7h1v1h-1zM250.5 114.8h1v1h-1zM224.9 111.2h1v1h-1zM219.5 113.6h1v1h-1zM258.0 84.3h1v1h-1zM274.8 110.6h1v1h-1zM264.8 82.0h1v1h-1zM274.0 107.2h1v1h-1zM261.8 101.5h1v1h-1zM224.8 117.1h1v1h-1zM272.4 108.3h1v1h-1zM270.8 115.7h1v1h-1zM221.1 118.1h1v1h-1zM261.5 92.6h1v1h-1zM272.1 113.2h1v1h-1zM271.8 60.5h1v1h-1zM280.0 66.4h1v1h-1zM269.0 103.7h1v1h-1zM272.9 82.8h1v1h-1zM274.3 66.8h1v1h-1zM239.0 114.6h1v1h-1zM261.5 71.5h1v1h-1zM280.9 107.7h1v1h-1zM231.2 109.4h1v1h-1zM218.1 113.9h1v1h-1zM263.7 68.1h1v1h-1zM219.9 114.8h1v1h-1zM272.7 111.5h1v1h-1zM276.7 90.4h1v1h-1zM249.0 75.8h1v1h-1zM279.1 119.1h1v1h-1zM269.9 98.6h1v1h-1zM275.0 111.3h1v1h-1zM268.6 100.6h1v1h-1zM253.0 95.9h1v1h-1zM262.2 115.4h1v1h-1zM222.5 111.3h1v1h-1zM271.2 115.7h1v1h-1zM270.4 64.4h1v1h-1zM269.4 111.9h1v1h-1zM270.7 107.6h1v1h-1zM268.8 102.3h1v1h-1zM273.0 76.3h1v1h-1zM223.5 110.9h1v1h-1zM274.0 112.0h1v1h-1zM244.8 117.9h1v1h-1zM215.8 115.6h1v1h-1zM267.1 108.9h1v1h-1zM262.3 111.4h1v1h-1zM284.6 111.3h1v1h-1zM220.8 112.2h1v1h-1zM272.6 69.5h1v1h-1zM268.7 73.9h1v1h-1zM276.2 87.4h1v1h-1zM266.8 114.0h1v1h-1zM266.0 81.6h1v1h-1zM268.4 68.2h1v1h-1zM278.5 114.6h1v1h-1zM256.0 77.2h1v1h-1zM269.8 82.7h1v1h-1zM269.1 114.0h1v1h-1zM261.9 113.0h1v1h-1zM227.5 117.0h1v1h-1zM256.4 116.0h1v1h-1zM273.1 58.3h1v1h-1zM268.6 114.2h1v1h-1zM275.9 110.2h1v1h-1zM270.6 67.5h1v1h-1zM251.2 102.1h1v1h-1zM251.9 112.1h1v1h-1zM260.9 74.4h1v1h-1zM270.0 107.1h1v1h-1zM271.0 109.0h1v1h-1zM281.2 75.5h1v1h-1zM266.1 110.0h1v1h-1zM257.1 114.0h1v1h-1zM272.8 109.1h1v1h-1zM267.7 117.8h1v1h-1zM270.3 79.4h1v1h-1zM222.3 108.4h1v1h-1zM235.0 116.5h1v1h-1zM274.3 71.3h1v1h-1zM232.5 109.0h1v1h-1zM274.1 110.9h1v1h-1zM276.5 117.5h1v1h-1zM277.2 115.5h1v1h-1zM271.2 98.4h1v1h-1zM263.0 77.3h1v1h-1zM267.8 68.5h1v1h-1zM223.7 117.0h1v1h-1zM268.0 80.8h1v1h-1zM263.7 65.0h1v1h-1zM282.0 113.1h1v1h-1zM263.1 106.5h1v1h-1zM281.4 98.0h1v1h-1zM271.2 91.0h1v1h-1zM271.8 96.5h1v1h-1zM275.6 111.0h1v1h-1zM231.3 109.3h1v1h-1zM265.0 99.6h1v1h-1zM269.4 120.9h1v1h-1zM248.5 57.4h1v1h-1zM276.4 115.3h1v1h-1zM262.2 106.6h1v1h-1zM275.4 111.4h1v1h-1zM271.5 68.1h1v1h-1zM213.4 109.0h1v1h-1zM274.9 82.7h1v1h-1zM266.8 79.8h1v1h-1zM265.6 99.3h1v1h-1zM274.5 63.0h1v1h-1zM271.1 111.5h1v1h-1zM270.6 58.6h1v1h-1zM274.5 112.9h1v1h-1zM280.6 114.1h1v1h-1zM274.7 94.9h1v1h-1zM274.2 90.5h1v1h-1zM275.3 71.5h1v1h-1zM272.1 113.1h1v1h-1zM214.8 114.6h1v1h-1zM266.0 114.8h1v1h-1zM270.3 67.0h1v1h-1zM274.5 112.2h1v1h-1zM271.8 104.9h1v1h-1zM272.1 113.5h1v1h-1zM269.8 110.4h1v1h-1zM269.6 72.2h1v1h-1zM279.7 103.5h1v1h-1zM277.8 62.8h1v1h-1zM277.0 95.1h1v1h-1zM267.7 109.4h1v1h-1zM278.9 55.9h1v1h-1zM215.3 105.5h1v1h-1zM271.2 114.5h1v1h-1zM275.9 65.0h1v1h-1zM277.6 77.9h1v1h-1zM273.0 70.7h1v1h-1zM214.1 113.2h1v1h-1zM263.9 66.3h1v1h-1zM280.8 112.3h1v1h-1zM261.6 72.8h1v1h-1zM264.1 83.4h1v1h-1zM245.5 118.1h1v1h-1zM274.4 111.7h1v1h-1zM266.8 68.1h1v1h-1zM269.7 58.4h1v1h-1zM222.2 112.1h1v1h-1zM271.9 112.9h1v1h-1zM250.2 58.7h1v1h-1zM266.5 61.8h1v1h-1zM247.6 112.4h1v1h-1zM277.7 68.8h1v1h-1zM273.9 103.9h1v1h-1zM248.4 112.8h1v1h-1zM248.1 72.6h1v1h-1zM271.0 94.3h1v1h-1zM251.4 111.0h1v1h-1zM237.6 112.4h1v1h-1zM271.3 112.1h1v1h-1zM275.0 64.4h1v1h-1zM270.0 49.9h1v1h-1zM268.8 92.7h1v1h-1zM275.3 112.7h1v1h-1zM255.6 59.7h1v1h-1zM273.4 112.7h1v1h-1zM272.9 60.5h1v1h-1zM272.9 58.0h1v1h-1zM277.8 113.4h1v1h-1zM278.4 114.4h1v1h-1zM278.2 72.2h1v1h-1zM216.2 112.5h1v1h-1zM275.2 97.2h1v1h-1zM276.3 111.6h1v1h-1zM271.6 92.5h1v1h-1zM278.9 59.3h1v1h-1zM227.4 112.5h1v1h-1zM273.0 63.6h1v1h-1zM240.5 105.9h1v1h-1zM275.3 77.2h1v1h-1zM275.8 91.5h1v1h-1zM265.0 91.0h1v1h-1zM279.3 87.7h1v1h-1zM277.9 90.6h1v1h-1zM278.0 73.5h1v1h-1zM220.6 108.8h1v1h-1zM275.8 113.8h1v1h-1zM277.3 112.4h1v1h-1zM275.4 63.8h1v1h-1zM262.0 67.3h1v1h-1zM225.8 111.1h1v1h-1zM218.2 111.6h1v1h-1zM254.6 71.7h1v1h-1zM225.0 114.7h1v1h-1zM217.9 113.2h1v1h-1zM274.6 91.4h1v1h-1zM279.0 71.2h1v1h-1zM268.6 107.5h1v1h-1zM263.0 111.6h1v1h-1zM241.6 81.6h1v1h-1zM278.0 94.6h1v1h-1zM275.7 107.5h1v1h-1zM271.7 93.9h1v1h-1zM275.5 89.9h1v1h-1zM230.7 106.4h1v1h-1zM273.6 97.0h1v1h-1zM219.3 108.9h1v1h-1zM271.6 68.2h1v1h-1zM248.5 112.2h1v1h-1zM264.0 73.3h1v1h-1zM269.1 107.3h1v1h-1zM272.7 64.3h1v1h-1zM274.6 72.8h1v1h-1zM244.0 111.9h1v1h-1zM271.3 116.9h1v1h-1zM269.0 87.4h1v1h-1zM272.0 67.4h1v1h-1zM239.9 104.8h1v1h-1zM275.3 85.9h1v1h-1zM277.5 112.6h1v1h-1zM267.8 113.3h1v1h-1zM247.4 77.7h1v1h-1zM265.2 71.5h1v1h-1zM271.0 112.0h1v1h-1zM275.3 111.7h1v1h-1zM255.6 63.9h1v1h-1zM276.4 110.2h1v1h-1zM273.5 111.4h1v1h-1zM255.4 75.4h1v1h-1zM267.6 81.1h1v1h-1zM258.7 114.2h1v1h-1zM272.4 64.0h1v1h-1zM265.4 64.5h1v1h-1zM269.6 56.7h1v1h-1zM276.1 117.2h1v1h-1zM250.7 76.5h1v1h-1zM270.6 117.7h1v1h-1zM273.8 112.0h1v1h-1zM241.2 88.4h1v1h-1zM272.7 96.3h1v1h-1zM273.0 92.0h1v1h-1zM252.6 55.0h1v1h-1zM269.9 77.8h1v1h-1zM273.3 70.8h1v1h-1zM210.3 110.2h1v1h-1zM271.4 114.4h1v1h-1zM257.4 112.1h1v1h-1zM268.8 71.1h1v1h-1zM276.5 77.1h1v1h-1zM278.5 115.3h1v1h-1zM273.9 62.9h1v1h-1zM269.3 108.6h1v1h-1zM273.5 116.3h1v1h-1zM279.5 108.3h1v1h-1zM268.1 57.4h1v1h-1zM270.7 67.1h1v1h-1zM267.1 78.3h1v1h-1zM241.5 111.8h1v1h-1zM272.8 67.5h1v1h-1zM265.3 106.9h1v1h-1zM220.7 108.7h1v1h-1zM274.4 111.3h1v1h-1zM267.4 68.8h1v1h-1zM269.0 89.5h1v1h-1zM275.8 87.8h1v1h-1zM260.3 109.0h1v1h-1zM280.0 63.8h1v1h-1zM260.7 114.6h1v1h-1zM263.0 118.7h1v1h-1zM267.9 90.5h1v1h-1zM264.7 111.4h1v1h-1zM271.9 112.6h1v1h-1zM266.2 82.2h1v1h-1zM271.6 109.4h1v1h-1zM278.1 87.7h1v1h-1zM266.5 109.5h1v1h-1zM261.2 112.1h1v1h-1zM264.7 56.9h1v1h-1zM229.7 116.9h1v1h-1zM272.5 85.9h1v1h-1zM275.2 78.3h1v1h-1zM213.2 113.2h1v1h-1zM231.7 108.7h1v1h-1zM268.8 112.6h1v1h-1zM276.2 113.3h1v1h-1zM269.3 60.3h1v1h-1zM275.0 70.6h1v1h-1zM272.9 110.1h1v1h-1zM274.7 109.0h1v1h-1zM274.4 73.1h1v1h-1zM272.2 69.7h1v1h-1zM248.2 111.9h1v1h-1zM269.7 75.3h1v1h-1zM277.1 117.5h1v1h-1zM288.4 114.6h1v1h-1zM267.2 68.8h1v1h-1zM270.8 72.3h1v1h-1zM267.2 112.5h1v1h-1zM274.4 68.1h1v1h-1zM270.7 94.7h1v1h-1zM272.1 97.1h1v1h-1zM274.9 110.2h1v1h-1zM268.9 112.9h1v1h-1zM276.7 112.4h1v1h-1zM271.7 64.3h1v1h-1zM270.3 115.3h1v1h-1zM278.3 75.2h1v1h-1zM249.0 115.4h1v1h-1zM272.9 112.4h1v1h-1zM234.3 109.0h1v1h-1zM272.2 114.2h1v1h-1zM270.5 109.9h1v1h-1zM230.1 108.0h1v1h-1zM272.3 107.0h1v1h-1zM271.0 114.8h1v1h-1zM275.2 98.0h1v1h-1zM260.1 73.4h1v1h-1zM274.1 61.4h1v1h-1zM273.8 67.1h1v1h-1zM274.6 57.5h1v1h-1zM226.3 114.1h1v1h-1zM272.5 101.3h1v1h-1zM270.5 73.5h1v1h-1zM274.9 110.9h1v1h-1zM265.8 80.6h1v1h-1zM271.6 110.7h1v1h-1zM231.5 110.2h1v1h-1zM271.8 75.0h1v1h-1zM276.3 77.3h1v1h-1zM217.6 119.0h1v1h-1zM260.3 114.1h1v1h-1zM272.1 102.9h1v1h-1zM220.1 109.4h1v1h-1zM280.6 90.5h1v1h-1zM236.0 111.5h1v1h-1zM272.1 58.5h1v1h-1zM269.5 68.1h1v1h-1zM267.1 115.7h1v1h-1zM276.3 64.5h1v1h-1zM267.8 86.1h1v1h-1zM272.5 111.4h1v1h-1zM259.5 109.5h1v1h-1zM278.4 70.1h1v1h-1zM277.4 117.4h1v1h-1zM270.4 113.0h1v1h-1zM264.6 108.8h1v1h-1zM278.7 111.7h1v1h-1zM250.3 69.6h1v1h-1zM261.5 110.4h1v1h-1zM268.3 113.1h1v1h-1zM273.9 65.0h1v1h-1zM267.6 70.4h1v1h-1zM269.5 116.0h1v1h-1zM220.2 115.0h1v1h-1zM278.0 111.3h1v1h-1zM279.3 65.1h1v1h-1zM239.8 111.0h1v1h-1zM229.0 114.7h1v1h-1zM269.1 93.6h1v1h-1zM276.9 116.1h1v1h-1zM274.8 76.1h1v1h-1zM273.3 108.8h1v1h-1zM272.8 69.4h1v1h-1zM217.8 112.0h1v1h-1zM262.5 112.0h1v1h-1zM281.7 110.6h1v1h-1zM223.4 113.9h1v1h-1zM270.4 113.1h1v1h-1zM270.5 109.6h1v1h-1zM278.8 62.4h1v1h-1zM246.6 77.2h1v1h-1zM270.9 85.1h1v1h-1zM277.8 110.8h1v1h-1zM271.1 66.5h1v1h-1zM270.5 110.1h1v1h-1zM281.3 103.2h1v1h-1zM247.1 76.2h1v1h-1zM275.3 81.0h1v1h-1zM247.5 117.9h1v1h-1zM272.0 91.7h1v1h-1zM218.7 111.1h1v1h-1zM269.2 114.4h1v1h-1zM220.5 108.3h1v1h-1zM260.6 116.6h1v1h-1zM269.9 102.5h1v1h-1zM214.5 115.1h1v1h-1zM282.7 114.9h1v1h-1zM274.6 70.8h1v1h-1zM255.8 115.4h1v1h-1zM213.7 116.5h1v1h-1zM275.3 76.1h1v1h-1zM221.1 113.2h1v1h-1zM272.5 102.5h1v1h-1zM244.4 116.1h1v1h-1zM211.6 116.6h1v1h-1zM274.7 112.2h1v1h-1zM275.2 109.7h1v1h-1zM268.2 61.3h1v1h-1zM220.5 114.5h1v1h-1zM278.4 113.1h1v1h-1zM270.1 98.1h1v1h-1zM282.6 110.6h1v1h-1zM271.1 118.6h1v1h-1zM261.1 85.1h1v1h-1zM218.3 111.3h1v1h-1zM247.5 117.6h1v1h-1zM272.7 66.0h1v1h-1zM272.7 90.0h1v1h-1zM253.6 117.1h1v1h-1zM275.7 88.8h1v1h-1zM267.7 114.7h1v1h-1zM275.6 73.8h1v1h-1zM276.3 94.7h1v1h-1zM264.8 76.7h1v1h-1zM260.0 62.6h1v1h-1zM252.9 84.3h1v1h-1zM260.6 111.2h1v1h-1zM222.3 111.8h1v1h-1zM267.6 71.1h1v1h-1zM225.9 109.0h1v1h-1zM275.4 111.7h1v1h-1zM266.7 104.8h1v1h-1zM276.1 111.0h1v1h-1zM250.2 111.7h1v1h-1zM271.6 111.9h1v1h-1zM223.2 116.0h1v1h-1zM273.9 67.3h1v1h-1zM279.0 76.1h1v1h-1zM211.9 111.3h1v1h-1zM273.8 72.2h1v1h-1zM257.3 69.4h1v1h-1zM278.4 65.2h1v1h-1zM275.3 109.9h1v1h-1zM235.4 112.8h1v1h-1zM278.7 110.2h1v1h-1zM265.1 60.7h1v1h-1zM274.0 114.3h1v1h-1zM267.0 67.1h1v1h-1zM277.4 113.8h1v1h-1zM269.9 88.0h1v1h-1zM251.3 51.1h1v1h-1zM259.2 107.3h1v1h-1zM216.6 111.7h1v1h-1zM222.3 111.4h1v1h-1zM268.6 74.0h1v1h-1zM268.5 115.5h1v1h-1zM260.6 93.8h1v1h-1zM239.7 110.2h1v1h-1zM272.3 66.3h1v1h-1zM224.5 115.2h1v1h-1zM277.0 111.0h1v1h-1zM261.7 104.1h1v1h-1zM262.1 73.2h1v1h-1zM266.1 74.0h1v1h-1zM271.6 113.5h1v1h-1zM266.8 68.1h1v1h-1zM271.6 68.6h1v1h-1zM227.6 108.8h1v1h-1zM282.4 73.8h1v1h-1zM270.4 107.6h1v1h-1zM273.7 111.8h1v1h-1zM261.5 70.9h1v1h-1zM269.8 116.8h1v1h-1zM281.9 58.4h1v1h-1zM232.1 112.0h1v1h-1zM277.5 114.5h1v1h-1zM255.5 50.9h1v1h-1zM271.8 76.3h1v1h-1zM258.4 73.6h1v1h-1zM211.8 116.6h1v1h-1zM278.0 115.8h1v1h-1zM258.0 110.7h1v1h-1zM263.0 64.7h1v1h-1zM271.7 104.6h1v1h-1zM266.0 115.3h1v1h-1zM274.8 82.8h1v1h-1zM259.9 113.4h1v1h-1zM235.0 107.5h1v1h-1zM274.9 113.2h1v1h-1zM271.5 66.0h1v1h-1zM229.9 100.5h1v1h-1zM271.9 94.1h1v1h-1zM262.2 70.6h1v1h-1zM276.1 94.1h1v1h-1zM271.0 71.2h1v1h-1zM275.5 93.9h1v1h-1zM228.2 108.4h1v1h-1zM224.8 110.2h1v1h-1zM272.4 109.1h1v1h-1zM254.6 111.3h1v1h-1zM275.8 79.6h1v1h-1zM275.9 90.4h1v1h-1zM282.6 114.0h1v1h-1zM271.8 66.6h1v1h-1zM238.0 119.3h1v1h-1zM245.1 80.9h1v1h-1zM275.2 99.6h1v1h-1zM272.5 78.7h1v1h-1zM263.4 76.5h1v1h-1zM272.9 117.5h1v1h-1zM276.8 114.3h1v1h-1zM271.1 69.9h1v1h-1zM233.7 105.7h1v1h-1zM234.8 103.0h1v1h-1zM275.8 62.6h1v1h-1zM273.9 66.9h1v1h-1zM268.0 110.4h1v1h-1zM216.1 113.4h1v1h-1zM276.0 58.8h1v1h-1zM254.8 112.8h1v1h-1zM276.6 112.9h1v1h-1zM279.6 67.4h1v1h-1zM268.6 110.7h1v1h-1zM268.3 65.2h1v1h-1zM244.6 113.5h1v1h-1zM274.5 67.5h1v1h-1zM277.5 80.1h1v1h-1zM230.2 110.0h1v1h-1zM280.4 115.2h1v1h-1zM270.6 117.8h1v1h-1zM264.6 97.0h1v1h-1zM275.6 110.4h1v1h-1zM230.1 108.8h1v1h-1zM278.1 75.9h1v1h-1zM269.0 112.8h1v1h-1zM277.6 103.2h1v1h-1zM252.0 113.4h1v1h-1zM218.3 117.2h1v1h-1zM240.5 114.0h1v1h-1zM277.3 97.6h1v1h-1zM266.4 109.9h1v1h-1zM278.3 105.6h1v1h-1zM243.0 71.0h1v1h-1zM219.5 114.5h1v1h-1zM223.3 116.2h1v1h-1zM271.7 88.7h1v1h-1zM269.6 74.7h1v1h-1zM269.7 113.8h1v1h-1zM279.6 88.7h1v1h-1zM241.6 112.2h1v1h-1zM223.3 112.3h1v1h-1zM275.0 95.1h1v1h-1zM272.6 110.0h1v1h-1zM212.8 112.5h1v1h-1zM233.3 111.6h1v1h-1zM271.2 114.5h1v1h-1zM249.3 113.7h1v1h-1zM285.4 67.0h1v1h-1zM268.8 108.0h1v1h-1zM268.2 80.1h1v1h-1zM267.7 65.9h1v1h-1zM252.4 70.2h1v1h-1zM274.2 94.4h1v1h-1zM264.2 78.1h1v1h-1zM277.4 102.0h1v1h-1zM277.3 83.8h1v1h-1zM265.1 98.9h1v1h-1zM271.1 113.7h1v1h-1zM272.9 92.4h1v1h-1zM248.1 77.6h1v1h-1zM277.3 113.4h1v1h-1zM252.2 73.7h1v1h-1zM281.7 78.7h1v1h-1zM279.1 89.9h1v1h-1zM223.9 109.9h1v1h-1zM277.5 113.9h1v1h-1zM219.0 111.9h1v1h-1zM265.4 80.8h1v1h-1z" fill="#000" fill-opacity="0.55"/>
<path d="M271.7 112.9h1v1h-1zM267.0 95.3h1v1h-1zM270.7 119.4h1v1h-1zM258.8 68.2h1v1h-1zM272.8 110.3h1v1h-1zM273.2 67.0h1v1h-1zM278.1 113.2h1v1h-1zM278.5 113.8h1v1h-1zM265.9 64.2h1v1h-1zM265.0 109.8h1v1h-1zM222.6 112.4h1v1h-1zM272.4 93.2h1v1h-1zM249.0 103.1h1v1h-1zM273.1 92.1h1v1h-1zM273.1 85.2h1v1h-1zM259.3 92.1h1v1h-1zM273.7 108.7h1v1h-1zM240.6 116.9h1v1h-1zM286.7 114.4h1v1h-1zM274.0 112.6h1v1h-1zM263.7 72.0h1v1h-1zM266.9 73.0h1v1h-1zM269.7 65.4h1v1h-1zM264.1 100.4h1v1h-1zM246.3 112.1h1v1h-1zM269.1 60.5h1v1h-1zM271.9 110.6h1v1h-1zM273.4 84.2h1v1h-1zM276.8 112.3h1v1h-1zM249.0 68.9h1v1h-1zM271.9 110.4h1v1h-1zM253.8 117.6h1v1h-1zM215.0 112.5h1v1h-1zM271.9 61.7h1v1h-1zM274.2 69.0h1v1h-1zM272.2 75.8h1v1h-1zM277.1 78.1h1v1h-1zM269.8 63.2h1v1h-1zM272.5 77.2h1v1h-1zM268.2 67.5h1v1h-1zM220.2 108.5h1v1h-1zM279.5 108.1h1v1h-1zM269.8 112.8h1v1h-1zM252.3 75.6h1v1h-1zM276.4 112.4h1v1h-1zM264.9 72.3h1v1h-1zM276.6 109.7h1v1h-1zM259.9 116.6h1v1h-1zM276.4 99.7h1v1h-1zM270.4 72.0h1v1h-1zM269.8 97.5h1v1h-1zM277.5 112.4h1v1h-1zM221.6 110.1h1v1h-1zM230.0 109.8h1v1h-1zM269.7 117.2h1v1h-1zM217.4 117.0h1v1h-1zM248.8 107.4h1v1h-1zM270.3 72.5h1v1h-1zM271.3 79.1h1v1h-1zM268.8 78.5h1v1h-1zM272.2 110.8h1v1h-1zM269.0 113.6h1v1h-1zM277.9 114.7h1v1h-1zM219.5 112.0h1v1h-1zM216.3 112.5h1v1h-1zM272.1 106.1h1v1h-1zM273.9 94.8h1v1h-1zM277.3 110.7h1v1h-1zM248.6 122.2h1v1h-1zM264.4 108.9h1v1h-1zM273.1 62.3h1v1h-1zM270.7 113.0h1v1h-1zM275.0 74.4h1v1h-1zM252.6 64.2h1v1h-1zM275.3 72.8h1v1h-1zM275.0 108.8h1v1h-1zM272.3 111.0h1v1h-1zM275.5 114.8h1v1h-1zM263.7 89.7h1v1h-1zM227.0 108.0h1v1h-1zM257.3 108.1h1v1h-1zM245.5 82.3h1v1h-1zM279.9 88.6h1v1h-1zM278.9 112.7h1v1h-1zM270.2 114.2h1v1h-1zM275.2 58.1h1v1h-1zM264.4 54.3h1v1h-1zM255.3 98.8h1v1h-1zM244.3 75.3h1v1h-1zM275.0 111.3h1v1h-1zM230.2 114.2h1v1h-1zM274.4 111.8h1v1h-1zM278.7 110.7h1v1h-1zM271.4 112.3h1v1h-1zM281.3 67.7h1v1h-1zM274.1 96.3h1v1h-1zM272.7 82.9h1v1h-1zM282.3 78.0h1v1h-1zM266.3 107.1h1v1h-1zM276.3 81.7h1v1h-1zM289.8 34.7h1v1h-1zM275.3 112.8h1v1h-1zM252.2 67.7h1v1h-1zM278.1 115.0h1v1h-1zM223.2 113.6h1v1h-1zM223.4 111.0h1v1h-1zM254.9 116.0h1v1h-1zM275.5 112.4h1v1h-1zM229.1 110.0h1v1h-1zM265.6 105.3h1v1h-1zM227.2 114.3h1v1h-1zM218.9 111.4h1v1h-1zM219.5 113.4h1v1h-1zM280.2 109.6h1v1h-1zM265.8 66.9h1v1h-1zM269.0 92.1h1v1h-1zM219.1 107.3h1v1h-1zM259.8 47.8h1v1h-1zM226.7 114.2h1v1h-1zM232.9 84.2h1v1h-1zM274.9 112.6h1v1h-1zM219.6 109.3h1v1h-1zM226.8 113.1h1v1h-1zM274.5 112.6h1v1h-1zM269.7 110.4h1v1h-1zM254.9 74.4h1v1h-1zM277.2 67.2h1v1h-1zM270.3 111.8h1v1h-1zM247.4 108.2h1v1h-1zM224.5 116.4h1v1h-1zM279.6 71.4h1v1h-1zM272.0 99.3h1v1h-1zM236.0 115.8h1v1h-1zM257.4 114.8h1v1h-1zM218.7 109.5h1v1h-1zM274.3 114.0h1v1h-1zM276.1 116.2h1v1h-1zM263.4 61.6h1v1h-1zM240.5 99.4h1v1h-1zM271.4 98.6h1v1h-1zM272.5 112.9h1v1h-1zM270.9 86.0h1v1h-1zM270.2 114.0h1v1h-1zM271.3 111.8h1v1h-1zM225.4 109.8h1v1h-1zM270.2 111.9h1v1h-1zM279.2 70.2h1v1h-1zM271.5 113.6h1v1h-1zM272.4 81.6h1v1h-1zM268.0 66.4h1v1h-1zM274.1 113.8h1v1h-1zM214.4 107.3h1v1h-1zM265.9 89.2h1v1h-1zM224.0 113.2h1v1h-1zM267.3 106.9h1v1h-1zM271.8 72.4h1v1h-1zM231.5 112.8h1v1h-1zM270.6 109.9h1v1h-1zM266.4 71.7h1v1h-1zM277.8 108.3h1v1h-1zM280.0 112.4h1v1h-1zM263.6 112.6h1v1h-1zM265.3 104.9h1v1h-1zM266.5 65.3h1v1h-1zM275.3 113.0h1v1h-1zM240.3 112.8h1v1h-1zM275.8 91.4h1v1h-1zM254.4 76.9h1v1h-1zM216.6 106.4h1v1h-1zM243.5 69.3h1v1h-1zM272.5 88.0h1v1h-1zM265.1 82.7h1v1h-1zM278.5 61.1h1v1h-1zM271.7 74.5h1v1h-1zM243.5 75.8h1v1h-1zM269.1 108.8h1v1h-1zM255.8 81.3h1v1h-1zM279.3 96.4h1v1h-1zM247.7 117.1h1v1h-1zM275.3 68.9h1v1h-1zM270.7 66.0h1v1h-1zM228.5 114.1h1v1h-1zM272.6 112.9h1v1h-1zM267.4 77.2h1v1h-1zM252.7 118.1h1v1h-1zM261.6 114.9h1v1h-1zM272.5 114.9h1v1h-1zM277.2 112.8h1v1h-1zM227.2 112.8h1v1h-1zM273.1 93.2h1v1h-1zM271.5 101.9h1v1h-1zM273.0 115.9h1v1h-1zM253.5 70.6h1v1h-1zM265.9 76.8h1v1h-1zM221.0 106.3h1v1h-1zM265.2 68.7h1v1h-1zM243.2 111.2h1v1h-1zM275.1 106.8h1v1h-1zM218.2 111.2h1v1h-1zM268.0 80.0h1v1h-1zM248.2 89.8h1v1h-1zM272.6 114.6h1v1h-1zM272.5 111.9h1v1h-1zM269.5 78.1h1v1h-1zM233.0 121.2h1v1h-1zM257.1 108.7h1v1h-1zM255.0 109.9h1v1h-1zM266.9 107.3h1v1h-1zM270.3 72.1h1v1h-1zM255.4 108.3h1v1h-1zM273.9 112.2h1v1h-1zM275.7 112.1h1v1h-1zM261.1 70.7h1v1h-1zM275.2 74.5h1v1h-1zM247.6 82.8h1v1h-1zM273.3 56.4h1v1h-1zM266.1 74.6h1v1h-1zM274.6 113.7h1v1h-1zM223.0 104.6h1v1h-1zM268.7 62.5h1v1h-1zM270.5 113.9h1v1h-1zM260.2 66.1h1v1h-1zM273.3 61.2h1v1h-1zM282.0 112.1h1v1h-1zM272.3 102.5h1v1h-1zM272.4 64.9h1v1h-1zM254.6 65.6h1v1h-1zM273.5 110.3h1v1h-1zM276.3 107.0h1v1h-1zM271.5 98.2h1v1h-1zM214.3 111.0h1v1h-1zM271.5 113.2h1v1h-1zM236.2 114.3h1v1h-1zM272.6 106.8h1v1h-1zM269.3 73.4h1v1h-1zM272.7 71.2h1v1h-1zM268.7 113.3h1v1h-1zM275.8 115.5h1v1h-1zM261.6 64.8h1v1h-1zM228.8 106.1h1v1h-1zM267.7 107.5h1v1h-1zM270.4 114.5h1v1h-1zM272.4 66.7h1v1h-1zM276.4 68.6h1v1h-1zM219.7 114.6h1v1h-1zM268.9 84.6h1v1h-1zM276.6 105.9h1v1h-1zM274.8 119.5h1v1h-1zM263.9 101.5h1v1h-1zM262.9 68.2h1v1h-1zM272.4 68.7h1v1h-1zM214.5 114.0h1v1h-1zM237.2 120.7h1v1h-1zM248.5 88.6h1v1h-1zM256.5 67.4h1v1h-1zM264.4 118.6h1v1h-1zM270.5 112.1h1v1h-1zM278.7 75.3h1v1h-1zM234.6 82.8h1v1h-1zM263.5 107.6h1v1h-1zM272.5 65.9h1v1h-1zM265.9 72.1h1v1h-1zM266.8 73.0h1v1h-1zM273.0 111.3h1v1h-1zM277.1 112.5h1v1h-1zM221.8 115.6h1v1h-1zM274.9 95.8h1v1h-1zM248.7 47.8h1v1h-1zM224.9 116.5h1v1h-1zM274.2 84.9h1v1h-1zM273.4 72.2h1v1h-1zM242.4 75.7h1v1h-1zM226.1 108.2h1v1h-1zM223.3 109.8h1v1h-1zM269.8 71.3h1v1h-1zM282.0 111.0h1v1h-1zM274.0 113.9h1v1h-1zM274.1 109.4h1v1h-1zM272.5 73.1h1v1h-1zM270.0 111.6h1v1h-1zM230.5 114.9h1v1h-1zM249.3 61.1h1v1h-1zM268.1 101.7h1v1h-1zM268.7 92.4h1v1h-1zM263.5 72.7h1v1h-1zM247.4 115.4h1v1h-1zM253.7 86.4h1v1h-1zM268.5 112.0h1v1h-1zM270.7 71.1h1v1h-1zM266.9 115.2h1v1h-1zM256.5 90.5h1v1h-1zM274.0 75.0h1v1h-1zM274.9 110.2h1v1h-1zM233.1 115.4h1v1h-1zM217.2 113.3h1v1h-1zM278.2 61.0h1v1h-1zM267.7 68.9h1v1h-1zM227.6 107.9h1v1h-1zM268.7 87.5h1v1h-1zM270.7 62.3h1v1h-1zM242.5 112.0h1v1h-1zM273.7 62.7h1v1h-1zM216.5 105.5h1v1h-1zM274.4 69.2h1v1h-1zM263.9 83.4h1v1h-1zM276.0 116.1h1v1h-1zM274.8 66.3h1v1h-1zM268.4 110.1h1v1h-1zM220.5 107.7h1v1h-1zM268.4 69.6h1v1h-1zM269.3 114.5h1v1h-1zM252.0 63.2h1v1h-1zM266.1 99.4h1v1h-1zM217.0 112.1h1v1h-1zM270.1 110.7h1v1h-1zM270.1 101.9h1v1h-1zM214.9 118.3h1v1h-1zM232.8 110.2h1v1h-1zM278.2 76.9h1v1h-1zM243.9 91.9h1v1h-1zM235.9 90.1h1v1h-1zM239.3 109.1h1v1h-1zM275.5 65.3h1v1h-1zM260.0 111.1h1v1h-1zM274.0 92.6h1v1h-1zM264.3 112.7h1v1h-1zM281.1 91.4h1v1h-1zM270.6 67.5h1v1h-1zM223.6 113.7h1v1h-1zM263.6 114.3h1v1h-1zM275.7 114.0h1v1h-1zM263.2 110.9h1v1h-1zM215.5 113.1h1v1h-1zM222.0 113.1h1v1h-1zM277.9 109.9h1v1h-1zM261.9 63.8h1v1h-1zM217.7 112.4h1v1h-1zM254.7 77.5h1v1h-1zM260.3 73.0h1v1h-1zM225.7 116.3h1v1h-1zM274.1 71.6h1v1h-1zM240.9 115.3h1v1h-1zM268.7 106.2h1v1h-1zM233.4 111.4h1v1h-1zM270.2 72.1h1v1h-1zM269.5 80.2h1v1h-1zM275.5 79.5h1v1h-1zM273.3 56.0h1v1h-1zM262.8 116.6h1v1h-1zM250.1 82.2h1v1h-1zM273.0 115.9h1v1h-1zM276.1 112.8h1v1h-1zM266.9 71.2h1v1h-1zM273.6 111.4h1v1h-1zM283.6 111.2h1v1h-1zM269.3 112.7h1v1h-1zM230.3 110.5h1v1h-1zM272.5 78.2h1v1h-1zM275.5 55.6h1v1h-1zM235.5 110.4h1v1h-1zM247.6 71.8h1v1h-1zM243.3 111.1h1v1h-1zM276.7 70.3h1v1h-1zM280.1 109.2h1v1h-1zM268.4 71.9h1v1h-1zM271.7 110.0h1v1h-1zM272.2 68.7h1v1h-1zM232.1 110.3h1v1h-1zM248.2 110.3h1v1h-1zM270.2 111.5h1v1h-1zM230.7 109.0h1v1h-1zM227.9 111.8h1v1h-1zM243.1 112.3h1v1h-1zM271.8 56.9h1v1h-1zM263.8 111.7h1v1h-1zM272.6 72.9h1v1h-1zM267.4 110.7h1v1h-1zM271.5 107.0h1v1h-1zM272.1 65.6h1v1h-1zM219.6 119.5h1v1h-1zM275.4 111.9h1v1h-1zM268.0 71.3h1v1h-1zM273.0 68.8h1v1h-1zM275.0 113.8h1v1h-1zM270.2 108.9h1v1h-1zM269.6 73.6h1v1h-1zM281.0 73.3h1v1h-1zM274.8 99.5h1v1h-1zM254.2 73.6h1v1h-1zM269.1 91.7h1v1h-1zM270.7 69.8h1v1h-1zM281.5 64.5h1v1h-1zM245.2 111.9h1v1h-1zM274.8 110.1h1v1h-1zM272.9 68.6h1v1h-1zM271.0 113.8h1v1h-1zM274.6 114.3h1v1h-1zM269.3 78.4h1v1h-1zM278.6 69.8h1v1h-1zM276.9 64.0h1v1h-1zM269.4 76.1h1v1h-1zM273.2 66.8h1v1h-1zM278.0 112.1h1v1h-1zM220.8 113.9h1v1h-1zM272.0 111.4h1v1h-1zM278.6 59.5h1v1h-1zM261.4 109.5h1v1h-1zM269.1 79.7h1v1h-1zM272.4 80.2h1v1h-1zM270.3 91.7h1v1h-1zM281.9 117.1h1v1h-1zM267.4 84.4h1v1h-1zM235.4 112.4h1v1h-1zM268.5 71.5h1v1h-1zM270.4 63.2h1v1h-1zM262.1 111.5h1v1h-1zM261.5 69.4h1v1h-1zM243.0 111.0h1v1h-1zM245.2 77.5h1v1h-1zM275.0 101.1h1v1h-1zM272.0 68.5h1v1h-1zM265.6 112.3h1v1h-1zM254.9 83.7h1v1h-1zM269.7 111.4h1v1h-1zM248.3 114.7h1v1h-1zM274.5 102.6h1v1h-1zM238.0 107.9h1v1h-1zM229.6 110.1h1v1h-1zM220.2 110.7h1v1h-1zM214.2 110.3h1v1h-1zM218.1 109.1h1v1h-1zM225.3 112.3h1v1h-1zM218.0 110.1h1v1h-1zM222.8 110.6h1v1h-1zM278.5 72.4h1v1h-1zM251.2 62.0h1v1h-1zM275.0 66.0h1v1h-1zM268.5 76.8h1v1h-1zM264.8 74.8h1v1h-1zM276.6 108.9h1v1h-1zM266.6 84.0h1v1h-1zM272.1 117.2h1v1h-1zM274.0 112.8h1v1h-1zM278.0 61.6h1v1h-1zM278.6 113.9h1v1h-1zM274.3 110.0h1v1h-1zM215.8 115.0h1v1h-1zM273.3 72.2h1v1h-1zM235.8 109.4h1v1h-1zM215.2 109.7h1v1h-1zM227.2 109.6h1v1h-1zM272.6 96.1h1v1h-1zM271.4 61.4h1v1h-1zM274.1 111.9h1v1h-1zM251.1 82.3h1v1h-1zM222.3 103.7h1v1h-1zM265.5 64.9h1v1h-1zM268.7 115.3h1v1h-1zM268.8 68.2h1v1h-1zM262.1 71.3h1v1h-1zM256.2 109.3h1v1h-1zM257.6 106.5h1v1h-1zM267.7 117.8h1v1h-1zM236.5 99.9h1v1h-1zM266.9 109.4h1v1h-1zM249.5 69.0h1v1h-1zM272.4 82.3h1v1h-1zM269.2 99.9h1v1h-1zM217.9 103.2h1v1h-1zM277.3 112.6h1v1h-1zM268.9 63.3h1v1h-1zM276.6 113.3h1v1h-1zM267.4 81.2h1v1h-1zM210.3 115.9h1v1h-1zM277.2 67.9h1v1h-1zM216.4 113.0h1v1h-1zM274.4 111.9h1v1h-1zM268.5 108.1h1v1h-1zM235.0 109.8h1v1h-1zM272.5 82.1h1v1h-1zM252.9 116.3h1v1h-1zM273.5 60.6h1v1h-1zM275.9 95.5h1v1h-1zM268.9 61.9h1v1h-1zM270.9 107.6h1v1h-1zM232.7 107.9h1v1h-1zM214.8 112.9h1v1h-1zM260.5 116.1h1v1h-1zM277.2 113.3h1v1h-1zM285.0 66.8h1v1h-1zM273.9 115.2h1v1h-1zM255.8 60.5h1v1h-1zM265.8 80.6h1v1h-1zM274.9 85.6h1v1h-1zM276.9 79.7h1v1h-1zM256.2 113.7h1v1h-1zM215.9 111.4h1v1h-1zM265.8 77.3h1v1h-1zM268.2 112.0h1v1h-1zM275.0 60.1h1v1h-1zM280.8 76.3h1v1h-1zM273.7 92.8h1v1h-1zM260.1 84.8h1v1h-1zM270.2 110.1h1v1h-1zM275.4 112.4h1v1h-1zM272.3 85.0h1v1h-1zM269.2 92.7h1v1h-1zM268.5 96.0h1v1h-1zM220.0 108.7h1v1h-1zM276.0 96.6h1v1h-1zM271.6 85.2h1v1h-1zM268.1 100.1h1v1h-1zM273.2 69.3h1v1h-1zM277.5 110.6h1v1h-1zM271.2 91.8h1v1h-1zM272.1 109.8h1v1h-1zM270.4 110.1h1v1h-1zM278.0 114.1h1v1h-1zM271.3 69.8h1v1h-1zM273.1 73.4h1v1h-1zM266.2 67.2h1v1h-1zM276.7 115.0h1v1h-1zM250.7 67.8h1v1h-1zM271.8 86.2h1v1h-1zM280.8 117.2h1v1h-1zM272.9 113.9h1v1h-1zM271.4 86.0h1v1h-1zM274.9 115.3h1v1h-1zM266.3 75.8h1v1h-1zM277.8 108.8h1v1h-1zM275.6 103.1h1v1h-1zM275.8 99.2h1v1h-1zM270.9 111.7h1v1h-1zM266.6 109.8h1v1h-1zM290.0 60.3h1v1h-1zM219.9 108.9h1v1h-1zM278.2 72.9h1v1h-1zM272.0 100.4h1v1h-1zM225.7 107.5h1v1h-1zM220.4 111.3h1v1h-1zM262.5 116.6h1v1h-1zM267.7 113.6h1v1h-1zM261.1 63.2h1v1h-1zM268.6 110.4h1v1h-1zM226.1 105.7h1v1h-1zM280.6 117.2h1v1h-1zM212.8 113.7h1v1h-1zM274.5 114.3h1v1h-1zM256.0 70.3h1v1h-1zM271.8 115.2h1v1h-1zM269.9 76.7h1v1h-1zM272.8 107.0h1v1h-1zM268.2 114.7h1v1h-1zM225.6 114.2h1v1h-1zM274.3 88.8h1v1h-1zM275.8 108.3h1v1h-1zM272.3 106.5h1v1h-1zM275.6 114.7h1v1h-1zM268.5 102.8h1v1h-1zM282.6 91.7h1v1h-1zM253.2 112.3h1v1h-1zM230.2 108.8h1v1h-1zM272.1 76.0h1v1h-1zM278.4 78.1h1v1h-1zM277.7 92.8h1v1h-1zM222.3 109.3h1v1h-1zM276.1 108.4h1v1h-1zM270.6 67.9h1v1h-1zM277.9 97.4h1v1h-1zM269.2 61.6h1v1h-1zM276.0 87.3h1v1h-1zM275.0 72.1h1v1h-1zM271.8 77.9h1v1h-1zM278.8 111.4h1v1h-1zM273.5 110.5h1v1h-1zM279.5 114.4h1v1h-1zM276.5 65.6h1v1h-1zM224.1 114.4h1v1h-1zM274.3 112.0h1v1h-1zM254.6 71.2h1v1h-1zM211.4 112.2h1v1h-1zM223.7 113.3h1v1h-1zM271.2 107.4h1v1h-1zM280.3 67.4h1v1h-1zM267.4 90.3h1v1h-1zM276.4 112.6h1v1h-1zM278.8 87.8h1v1h-1zM273.0 69.5h1v1h-1zM258.8 64.5h1v1h-1zM273.0 69.3h1v1h-1zM226.9 109.6h1v1h-1zM273.9 109.0h1v1h-1zM276.6 95.5h1v1h-1zM268.3 79.3h1v1h-1zM276.1 109.1h1v1h-1zM253.5 79.5h1v1h-1zM275.7 109.9h1v1h-1zM263.2 73.4h1v1h-1zM266.2 107.2h1v1h-1zM270.2 113.5h1v1h-1zM265.4 114.3h1v1h-1zM265.0 62.0h1v1h-1zM272.7 75.2h1v1h-1zM269.3 120.1h1v1h-1zM269.8 111.7h1v1h-1zM260.5 71.6h1v1h-1zM255.7 49.6h1v1h-1zM263.4 66.8h1v1h-1zM278.1 110.7h1v1h-1zM227.4 107.6h1v1h-1zM276.7 64.9h1v1h-1zM277.7 69.8h1v1h-1zM276.2 91.1h1v1h-1zM273.7 112.5h1v1h-1zM283.4 58.9h1v1h-1zM251.9 111.1h1v1h-1zM270.3 90.1h1v1h-1zM269.6 97.1h1v1h-1zM234.3 112.0h1v1h-1zM274.9 76.7h1v1h-1zM269.3 83.3h1v1h-1zM247.9 66.0h1v1h-1zM278.1 117.9h1v1h-1zM270.8 97.9h1v1h-1zM216.3 113.2h1v1h-1zM270.4 111.1h1v1h-1z" fill="#000" fill-opacity="0.55"/>
<path d="M271.7 108.3h1v1h-1zM227.9 113.5h1v1h-1zM270.3 112.2h1v1h-1zM276.4 114.7h1v1h-1zM237.8 110.4h1v1h-1zM256.3 113.3h1v1h-1zM230.0 108.1h1v1h-1zM275.3 78.3h1v1h-1zM222.0 110.5h1v1h-1zM227.1 114.3h1v1h-1zM225.1 113.6h1v1h-1zM280.9 110.2h1v1h-1zM276.8 113.0h1v1h-1zM267.6 111.3h1v1h-1zM269.4 111.1h1v1h-1zM273.6 67.3h1v1h-1zM262.5 111.6h1v1h-1zM210.8 106.1h1v1h-1zM262.0 72.6h1v1h-1zM265.5 113.1h1v1h-1zM243.6 115.4h1v1h-1zM270.1 66.9h1v1h-1zM248.5 114.5h1v1h-1zM276.2 73.5h1v1h-1zM268.8 82.7h1v1h-1zM272.7 63.4h1v1h-1zM250.8 84.0h1v1h-1zM275.8 86.6h1v1h-1zM266.9 84.4h1v1h-1zM212.5 114.3h1v1h-1zM272.4 101.9h1v1h-1zM259.3 55.8h1v1h-1zM271.0 115.9h1v1h-1zM274.4 117.3h1v1h-1zM276.0 110.3h1v1h-1zM269.8 68.6h1v1h-1zM271.3 81.4h1v1h-1zM263.3 53.1h1v1h-1zM271.3 108.7h1v1h-1zM251.8 67.9h1v1h-1zM247.1 71.5h1v1h-1zM271.1 113.9h1v1h-1zM237.9 108.1h1v1h-1zM270.2 116.2h1v1h-1zM239.0 112.2h1v1h-1zM215.3 103.9h1v1h-1zM261.1 63.1h1v1h-1zM269.9 108.1h1v1h-1zM269.7 113.6h1v1h-1zM275.3 99.5h1v1h-1zM273.0 81.5h1v1h-1zM273.8 100.3h1v1h-1zM267.3 112.9h1v1h-1zM245.2 112.4h1v1h-1zM228.7 109.7h1v1h-1zM270.1 56.8h1v1h-1zM270.8 77.5h1v1h-1zM220.1 113.3h1v1h-1zM226.2 113.4h1v1h-1zM284.2 74.3h1v1h-1zM218.9 112.5h1v1h-1zM272.3 109.7h1v1h-1zM216.7 109.3h1v1h-1zM275.3 110.4h1v1h-1zM278.5 72.7h1v1h-1zM262.6 79.3h1v1h-1zM271.0 110.5h1v1h-1zM277.2 112.2h1v1h-1zM271.1 71.7h1v1h-1zM281.7 104.5h1v1h-1zM262.3 112.1h1v1h-1zM270.3 67.8h1v1h-1zM268.6 97.6h1v1h-1zM221.4 113.5h1v1h-1zM236.2 110.6h1v1h-1zM271.8 71.5h1v1h-1zM280.5 73.6h1v1h-1zM271.2 60.2h1v1h-1zM219.1 114.6h1v1h-1zM268.3 104.1h1v1h-1zM264.2 100.5h1v1h-1zM272.2 108.4h1v1h-1zM226.5 111.8h1v1h-1zM283.9 76.6h1v1h-1zM256.1 71.0h1v1h-1zM276.3 98.5h1v1h-1zM250.0 108.4h1v1h-1zM244.3 110.0h1v1h-1zM276.0 114.4h1v1h-1zM241.1 110.4h1v1h-1zM279.7 95.3h1v1h-1zM278.3 89.7h1v1h-1zM268.6 113.5h1v1h-1zM258.4 104.2h1v1h-1zM257.3 63.0h1v1h-1zM265.7 69.6h1v1h-1zM272.9 91.6h1v1h-1zM270.9 74.3h1v1h-1zM262.6 108.6h1v1h-1zM281.5 115.0h1v1h-1zM280.3 111.7h1v1h-1zM267.9 65.2h1v1h-1zM280.5 68.8h1v1h-1zM230.7 112.2h1v1h-1zM242.6 110.9h1v1h-1zM265.9 110.8h1v1h-1zM266.9 86.8h1v1h-1zM268.3 97.4h1v1h-1zM263.5 71.0h1v1h-1zM276.6 114.3h1v1h-1zM276.2 66.1h1v1h-1zM274.1 103.2h1v1h-1zM224.1 114.9h1v1h-1zM275.7 84.3h1v1h-1zM262.8 114.9h1v1h-1zM264.8 73.5h1v1h-1zM270.7 57.4h1v1h-1zM264.8 113.2h1v1h-1zM266.6 116.5h1v1h-1zM247.0 111.1h1v1h-1zM266.5 110.8h1v1h-1zM222.1 108.1h1v1h-1zM265.6 109.0h1v1h-1zM220.8 109.2h1v1h-1zM269.8 95.8h1v1h-1zM273.1 109.1h1v1h-1zM268.5 75.5h1v1h-1zM270.6 72.3h1v1h-1zM270.6 106.1h1v1h-1zM260.5 111.0h1v1h-1zM215.0 112.6h1v1h-1zM216.9 115.5h1v1h-1zM272.2 96.2h1v1h-1zM274.5 110.8h1v1h-1zM254.5 87.7h1v1h-1zM213.0 112.3h1v1h-1zM265.6 67.4h1v1h-1zM274.0 83.9h1v1h-1zM258.0 112.4h1v1h-1zM276.3 112.4h1v1h-1zM225.7 112.9h1v1h-1zM249.4 115.2h1v1h-1zM225.7 106.0h1v1h-1zM273.5 109.2h1v1h-1zM250.9 110.0h1v1h-1zM273.6 90.9h1v1h-1zM274.6 65.4h1v1h-1zM270.6 59.8h1v1h-1zM267.7 113.2h1v1h-1zM268.9 61.8h1v1h-1zM228.2 110.4h1v1h-1zM233.6 114.3h1v1h-1zM223.0 111.6h1v1h-1zM277.1 113.1h1v1h-1zM275.8 80.8h1v1h-1zM276.0 110.3h1v1h-1zM268.5 86.3h1v1h-1zM275.2 69.1h1v1h-1zM273.3 111.0h1v1h-1zM244.2 113.1h1v1h-1zM272.3 65.7h1v1h-1zM274.1 59.9h1v1h-1zM237.8 114.5h1v1h-1zM279.5 81.6h1v1h-1zM270.8 82.9h1v1h-1zM269.8 111.6h1v1h-1zM269.9 71.8h1v1h-1zM278.8 72.4h1v1h-1zM286.9 88.6h1v1h-1zM283.4 110.6h1v1h-1zM278.0 113.1h1v1h-1zM283.8 96.5h1v1h-1zM219.9 114.6h1v1h-1zM219.2 107.3h1v1h-1zM278.7 111.7h1v1h-1zM269.7 112.3h1v1h-1zM274.7 73.0h1v1h-1zM270.7 114.4h1v1h-1zM264.0 113.1h1v1h-1zM273.4 72.7h1v1h-1zM274.2 88.2h1v1h-1zM271.9 106.1h1v1h-1zM266.7 65.0h1v1h-1zM279.3 63.0h1v1h-1zM274.6 109.0h1v1h-1zM266.1 74.0h1v1h-1zM264.5 85.0h1v1h-1zM255.7 112.5h1v1h-1zM251.7 101.4h1v1h-1zM220.8 111.3h1v1h-1zM238.8 113.3h1v1h-1zM278.3 103.5h1v1h-1zM233.8 113.2h1v1h-1zM270.7 109.6h1v1h-1zM216.0 110.4h1v1h-1zM218.9 112.5h1v1h-1zM273.0 93.4h1v1h-1zM269.1 119.3h1v1h-1zM277.3 111.9h1v1h-1zM220.4 111.0h1v1h-1zM267.6 59.9h1v1h-1zM267.6 76.0h1v1h-1zM280.2 116.4h1v1h-1zM220.7 119.0h1v1h-1zM273.3 109.1h1v1h-1zM222.2 103.0h1v1h-1zM267.8 67.5h1v1h-1zM267.1 70.2h1v1h-1zM279.0 109.0h1v1h-1zM246.7 104.8h1v1h-1zM272.0 70.1h1v1h-1zM225.8 117.1h1v1h-1zM254.2 76.6h1v1h-1zM270.7 102.4h1v1h-1zM269.4 58.1h1v1h-1zM229.8 110.0h1v1h-1zM272.7 71.2h1v1h-1zM251.3 109.6h1v1h-1zM273.7 104.9h1v1h-1zM267.9 102.4h1v1h-1zM228.1 105.6h1v1h-1zM254.9 61.0h1v1h-1zM269.6 84.3h1v1h-1zM224.6 111.9h1v1h-1zM279.7 81.0h1v1h-1zM230.7 111.7h1v1h-1zM274.3 112.8h1v1h-1zM254.8 108.5h1v1h-1zM268.8 80.4h1v1h-1zM273.7 76.5h1v1h-1zM226.3 107.6h1v1h-1zM266.1 116.8h1v1h-1zM280.8 80.1h1v1h-1zM266.9 57.9h1v1h-1zM280.4 109.9h1v1h-1zM272.2 112.0h1v1h-1zM268.3 66.0h1v1h-1zM240.3 116.2h1v1h-1zM250.4 71.9h1v1h-1zM273.4 93.3h1v1h-1zM274.2 113.2h1v1h-1zM273.1 111.7h1v1h-1zM266.6 112.4h1v1h-1zM268.5 87.9h1v1h-1zM232.9 115.5h1v1h-1zM257.2 108.6h1v1h-1zM269.6 75.7h1v1h-1zM220.3 112.4h1v1h-1zM245.3 109.9h1v1h-1zM267.7 112.9h1v1h-1zM277.0 67.5h1v1h-1zM219.3 113.1h1v1h-1zM242.8 112.2h1v1h-1zM263.7 57.8h1v1h-1zM253.9 69.7h1v1h-1zM277.0 112.6h1v1h-1zM269.6 97.1h1v1h-1zM270.4 113.6h1v1h-1zM257.8 63.1h1v1h-1zM279.6 67.9h1v1h-1zM252.7 103.3h1v1h-1zM255.5 85.5h1v1h-1zM212.3 111.0h1v1h-1zM255.6 69.1h1v1h-1zM274.1 110.8h1v1h-1zM263.2 109.6h1v1h-1zM254.4 80.4h1v1h-1zM248.9 75.0h1v1h-1zM272.1 111.1h1v1h-1zM238.8 111.5h1v1h-1zM277.0 63.2h1v1h-1zM280.7 81.1h1v1h-1zM279.6 115.9h1v1h-1zM263.9 67.0h1v1h-1zM246.4 113.5h1v1h-1zM231.4 78.0h1v1h-1zM270.0 90.3h1v1h-1zM268.7 71.6h1v1h-1zM268.4 95.2h1v1h-1zM273.0 101.4h1v1h-1zM271.7 113.0h1v1h-1zM263.2 107.6h1v1h-1zM278.0 111.9h1v1h-1zM281.3 112.3h1v1h-1zM263.7 75.8h1v1h-1zM261.1 79.6h1v1h-1zM277.2 109.8h1v1h-1zM276.7 118.9h1v1h-1zM281.5 114.2h1v1h-1zM263.3 113.6h1v1h-1zM235.1 116.2h1v1h-1zM258.5 112.9h1v1h-1zM222.0 110.2h1v1h-1zM275.9 90.9h1v1h-1zM257.8 71.0h1v1h-1zM256.4 111.5h1v1h-1zM275.4 112.9h1v1h-1zM249.1 110.4h1v1h-1zM274.8 87.7h1v1h-1zM277.8 113.3h1v1h-1zM232.9 109.2h1v1h-1zM269.2 116.7h1v1h-1zM265.7 96.5h1v1h-1zM228.0 110.7h1v1h-1zM274.0 112.6h1v1h-1zM280.0 108.2h1v1h-1zM246.8 107.5h1v1h-1zM270.9 107.7h1v1h-1zM274.6 111.3h1v1h-1zM276.3 99.7h1v1h-1zM241.6 106.7h1v1h-1zM269.8 110.1h1v1h-1zM276.7 113.1h1v1h-1zM267.0 91.2h1v1h-1zM236.8 109.3h1v1h-1zM274.6 113.6h1v1h-1zM266.5 72.6h1v1h-1zM276.9 70.0h1v1h-1zM218.7 113.6h1v1h-1zM275.2 108.5h1v1h-1zM270.7 111.1h1v1h-1zM266.3 112.6h1v1h-1zM277.9 110.6h1v1h-1zM271.7 112.4h1v1h-1zM278.3 75.5h1v1h-1zM262.1 51.6h1v1h-1zM275.5 113.6h1v1h-1zM228.7 111.9h1v1h-1zM273.8 113.9h1v1h-1zM275.2 69.2h1v1h-1zM253.4 109.4h1v1h-1zM271.9 108.0h1v1h-1zM274.0 67.2h1v1h-1zM251.2 74.3h1v1h-1zM259.2 97.7h1v1h-1zM267.1 110.1h1v1h-1zM230.1 113.2h1v1h-1zM274.9 95.6h1v1h-1zM281.1 78.5h1v1h-1zM269.9 113.8h1v1h-1zM273.6 111.7h1v1h-1zM225.6 115.8h1v1h-1zM252.2 62.3h1v1h-1zM268.0 66.0h1v1h-1zM252.9 113.2h1v1h-1zM275.8 114.0h1v1h-1zM270.2 113.3h1v1h-1zM269.9 111.0h1v1h-1zM270.8 103.4h1v1h-1zM274.4 113.9h1v1h-1zM279.9 112.5h1v1h-1zM268.8 102.8h1v1h-1zM278.9 111.2h1v1h-1zM278.0 115.8h1v1h-1zM272.5 109.2h1v1h-1zM279.4 107.3h1v1h-1zM268.7 86.9h1v1h-1zM274.1 100.8h1v1h-1zM252.1 51.3h1v1h-1zM226.4 111.5h1v1h-1zM270.9 110.3h1v1h-1zM270.7 105.4h1v1h-1zM269.2 113.2h1v1h-1zM269.7 106.6h1v1h-1zM275.8 114.5h1v1h-1zM277.9 98.5h1v1h-1zM251.5 55.8h1v1h-1zM266.7 110.7h1v1h-1zM273.7 95.8h1v1h-1zM273.1 101.9h1v1h-1zM267.5 90.4h1v1h-1zM276.7 104.2h1v1h-1zM268.6 114.1h1v1h-1zM269.6 69.1h1v1h-1zM210.9 111.8h1v1h-1zM279.1 74.0h1v1h-1zM272.6 116.9h1v1h-1zM271.4 69.2h1v1h-1zM276.6 111.1h1v1h-1zM275.6 70.8h1v1h-1zM275.2 68.3h1v1h-1zM215.1 113.2h1v1h-1zM270.6 92.8h1v1h-1zM244.7 112.0h1v1h-1zM210.8 116.3h1v1h-1zM271.4 73.9h1v1h-1zM272.2 72.6h1v1h-1zM282.4 79.7h1v1h-1zM273.6 70.8h1v1h-1zM274.0 68.2h1v1h-1zM279.6 68.9h1v1h-1zM271.7 69.7h1v1h-1zM266.4 65.8h1v1h-1zM253.1 113.8h1v1h-1zM246.4 78.2h1v1h-1zM235.0 107.1h1v1h-1zM234.3 107.2h1v1h-1zM273.8 114.2h1v1h-1zM260.6 66.4h1v1h-1zM276.9 111.1h1v1h-1zM272.0 89.3h1v1h-1zM215.3 106.1h1v1h-1zM266.3 115.6h1v1h-1zM273.8 62.7h1v1h-1zM266.3 72.7h1v1h-1zM269.2 91.8h1v1h-1zM284.9 75.3h1v1h-1zM219.0 113.2h1v1h-1zM272.6 111.1h1v1h-1zM268.5 67.6h1v1h-1zM267.0 110.7h1v1h-1zM277.5 103.7h1v1h-1zM277.8 109.8h1v1h-1zM271.0 66.2h1v1h-1zM265.4 108.1h1v1h-1zM273.9 108.1h1v1h-1zM245.0 71.4h1v1h-1zM263.4 63.9h1v1h-1zM273.5 112.6h1v1h-1zM264.5 104.7h1v1h-1zM230.6 109.6h1v1h-1zM263.1 81.9h1v1h-1zM220.5 109.4h1v1h-1zM269.8 74.6h1v1h-1zM270.7 119.8h1v1h-1zM271.3 112.6h1v1h-1zM283.7 65.9h1v1h-1zM268.6 88.9h1v1h-1zM267.1 106.0h1v1h-1zM277.6 87.5h1v1h-1zM238.2 118.1h1v1h-1zM237.9 109.7h1v1h-1zM245.7 74.7h1v1h-1zM219.2 115.2h1v1h-1zM275.2 118.1h1v1h-1zM276.4 113.3h1v1h-1zM281.7 80.6h1v1h-1zM275.0 111.5h1v1h-1zM279.6 111.6h1v1h-1zM216.6 114.8h1v1h-1zM268.8 113.9h1v1h-1zM280.8 111.6h1v1h-1zM276.3 76.0h1v1h-1zM270.5 98.0h1v1h-1zM264.4 89.4h1v1h-1zM265.4 101.1h1v1h-1zM256.9 71.4h1v1h-1zM224.2 113.1h1v1h-1zM271.9 76.8h1v1h-1zM276.6 112.4h1v1h-1zM278.2 110.1h1v1h-1zM272.5 114.7h1v1h-1zM273.2 91.4h1v1h-1zM267.9 106.0h1v1h-1zM267.9 110.7h1v1h-1zM240.3 122.7h1v1h-1zM275.6 106.5h1v1h-1zM231.9 110.9h1v1h-1zM254.6 112.8h1v1h-1zM275.4 117.7h1v1h-1zM228.1 109.4h1v1h-1zM247.8 116.5h1v1h-1zM256.0 114.9h1v1h-1zM261.1 112.8h1v1h-1zM230.5 110.1h1v1h-1zM275.6 102.4h1v1h-1zM224.9 106.7h1v1h-1zM276.8 112.2h1v1h-1zM271.4 88.2h1v1h-1zM275.7 109.6h1v1h-1zM270.9 87.8h1v1h-1zM220.0 112.0h1v1h-1zM279.0 114.9h1v1h-1zM230.7 106.8h1v1h-1zM273.7 111.0h1v1h-1zM262.5 107.7h1v1h-1zM219.8 109.3h1v1h-1zM278.2 81.6h1v1h-1zM265.4 64.5h1v1h-1zM275.2 95.2h1v1h-1zM272.4 115.5h1v1h-1zM265.9 92.2h1v1h-1zM232.3 102.5h1v1h-1zM274.7 110.9h1v1h-1zM233.1 108.2h1v1h-1zM277.7 116.8h1v1h-1zM256.7 65.9h1v1h-1zM249.9 110.6h1v1h-1zM265.2 66.7h1v1h-1zM282.6 61.0h1v1h-1zM273.8 116.0h1v1h-1zM274.4 115.8h1v1h-1zM272.7 113.5h1v1h-1zM216.3 113.4h1v1h-1zM264.7 116.2h1v1h-1zM262.7 76.2h1v1h-1zM274.0 111.0h1v1h-1zM271.7 59.6h1v1h-1zM276.3 88.3h1v1h-1zM273.1 113.9h1v1h-1zM277.0 113.1h1v1h-1zM269.4 76.2h1v1h-1zM258.5 75.9h1v1h-1zM272.1 109.6h1v1h-1zM274.3 64.3h1v1h-1zM279.1 99.5h1v1h-1zM272.6 68.7h1v1h-1zM272.4 68.5h1v1h-1zM258.1 117.1h1v1h-1zM229.0 110.1h1v1h-1zM267.3 106.5h1v1h-1zM269.4 87.4h1v1h-1zM281.0 118.8h1v1h-1zM271.9 114.9h1v1h-1zM273.6 111.4h1v1h-1zM225.4 103.4h1v1h-1zM255.5 113.9h1v1h-1zM271.6 112.2h1v1h-1zM265.2 115.1h1v1h-1zM279.2 112.8h1v1h-1zM271.7 66.9h1v1h-1zM270.1 84.0h1v1h-1zM272.8 113.3h1v1h-1zM221.5 114.4h1v1h-1zM251.8 111.0h1v1h-1zM275.2 116.1h1v1h-1zM253.1 84.8h1v1h-1zM275.8 100.6h1v1h-1zM216.1 106.6h1v1h-1zM223.4 112.1h1v1h-1zM226.9 114.6h1v1h-1zM278.5 74.0h1v1h-1zM276.0 114.6h1v1h-1zM270.8 69.4h1v1h-1zM268.7 63.9h1v1h-1zM270.5 69.8h1v1h-1zM276.1 108.1h1v1h-1zM273.6 115.2h1v1h-1zM271.6 103.0h1v1h-1zM274.5 69.5h1v1h-1zM218.8 117.1h1v1h-1zM264.8 111.8h1v1h-1zM263.7 76.7h1v1h-1zM271.6 80.1h1v1h-1zM234.3 112.1h1v1h-1zM274.8 67.7h1v1h-1zM243.7 109.6h1v1h-1zM228.0 111.3h1v1h-1zM268.6 66.1h1v1h-1zM278.1 81.3h1v1h-1zM272.1 99.1h1v1h-1zM267.7 109.0h1v1h-1zM220.3 108.1h1v1h-1zM220.9 112.3h1v1h-1zM234.7 115.8h1v1h-1zM225.9 110.7h1v1h-1zM273.1 107.5h1v1h-1zM214.3 113.3h1v1h-1zM276.9 108.4h1v1h-1zM270.6 112.0h1v1h-1zM270.5 113.2h1v1h-1zM280.8 93.7h1v1h-1zM265.8 67.4h1v1h-1zM274.8 70.4h1v1h-1zM219.5 113.2h1v1h-1zM279.1 111.9h1v1h-1zM246.5 115.6h1v1h-1zM269.3 111.3h1v1h-1zM240.7 115.3h1v1h-1zM271.4 96.6h1v1h-1zM221.2 110.8h1v1h-1zM269.9 114.4h1v1h-1zM213.5 110.3h1v1h-1zM269.7 89.0h1v1h-1zM265.3 64.1h1v1h-1zM277.9 90.3h1v1h-1zM271.2 98.6h1v1h-1zM231.8 107.6h1v1h-1zM271.0 78.9h1v1h-1zM266.0 62.3h1v1h-1zM275.5 112.1h1v1h-1zM226.6 116.9h1v1h-1zM260.0 108.5h1v1h-1zM274.8 78.1h1v1h-1zM271.9 70.0h1v1h-1zM270.2 69.5h1v1h-1zM274.6 73.7h1v1h-1zM263.5 108.1h1v1h-1zM278.9 113.9h1v1h-1zM216.3 109.2h1v1h-1zM248.1 111.2h1v1h-1zM260.9 104.4h1v1h-1zM235.0 107.5h1v1h-1zM271.1 115.1h1v1h-1zM265.3 74.4h1v1h-1zM269.8 109.8h1v1h-1zM260.7 112.0h1v1h-1zM270.8 73.4h1v1h-1zM279.0 68.0h1v1h-1zM269.8 108.3h1v1h-1zM258.0 63.0h1v1h-1zM269.7 56.2h1v1h-1zM216.2 115.1h1v1h-1zM277.8 110.6h1v1h-1zM267.1 96.5h1v1h-1zM278.9 110.3h1v1h-1zM274.4 70.0h1v1h-1zM278.8 111.1h1v1h-1zM273.4 111.3h1v1h-1zM274.9 110.5h1v1h-1zM276.9 71.2h1v1h-1zM266.7 73.0h1v1h-1zM277.3 66.0h1v1h-1zM277.3 113.5h1v1h-1zM271.3 59.3h1v1h-1zM270.1 110.7h1v1h-1zM270.1 112.0h1v1h-1zM275.7 93.2h1v1h-1zM260.1 68.5h1v1h-1zM270.4 93.7h1v1h-1zM274.0 72.7h1v1h-1zM276.9 62.8h1v1h-1zM219.1 115.4h1v1h-1zM247.0 111.4h1v1h-1zM228.6 105.8h1v1h-1zM257.8 110.8h1v1h-1zM263.5 107.5h1v1h-1z" fill="#000" fill-opacity="0.55"/>
<rect x="208.6" y="25.5" width="101.20" height="102.50" fill="none" stroke="#000" stroke-width="1.5"/>
<rect x="256.3" y="50.9" width="28.200000000000003" height="30.4" fill="none" stroke="#000" stroke-width="1"/>
<path d="M205.1 35.6H208.6M205.1 58.7H208.6M205.1 81.0H208.6M205.1 106.4H208.6M205.1 117.6H208.6M206.2 98.8H208.6M206.2 94.3H208.6M206.2 91.1H208.6M206.2 88.6H208.6M206.2 86.6H208.6M206.2 84.9H208.6M206.2 83.5H208.6M206.2 82.2H208.6M206.2 74.3H208.6M206.2 70.4H208.6M206.2 67.6H208.6M206.2 65.4H208.6M206.2 63.6H208.6M206.2 62.2H208.6M206.2 60.9H208.6M206.2 59.7H208.6M206.2 51.7H208.6M206.2 47.7H208.6M206.2 44.8H208.6M206.2 42.6H208.6M206.2 40.7H208.6M206.2 39.2H208.6M206.2 37.8H208.6M206.2 36.7H208.6M206.2 28.6H208.6M206.2 108.2H208.6M206.2 109.8H208.6M206.2 111.4H208.6M206.2 113.0H208.6M206.2 114.6H208.6M206.2 116.0H208.6M206.2 119.5H208.6M206.2 121.6H208.6M206.2 123.8H208.6M206.2 126.2H208.6M219.7 128.0V131.6M230.8 128.0V131.6M254.2 128.0V131.6M277.2 128.0V131.6M300.3 128.0V131.6M237.8 128.0V130.8M242.0 128.0V130.8M244.9 128.0V130.8M247.2 128.0V130.8M249.0 128.0V130.8M250.6 128.0V130.8M251.9 128.0V130.8M253.1 128.0V130.8M261.1 128.0V130.8M265.2 128.0V130.8M268.0 128.0V130.8M270.3 128.0V130.8M272.1 128.0V130.8M273.6 128.0V130.8M275.0 128.0V130.8M276.1 128.0V130.8M284.2 128.0V130.8M288.2 128.0V130.8M291.1 128.0V130.8M293.3 128.0V130.8M295.2 128.0V130.8M296.7 128.0V130.8M298.1 128.0V130.8M299.2 128.0V130.8M307.3 128.0V130.8M211.5 128.0V130.8M214.5 128.0V130.8M217.0 128.0V130.8M222.5 128.0V130.8M225.0 128.0V130.8M227.5 128.0V130.8" stroke="#000" stroke-width="1.0" fill="none"/>
<text x="204.0" y="39.6" font-size="6.8" style="stroke-width:0.3px" text-anchor="end">10<tspan font-size="4.3" dx="0.5" dy="-3.3">5</tspan></text>
<text x="204.0" y="62.7" font-size="6.8" style="stroke-width:0.3px" text-anchor="end">10<tspan font-size="4.3" dx="0.5" dy="-3.3">4</tspan></text>
<text x="204.0" y="85.0" font-size="6.8" style="stroke-width:0.3px" text-anchor="end">10<tspan font-size="4.3" dx="0.5" dy="-3.3">3</tspan></text>
<text x="204.0" y="110.4" font-size="6.8" style="stroke-width:0.3px" text-anchor="end">10<tspan font-size="4.3" dx="0.5" dy="-3.3">2</tspan></text>
<text x="201.2" y="120.8" font-size="6.8" style="stroke-width:0.3px" text-anchor="end">0</text>
<text x="219.2" y="140.4" font-size="6.8" style="stroke-width:0.3px" text-anchor="middle">0</text>
<text x="225.4" y="140.4" font-size="6.8" style="stroke-width:0.3px">10<tspan font-size="4.3" dx="0.5" dy="-3.5">2</tspan></text>
<text x="249.9" y="140.4" font-size="6.8" style="stroke-width:0.3px">10<tspan font-size="4.3" dx="0.5" dy="-3.5">3</tspan></text>
<text x="272.9" y="140.4" font-size="6.8" style="stroke-width:0.3px">10<tspan font-size="4.3" dx="0.5" dy="-3.5">4</tspan></text>
<text x="296.0" y="140.4" font-size="6.8" style="stroke-width:0.3px">10<tspan font-size="4.3" dx="0.5" dy="-3.5">5</tspan></text>
<text x="270.4" y="45.3" font-size="7.5" text-anchor="middle">22.9</text>
<text x="259.3" y="20.4" font-size="10" text-anchor="middle">αDR3</text>
<path d="M41 130.2V44" stroke="#000" stroke-width="1.7"/>
<path d="M41 36.6L45.2 45.6L41 44L36.8 45.6Z" fill="#000"/>
<path d="M61.8 151.1H305" stroke="#000" stroke-width="1.8"/>
<path d="M313.4 151.1L303.6 146.9L305.4 151.1L303.6 155.3Z" fill="#000"/>
<text transform="translate(187.4 166.9) scale(0.77 1)" font-size="10.4" text-anchor="middle">CD4</text>
<text transform="translate(31.4 83.5) rotate(-90) scale(0.82 1)" font-size="10.5" text-anchor="middle">Foxp3-GFP</text>
<text x="8.2" y="19.5" font-size="13" font-weight="bold">A</text>
<text x="9.0" y="186" font-size="13" font-weight="bold">B</text>
<text x="114.5" y="194.7" font-size="10" text-anchor="middle">Chemokine/cytokine</text>
<text x="117.0" y="439.2" font-size="10" text-anchor="middle">Transcription factor</text>
<text x="376.5" y="195.8" font-size="10" text-anchor="middle">Cell cycle/Turn over</text>
<text x="375.5" y="366.6" font-size="10" text-anchor="middle">Effector/Activation</text>
<rect x="13.2" y="200.2" width="202.80" height="212.70" fill="#050505"/>
<rect x="14.70" y="201.30" width="48.53" height="8.40" fill="#385a26"/>
<rect x="65.23" y="201.30" width="48.53" height="8.40" fill="#3e642a"/>
<rect x="115.75" y="201.30" width="48.53" height="8.40" fill="#4c0e09"/>
<rect x="166.28" y="201.30" width="48.53" height="8.40" fill="#5d0f0a"/>
<text x="219.70" y="208.60" font-size="7.5">Ccr1</text>
<rect x="14.70" y="211.40" width="48.53" height="8.40" fill="#6db249"/>
<rect x="65.23" y="211.40" width="48.53" height="8.40" fill="#4a7732"/>
<rect x="115.75" y="211.40" width="48.53" height="8.40" fill="#8b1411"/>
<rect x="166.28" y="211.40" width="48.53" height="8.40" fill="#76120e"/>
<text x="219.70" y="218.77" font-size="7.5">Ccr2</text>
<rect x="14.70" y="221.51" width="48.53" height="8.40" fill="#619e42"/>
<rect x="65.23" y="221.51" width="48.53" height="8.40" fill="#446e2e"/>
<rect x="115.75" y="221.51" width="48.53" height="8.40" fill="#6b110c"/>
<rect x="166.28" y="221.51" width="48.53" height="8.40" fill="#72120d"/>
<text x="219.70" y="228.94" font-size="7.5">Ccr4</text>
<rect x="14.70" y="231.61" width="48.53" height="8.40" fill="#508136"/>
<rect x="65.23" y="231.61" width="48.53" height="8.40" fill="#558b3a"/>
<rect x="115.75" y="231.61" width="48.53" height="8.40" fill="#cf1b1f"/>
<rect x="166.28" y="231.61" width="48.53" height="8.40" fill="#8f1512"/>
<text x="219.70" y="239.11" font-size="7.5">Ccr5</text>
<rect x="14.70" y="241.72" width="48.53" height="8.40" fill="#4a7732"/>
<rect x="65.23" y="241.72" width="48.53" height="8.40" fill="#3e642a"/>
<rect x="115.75" y="241.72" width="48.53" height="8.40" fill="#871410"/>
<rect x="166.28" y="241.72" width="48.53" height="8.40" fill="#5d0f0a"/>
<text x="219.70" y="249.28" font-size="7.5">Ccr6</text>
<rect x="14.70" y="251.82" width="48.53" height="8.40" fill="#8f1512"/>
<rect x="65.23" y="251.82" width="48.53" height="8.40" fill="#250a06"/>
<rect x="115.75" y="251.82" width="48.53" height="8.40" fill="#182310"/>
<rect x="166.28" y="251.82" width="48.53" height="8.40" fill="#508136"/>
<text x="219.70" y="259.45" font-size="7.5">Ccr7</text>
<rect x="14.70" y="261.93" width="48.53" height="8.40" fill="#446e2e"/>
<rect x="65.23" y="261.93" width="48.53" height="8.40" fill="#508136"/>
<rect x="115.75" y="261.93" width="48.53" height="8.40" fill="#6b110c"/>
<rect x="166.28" y="261.93" width="48.53" height="8.40" fill="#8b1411"/>
<text x="219.70" y="269.62" font-size="7.5">Ccr8</text>
<rect x="14.70" y="272.03" width="48.53" height="8.40" fill="#190806"/>
<rect x="65.23" y="272.03" width="48.53" height="8.40" fill="#131c0d"/>
<rect x="115.75" y="272.03" width="48.53" height="8.40" fill="#120806"/>
<rect x="166.28" y="272.03" width="48.53" height="8.40" fill="#100706"/>
<text x="219.70" y="279.79" font-size="7.5">Ccr9</text>
<rect x="14.70" y="282.14" width="48.53" height="8.40" fill="#1d0906"/>
<rect x="65.23" y="282.14" width="48.53" height="8.40" fill="#3e642a"/>
<rect x="115.75" y="282.14" width="48.53" height="8.40" fill="#65100b"/>
<rect x="166.28" y="282.14" width="48.53" height="8.40" fill="#213317"/>
<text x="219.70" y="289.96" font-size="7.5">Ccr10</text>
<rect x="14.70" y="292.24" width="48.53" height="8.40" fill="#6db249"/>
<rect x="65.23" y="292.24" width="48.53" height="8.40" fill="#3b5e28"/>
<rect x="115.75" y="292.24" width="48.53" height="8.40" fill="#5d0f0a"/>
<rect x="166.28" y="292.24" width="48.53" height="8.40" fill="#76120e"/>
<text x="219.70" y="300.13" font-size="7.5">Cxcr3</text>
<rect x="14.70" y="302.35" width="48.53" height="8.40" fill="#1b2913"/>
<rect x="65.23" y="302.35" width="48.53" height="8.40" fill="#2d461e"/>
<rect x="115.75" y="302.35" width="48.53" height="8.40" fill="#4c0e09"/>
<rect x="166.28" y="302.35" width="48.53" height="8.40" fill="#360b07"/>
<text x="219.70" y="310.30" font-size="7.5">Cxcr4</text>
<rect x="14.70" y="312.45" width="48.53" height="8.40" fill="#192511"/>
<rect x="65.23" y="312.45" width="48.53" height="8.40" fill="#0d1209"/>
<rect x="115.75" y="312.45" width="48.53" height="8.40" fill="#500e09"/>
<rect x="166.28" y="312.45" width="48.53" height="8.40" fill="#170806"/>
<text x="219.70" y="320.47" font-size="7.5">Cxcr5</text>
<rect x="14.70" y="322.56" width="48.53" height="8.40" fill="#560f0a"/>
<rect x="65.23" y="322.56" width="48.53" height="8.40" fill="#385a26"/>
<rect x="115.75" y="322.56" width="48.53" height="8.40" fill="#410c08"/>
<rect x="166.28" y="322.56" width="48.53" height="8.40" fill="#446e2e"/>
<text x="219.70" y="330.64" font-size="7.5">Cxcr6</text>
<rect x="14.70" y="332.66" width="48.53" height="8.40" fill="#120806"/>
<rect x="65.23" y="332.66" width="48.53" height="8.40" fill="#3b5e28"/>
<rect x="115.75" y="332.66" width="48.53" height="8.40" fill="#1d0906"/>
<rect x="166.28" y="332.66" width="48.53" height="8.40" fill="#120806"/>
<text x="219.70" y="340.81" font-size="7.5">Cxcr7</text>
<rect x="14.70" y="342.77" width="48.53" height="8.40" fill="#16200f"/>
<rect x="65.23" y="342.77" width="48.53" height="8.40" fill="#0c0706"/>
<rect x="115.75" y="342.77" width="48.53" height="8.40" fill="#100706"/>
<rect x="166.28" y="342.77" width="48.53" height="8.40" fill="#100706"/>
<text x="219.70" y="350.98" font-size="7.5">Ifng</text>
<rect x="14.70" y="352.87" width="48.53" height="8.40" fill="#243718"/>
<rect x="65.23" y="352.87" width="48.53" height="8.40" fill="#0c0706"/>
<rect x="115.75" y="352.87" width="48.53" height="8.40" fill="#100706"/>
<rect x="166.28" y="352.87" width="48.53" height="8.40" fill="#100706"/>
<text x="219.70" y="361.15" font-size="7.5">Il4</text>
<rect x="14.70" y="362.98" width="48.53" height="8.40" fill="#365625"/>
<rect x="65.23" y="362.98" width="48.53" height="8.40" fill="#619e42"/>
<rect x="115.75" y="362.98" width="48.53" height="8.40" fill="#65100b"/>
<rect x="166.28" y="362.98" width="48.53" height="8.40" fill="#72120d"/>
<text x="219.70" y="371.32" font-size="7.5">Il10</text>
<rect x="14.70" y="373.08" width="48.53" height="8.40" fill="#0c1009"/>
<rect x="65.23" y="373.08" width="48.53" height="8.40" fill="#0c0706"/>
<rect x="115.75" y="373.08" width="48.53" height="8.40" fill="#131c0d"/>
<rect x="166.28" y="373.08" width="48.53" height="8.40" fill="#210906"/>
<text x="219.70" y="381.49" font-size="7.5">Il17a</text>
<rect x="14.70" y="383.19" width="48.53" height="8.40" fill="#619e42"/>
<rect x="65.23" y="383.19" width="48.53" height="8.40" fill="#2a431d"/>
<rect x="115.75" y="383.19" width="48.53" height="8.40" fill="#4c0e09"/>
<rect x="166.28" y="383.19" width="48.53" height="8.40" fill="#d51c21"/>
<text x="219.70" y="391.66" font-size="7.5">Il18</text>
<rect x="14.70" y="393.29" width="48.53" height="8.40" fill="#182310"/>
<rect x="65.23" y="393.29" width="48.53" height="8.40" fill="#0c0706"/>
<rect x="115.75" y="393.29" width="48.53" height="8.40" fill="#100706"/>
<rect x="166.28" y="393.29" width="48.53" height="8.40" fill="#0c0706"/>
<text x="219.70" y="401.83" font-size="7.5">Tgfb1</text>
<rect x="14.70" y="403.40" width="48.53" height="8.40" fill="#1a2712"/>
<rect x="65.23" y="403.40" width="48.53" height="8.40" fill="#0c0706"/>
<rect x="115.75" y="403.40" width="48.53" height="8.40" fill="#100706"/>
<rect x="166.28" y="403.40" width="48.53" height="8.40" fill="#100706"/>
<text x="219.70" y="412.00" font-size="7.5">Tnf</text>
<rect x="14.0" y="444.6" width="204.80" height="204.60" fill="#050505"/>
<rect x="15.50" y="445.70" width="49.03" height="8.51" fill="#3b5e28"/>
<rect x="66.53" y="445.70" width="49.03" height="8.51" fill="#365625"/>
<rect x="117.55" y="445.70" width="49.03" height="8.51" fill="#520e09"/>
<rect x="168.58" y="445.70" width="49.03" height="8.51" fill="#450d08"/>
<text x="222.50" y="451.40" font-size="7.5">Ahr</text>
<rect x="15.50" y="455.91" width="49.03" height="8.51" fill="#3b0c07"/>
<rect x="66.53" y="455.91" width="49.03" height="8.51" fill="#250a06"/>
<rect x="117.55" y="455.91" width="49.03" height="8.51" fill="#2a431d"/>
<rect x="168.58" y="455.91" width="49.03" height="8.51" fill="#1b2913"/>
<text x="222.50" y="461.72" font-size="7.5">Bcl6</text>
<rect x="15.50" y="466.11" width="49.03" height="8.51" fill="#3f0c08"/>
<rect x="66.53" y="466.11" width="49.03" height="8.51" fill="#3b5e28"/>
<rect x="117.55" y="466.11" width="49.03" height="8.51" fill="#0e0706"/>
<rect x="168.58" y="466.11" width="49.03" height="8.51" fill="#0b0e08"/>
<text x="222.50" y="472.04" font-size="7.5">Eomes</text>
<rect x="15.50" y="476.32" width="49.03" height="8.51" fill="#243718"/>
<rect x="66.53" y="476.32" width="49.03" height="8.51" fill="#2a0a07"/>
<rect x="117.55" y="476.32" width="49.03" height="8.51" fill="#120806"/>
<rect x="168.58" y="476.32" width="49.03" height="8.51" fill="#0c1009"/>
<text x="222.50" y="482.36" font-size="7.5">Fos</text>
<rect x="15.50" y="486.52" width="49.03" height="8.51" fill="#0c0706"/>
<rect x="66.53" y="486.52" width="49.03" height="8.51" fill="#131c0d"/>
<rect x="117.55" y="486.52" width="49.03" height="8.51" fill="#120806"/>
<rect x="168.58" y="486.52" width="49.03" height="8.51" fill="#0c1009"/>
<text x="222.50" y="492.68" font-size="7.5">Foxp3</text>
<rect x="15.50" y="496.73" width="49.03" height="8.51" fill="#170806"/>
<rect x="66.53" y="496.73" width="49.03" height="8.51" fill="#120806"/>
<rect x="117.55" y="496.73" width="49.03" height="8.51" fill="#2a431d"/>
<rect x="168.58" y="496.73" width="49.03" height="8.51" fill="#182310"/>
<text x="222.50" y="503.00" font-size="7.5">Gata2</text>
<rect x="15.50" y="506.93" width="49.03" height="8.51" fill="#0f140a"/>
<rect x="66.53" y="506.93" width="49.03" height="8.51" fill="#2d461e"/>
<rect x="117.55" y="506.93" width="49.03" height="8.51" fill="#170806"/>
<rect x="168.58" y="506.93" width="49.03" height="8.51" fill="#300b07"/>
<text x="222.50" y="513.32" font-size="7.5">Gata3</text>
<rect x="15.50" y="517.14" width="49.03" height="8.51" fill="#360b07"/>
<rect x="66.53" y="517.14" width="49.03" height="8.51" fill="#100706"/>
<rect x="117.55" y="517.14" width="49.03" height="8.51" fill="#0d1209"/>
<rect x="168.58" y="517.14" width="49.03" height="8.51" fill="#3b5e28"/>
<text x="222.50" y="523.64" font-size="7.5">Ikzf1</text>
<rect x="15.50" y="527.34" width="49.03" height="8.51" fill="#304c21"/>
<rect x="66.53" y="527.34" width="49.03" height="8.51" fill="#314e22"/>
<rect x="117.55" y="527.34" width="49.03" height="8.51" fill="#5d0f0a"/>
<rect x="168.58" y="527.34" width="49.03" height="8.51" fill="#61100b"/>
<text x="222.50" y="533.96" font-size="7.5">Ikzf2</text>
<rect x="15.50" y="537.55" width="49.03" height="8.51" fill="#0c0706"/>
<rect x="66.53" y="537.55" width="49.03" height="8.51" fill="#0e0706"/>
<rect x="117.55" y="537.55" width="49.03" height="8.51" fill="#210906"/>
<rect x="168.58" y="537.55" width="49.03" height="8.51" fill="#140806"/>
<text x="222.50" y="544.28" font-size="7.5">Ikzf3</text>
<rect x="15.50" y="547.75" width="49.03" height="8.51" fill="#0c0706"/>
<rect x="66.53" y="547.75" width="49.03" height="8.51" fill="#304c21"/>
<rect x="117.55" y="547.75" width="49.03" height="8.51" fill="#1d0906"/>
<rect x="168.58" y="547.75" width="49.03" height="8.51" fill="#120806"/>
<text x="222.50" y="554.60" font-size="7.5">Ikzf4</text>
<rect x="15.50" y="557.96" width="49.03" height="8.51" fill="#2a431d"/>
<rect x="66.53" y="557.96" width="49.03" height="8.51" fill="#2a431d"/>
<rect x="117.55" y="557.96" width="49.03" height="8.51" fill="#3b0c07"/>
<rect x="168.58" y="557.96" width="49.03" height="8.51" fill="#580f0a"/>
<text x="222.50" y="564.92" font-size="7.5">Irf4</text>
<rect x="15.50" y="568.16" width="49.03" height="8.51" fill="#470d08"/>
<rect x="66.53" y="568.16" width="49.03" height="8.51" fill="#76120e"/>
<rect x="117.55" y="568.16" width="49.03" height="8.51" fill="#3b5e28"/>
<rect x="168.58" y="568.16" width="49.03" height="8.51" fill="#365625"/>
<text x="222.50" y="575.24" font-size="7.5">Jun</text>
<rect x="15.50" y="578.37" width="49.03" height="8.51" fill="#528537"/>
<rect x="66.53" y="578.37" width="49.03" height="8.51" fill="#283f1b"/>
<rect x="117.55" y="578.37" width="49.03" height="8.51" fill="#540e09"/>
<rect x="168.58" y="578.37" width="49.03" height="8.51" fill="#360b07"/>
<text x="222.50" y="585.56" font-size="7.5">Maf</text>
<rect x="15.50" y="588.57" width="49.03" height="8.51" fill="#619e42"/>
<rect x="66.53" y="588.57" width="49.03" height="8.51" fill="#283f1b"/>
<rect x="117.55" y="588.57" width="49.03" height="8.51" fill="#4c0e09"/>
<rect x="168.58" y="588.57" width="49.03" height="8.51" fill="#8e2a12"/>
<text x="222.50" y="595.88" font-size="7.5">Prdm1</text>
<rect x="15.50" y="598.78" width="49.03" height="8.51" fill="#365625"/>
<rect x="66.53" y="598.78" width="49.03" height="8.51" fill="#446e2e"/>
<rect x="117.55" y="598.78" width="49.03" height="8.51" fill="#65100b"/>
<rect x="168.58" y="598.78" width="49.03" height="8.51" fill="#6b110c"/>
<text x="222.50" y="606.20" font-size="7.5">Rora</text>
<rect x="15.50" y="608.98" width="49.03" height="8.51" fill="#365625"/>
<rect x="66.53" y="608.98" width="49.03" height="8.51" fill="#0c1009"/>
<rect x="117.55" y="608.98" width="49.03" height="8.51" fill="#2c0a07"/>
<rect x="168.58" y="608.98" width="49.03" height="8.51" fill="#170806"/>
<text x="222.50" y="616.52" font-size="7.5">Rorc</text>
<rect x="15.50" y="619.19" width="49.03" height="8.51" fill="#365625"/>
<rect x="66.53" y="619.19" width="49.03" height="8.51" fill="#213317"/>
<rect x="117.55" y="619.19" width="49.03" height="8.51" fill="#360b07"/>
<rect x="168.58" y="619.19" width="49.03" height="8.51" fill="#410c08"/>
<text x="222.50" y="626.84" font-size="7.5">Smad3</text>
<rect x="15.50" y="629.39" width="49.03" height="8.51" fill="#192511"/>
<rect x="66.53" y="629.39" width="49.03" height="8.51" fill="#0c0706"/>
<rect x="117.55" y="629.39" width="49.03" height="8.51" fill="#190806"/>
<rect x="168.58" y="629.39" width="49.03" height="8.51" fill="#140806"/>
<text x="222.50" y="637.16" font-size="7.5">Stat3</text>
<rect x="15.50" y="639.60" width="49.03" height="8.51" fill="#365625"/>
<rect x="66.53" y="639.60" width="49.03" height="8.51" fill="#0c0706"/>
<rect x="117.55" y="639.60" width="49.03" height="8.51" fill="#190806"/>
<rect x="168.58" y="639.60" width="49.03" height="8.51" fill="#560f0a"/>
<text x="222.50" y="647.48" font-size="7.5">Tbx21</text>
<rect x="274.8" y="201.2" width="203.10" height="120.90" fill="#050505"/>
<rect x="276.30" y="202.30" width="48.60" height="8.33" fill="#76120e"/>
<rect x="326.90" y="202.30" width="48.60" height="8.33" fill="#520e09"/>
<rect x="377.50" y="202.30" width="48.60" height="8.33" fill="#385a26"/>
<rect x="428.10" y="202.30" width="48.60" height="8.33" fill="#3e642a"/>
<text x="481.60" y="208.70" font-size="7.5">Bc l 2</text>
<rect x="276.30" y="212.33" width="48.60" height="8.33" fill="#619e42"/>
<rect x="326.90" y="212.33" width="48.60" height="8.33" fill="#3b5e28"/>
<rect x="377.50" y="212.33" width="48.60" height="8.33" fill="#580f0a"/>
<rect x="428.10" y="212.33" width="48.60" height="8.33" fill="#a51716"/>
<text x="481.60" y="218.92" font-size="7.5">Casp1</text>
<rect x="276.30" y="222.37" width="48.60" height="8.33" fill="#4a7732"/>
<rect x="326.90" y="222.37" width="48.60" height="8.33" fill="#3e642a"/>
<rect x="377.50" y="222.37" width="48.60" height="8.33" fill="#76120e"/>
<rect x="428.10" y="222.37" width="48.60" height="8.33" fill="#a51716"/>
<text x="481.60" y="229.14" font-size="7.5">Casp4</text>
<rect x="276.30" y="232.40" width="48.60" height="8.33" fill="#580f0a"/>
<rect x="326.90" y="232.40" width="48.60" height="8.33" fill="#3f0c08"/>
<rect x="377.50" y="232.40" width="48.60" height="8.33" fill="#304c21"/>
<rect x="428.10" y="232.40" width="48.60" height="8.33" fill="#426a2c"/>
<text x="481.60" y="239.36" font-size="7.5">Foxp1</text>
<rect x="276.30" y="242.43" width="48.60" height="8.33" fill="#360b07"/>
<rect x="326.90" y="242.43" width="48.60" height="8.33" fill="#320b07"/>
<rect x="377.50" y="242.43" width="48.60" height="8.33" fill="#283f1b"/>
<rect x="428.10" y="242.43" width="48.60" height="8.33" fill="#213317"/>
<text x="481.60" y="249.58" font-size="7.5">Frat1</text>
<rect x="276.30" y="252.47" width="48.60" height="8.33" fill="#280a07"/>
<rect x="326.90" y="252.47" width="48.60" height="8.33" fill="#190806"/>
<rect x="377.50" y="252.47" width="48.60" height="8.33" fill="#304c21"/>
<rect x="428.10" y="252.47" width="48.60" height="8.33" fill="#0f140a"/>
<text x="481.60" y="259.80" font-size="7.5">Kremen1</text>
<rect x="276.30" y="262.50" width="48.60" height="8.33" fill="#430d08"/>
<rect x="326.90" y="262.50" width="48.60" height="8.33" fill="#120806"/>
<rect x="377.50" y="262.50" width="48.60" height="8.33" fill="#2a431d"/>
<rect x="428.10" y="262.50" width="48.60" height="8.33" fill="#0c0706"/>
<text x="481.60" y="270.02" font-size="7.5">Lef1</text>
<rect x="276.30" y="272.53" width="48.60" height="8.33" fill="#6db249"/>
<rect x="326.90" y="272.53" width="48.60" height="8.33" fill="#6db249"/>
<rect x="377.50" y="272.53" width="48.60" height="8.33" fill="#ba191a"/>
<rect x="428.10" y="272.53" width="48.60" height="8.33" fill="#b11818"/>
<text x="481.60" y="280.24" font-size="7.5">Mki67</text>
<rect x="276.30" y="282.57" width="48.60" height="8.33" fill="#3f0c08"/>
<rect x="326.90" y="282.57" width="48.60" height="8.33" fill="#100706"/>
<rect x="377.50" y="282.57" width="48.60" height="8.33" fill="#100706"/>
<rect x="428.10" y="282.57" width="48.60" height="8.33" fill="#6aae48"/>
<text x="481.60" y="290.46" font-size="7.5">Sgk3</text>
<rect x="276.30" y="292.60" width="48.60" height="8.33" fill="#c01a1c"/>
<rect x="326.90" y="292.60" width="48.60" height="8.33" fill="#580f0a"/>
<rect x="377.50" y="292.60" width="48.60" height="8.33" fill="#365625"/>
<rect x="428.10" y="292.60" width="48.60" height="8.33" fill="#3e642a"/>
<text x="481.60" y="300.68" font-size="7.5">Sox4</text>
<rect x="276.30" y="302.63" width="48.60" height="8.33" fill="#430d08"/>
<rect x="326.90" y="302.63" width="48.60" height="8.33" fill="#410c08"/>
<rect x="377.50" y="302.63" width="48.60" height="8.33" fill="#2a431d"/>
<rect x="428.10" y="302.63" width="48.60" height="8.33" fill="#3b5e28"/>
<text x="481.60" y="310.90" font-size="7.5">Tcf7</text>
<rect x="276.30" y="312.67" width="48.60" height="8.33" fill="#100706"/>
<rect x="326.90" y="312.67" width="48.60" height="8.33" fill="#1f2f15"/>
<rect x="377.50" y="312.67" width="48.60" height="8.33" fill="#120806"/>
<rect x="428.10" y="312.67" width="48.60" height="8.33" fill="#360b07"/>
<text x="481.60" y="321.12" font-size="7.5">Wnt3</text>
<rect x="274.1" y="371.9" width="203.00" height="273.70" fill="#050505"/>
<rect x="275.60" y="373.00" width="48.58" height="8.42" fill="#4a7732"/>
<rect x="326.18" y="373.00" width="48.58" height="8.42" fill="#2d461e"/>
<rect x="376.75" y="373.00" width="48.58" height="8.42" fill="#470d08"/>
<rect x="427.33" y="373.00" width="48.58" height="8.42" fill="#81130f"/>
<text x="480.80" y="379.40" font-size="7.5">Cd38</text>
<rect x="275.60" y="383.12" width="48.58" height="8.42" fill="#0c0706"/>
<rect x="326.18" y="383.12" width="48.58" height="8.42" fill="#0c0706"/>
<rect x="376.75" y="383.12" width="48.58" height="8.42" fill="#0e0706"/>
<rect x="427.33" y="383.12" width="48.58" height="8.42" fill="#0e0706"/>
<text x="480.80" y="389.56" font-size="7.5">Cd69</text>
<rect x="275.60" y="393.24" width="48.58" height="8.42" fill="#6db249"/>
<rect x="326.18" y="393.24" width="48.58" height="8.42" fill="#5e983f"/>
<rect x="376.75" y="393.24" width="48.58" height="8.42" fill="#9c1614"/>
<rect x="427.33" y="393.24" width="48.58" height="8.42" fill="#cf1b1f"/>
<text x="480.80" y="399.72" font-size="7.5">Cd74</text>
<rect x="275.60" y="403.36" width="48.58" height="8.42" fill="#213317"/>
<rect x="326.18" y="403.36" width="48.58" height="8.42" fill="#3b5e28"/>
<rect x="376.75" y="403.36" width="48.58" height="8.42" fill="#3f0c08"/>
<rect x="427.33" y="403.36" width="48.58" height="8.42" fill="#4c0e09"/>
<text x="480.80" y="409.88" font-size="7.5">Cd81</text>
<rect x="275.60" y="413.47" width="48.58" height="8.42" fill="#1a2712"/>
<rect x="326.18" y="413.47" width="48.58" height="8.42" fill="#213317"/>
<rect x="376.75" y="413.47" width="48.58" height="8.42" fill="#2e0b07"/>
<rect x="427.33" y="413.47" width="48.58" height="8.42" fill="#3f0c08"/>
<text x="480.80" y="420.04" font-size="7.5">Ctla4</text>
<rect x="275.60" y="423.59" width="48.58" height="8.42" fill="#3b5e28"/>
<rect x="326.18" y="423.59" width="48.58" height="8.42" fill="#528537"/>
<rect x="376.75" y="423.59" width="48.58" height="8.42" fill="#540e09"/>
<rect x="427.33" y="423.59" width="48.58" height="8.42" fill="#61100b"/>
<text x="480.80" y="430.20" font-size="7.5">Ebi3</text>
<rect x="275.60" y="433.71" width="48.58" height="8.42" fill="#283f1b"/>
<rect x="326.18" y="433.71" width="48.58" height="8.42" fill="#304c21"/>
<rect x="376.75" y="433.71" width="48.58" height="8.42" fill="#4c0e09"/>
<rect x="427.33" y="433.71" width="48.58" height="8.42" fill="#430d08"/>
<text x="480.80" y="440.36" font-size="7.5">Entpd1</text>
<rect x="275.60" y="443.83" width="48.58" height="8.42" fill="#210906"/>
<rect x="326.18" y="443.83" width="48.58" height="8.42" fill="#365625"/>
<rect x="376.75" y="443.83" width="48.58" height="8.42" fill="#0d1209"/>
<rect x="427.33" y="443.83" width="48.58" height="8.42" fill="#320b07"/>
<text x="480.80" y="450.52" font-size="7.5">Fas</text>
<rect x="275.60" y="453.95" width="48.58" height="8.42" fill="#304c21"/>
<rect x="326.18" y="453.95" width="48.58" height="8.42" fill="#2d461e"/>
<rect x="376.75" y="453.95" width="48.58" height="8.42" fill="#8f1512"/>
<rect x="427.33" y="453.95" width="48.58" height="8.42" fill="#3f0c08"/>
<text x="480.80" y="460.68" font-size="7.5">Fgl2</text>
<rect x="275.60" y="464.07" width="48.58" height="8.42" fill="#0e0706"/>
<rect x="326.18" y="464.07" width="48.58" height="8.42" fill="#0c0706"/>
<rect x="376.75" y="464.07" width="48.58" height="8.42" fill="#120806"/>
<rect x="427.33" y="464.07" width="48.58" height="8.42" fill="#120806"/>
<text x="480.80" y="470.84" font-size="7.5">Fur in</text>
<rect x="275.60" y="474.19" width="48.58" height="8.42" fill="#426a2c"/>
<rect x="326.18" y="474.19" width="48.58" height="8.42" fill="#508136"/>
<rect x="376.75" y="474.19" width="48.58" height="8.42" fill="#a51716"/>
<rect x="427.33" y="474.19" width="48.58" height="8.42" fill="#6b110c"/>
<text x="480.80" y="481.00" font-size="7.5">Gzmb</text>
<rect x="275.60" y="484.30" width="48.58" height="8.42" fill="#365625"/>
<rect x="326.18" y="484.30" width="48.58" height="8.42" fill="#2d461e"/>
<rect x="376.75" y="484.30" width="48.58" height="8.42" fill="#4c0e09"/>
<rect x="427.33" y="484.30" width="48.58" height="8.42" fill="#500e09"/>
<text x="480.80" y="491.16" font-size="7.5">Icos</text>
<rect x="275.60" y="494.42" width="48.58" height="8.42" fill="#5d0f0a"/>
<rect x="326.18" y="494.42" width="48.58" height="8.42" fill="#3b0c07"/>
<rect x="376.75" y="494.42" width="48.58" height="8.42" fill="#2a431d"/>
<rect x="427.33" y="494.42" width="48.58" height="8.42" fill="#3b5e28"/>
<text x="480.80" y="501.32" font-size="7.5">Il2ra</text>
<rect x="275.60" y="504.54" width="48.58" height="8.42" fill="#67a845"/>
<rect x="326.18" y="504.54" width="48.58" height="8.42" fill="#446e2e"/>
<rect x="376.75" y="504.54" width="48.58" height="8.42" fill="#6b110c"/>
<rect x="427.33" y="504.54" width="48.58" height="8.42" fill="#6b110c"/>
<text x="480.80" y="511.48" font-size="7.5">Itga2</text>
<rect x="275.60" y="514.66" width="48.58" height="8.42" fill="#59913c"/>
<rect x="326.18" y="514.66" width="48.58" height="8.42" fill="#446e2e"/>
<rect x="376.75" y="514.66" width="48.58" height="8.42" fill="#76120e"/>
<rect x="427.33" y="514.66" width="48.58" height="8.42" fill="#8f1512"/>
<text x="480.80" y="521.64" font-size="7.5">Itgae</text>
<rect x="275.60" y="524.78" width="48.58" height="8.42" fill="#2d461e"/>
<rect x="326.18" y="524.78" width="48.58" height="8.42" fill="#1d2b13"/>
<rect x="376.75" y="524.78" width="48.58" height="8.42" fill="#410c08"/>
<rect x="427.33" y="524.78" width="48.58" height="8.42" fill="#430d08"/>
<text x="480.80" y="531.80" font-size="7.5">Itgb8</text>
<rect x="275.60" y="534.90" width="48.58" height="8.42" fill="#4a7732"/>
<rect x="326.18" y="534.90" width="48.58" height="8.42" fill="#67a845"/>
<rect x="376.75" y="534.90" width="48.58" height="8.42" fill="#76120e"/>
<rect x="427.33" y="534.90" width="48.58" height="8.42" fill="#cf1b1f"/>
<text x="480.80" y="541.96" font-size="7.5">Klrg1</text>
<rect x="275.60" y="545.01" width="48.58" height="8.42" fill="#3e642a"/>
<rect x="326.18" y="545.01" width="48.58" height="8.42" fill="#3b5e28"/>
<rect x="376.75" y="545.01" width="48.58" height="8.42" fill="#6b110c"/>
<rect x="427.33" y="545.01" width="48.58" height="8.42" fill="#6b110c"/>
<text x="480.80" y="552.12" font-size="7.5">Lag3</text>
<rect x="275.60" y="555.13" width="48.58" height="8.42" fill="#59913c"/>
<rect x="326.18" y="555.13" width="48.58" height="8.42" fill="#3b5e28"/>
<rect x="376.75" y="555.13" width="48.58" height="8.42" fill="#6b110c"/>
<rect x="427.33" y="555.13" width="48.58" height="8.42" fill="#76120e"/>
<text x="480.80" y="562.28" font-size="7.5">Lgals1</text>
<rect x="275.60" y="565.25" width="48.58" height="8.42" fill="#65100b"/>
<rect x="326.18" y="565.25" width="48.58" height="8.42" fill="#410c08"/>
<rect x="376.75" y="565.25" width="48.58" height="8.42" fill="#314e22"/>
<rect x="427.33" y="565.25" width="48.58" height="8.42" fill="#365625"/>
<text x="480.80" y="572.44" font-size="7.5">Lrrc32</text>
<rect x="275.60" y="575.37" width="48.58" height="8.42" fill="#213317"/>
<rect x="326.18" y="575.37" width="48.58" height="8.42" fill="#0c1009"/>
<rect x="376.75" y="575.37" width="48.58" height="8.42" fill="#210906"/>
<rect x="427.33" y="575.37" width="48.58" height="8.42" fill="#140806"/>
<text x="480.80" y="582.60" font-size="7.5">Nrp1</text>
<rect x="275.60" y="585.49" width="48.58" height="8.42" fill="#273d1a"/>
<rect x="326.18" y="585.49" width="48.58" height="8.42" fill="#1a2712"/>
<rect x="376.75" y="585.49" width="48.58" height="8.42" fill="#280a07"/>
<rect x="427.33" y="585.49" width="48.58" height="8.42" fill="#3f0c08"/>
<text x="480.80" y="592.76" font-size="7.5">Nt5e</text>
<rect x="275.60" y="595.61" width="48.58" height="8.42" fill="#304c21"/>
<rect x="326.18" y="595.61" width="48.58" height="8.42" fill="#528537"/>
<rect x="376.75" y="595.61" width="48.58" height="8.42" fill="#540e09"/>
<rect x="427.33" y="595.61" width="48.58" height="8.42" fill="#5d0f0a"/>
<text x="480.80" y="602.92" font-size="7.5">Pdcd1</text>
<rect x="275.60" y="605.73" width="48.58" height="8.42" fill="#67a845"/>
<rect x="326.18" y="605.73" width="48.58" height="8.42" fill="#3b5e28"/>
<rect x="376.75" y="605.73" width="48.58" height="8.42" fill="#580f0a"/>
<rect x="427.33" y="605.73" width="48.58" height="8.42" fill="#8f1512"/>
<text x="480.80" y="613.08" font-size="7.5">Tigit</text>
<rect x="275.60" y="615.84" width="48.58" height="8.42" fill="#213317"/>
<rect x="326.18" y="615.84" width="48.58" height="8.42" fill="#3b5e28"/>
<rect x="376.75" y="615.84" width="48.58" height="8.42" fill="#320b07"/>
<rect x="427.33" y="615.84" width="48.58" height="8.42" fill="#6b110c"/>
<text x="480.80" y="623.24" font-size="7.5">Tnfrsf4</text>
<rect x="275.60" y="625.96" width="48.58" height="8.42" fill="#273d1a"/>
<rect x="326.18" y="625.96" width="48.58" height="8.42" fill="#3b5e28"/>
<rect x="376.75" y="625.96" width="48.58" height="8.42" fill="#430d08"/>
<rect x="427.33" y="625.96" width="48.58" height="8.42" fill="#8f1512"/>
<text x="480.80" y="633.40" font-size="7.5">Tnfrsf9</text>
<rect x="275.60" y="636.08" width="48.58" height="8.42" fill="#100706"/>
<rect x="326.18" y="636.08" width="48.58" height="8.42" fill="#210906"/>
<rect x="376.75" y="636.08" width="48.58" height="8.42" fill="#100706"/>
<rect x="427.33" y="636.08" width="48.58" height="8.42" fill="#0f140a"/>
<text x="480.80" y="643.56" font-size="7.5">Tnfsf18</text>
<path d="M17.4 652.9H113.4M122 653H215M275.3 649.6H372M380.2 649.8H473.2" stroke="#000" stroke-width="1.8"/>
<text x="65.6" y="665.8" font-size="10" text-anchor="middle">Iso-Treg</text>
<text x="168.9" y="665.8" font-size="10" text-anchor="middle">DR3-Treg</text>
<text x="323.4" y="661.8" font-size="10" text-anchor="middle">Iso-Treg</text>
<text x="426.6" y="661.8" font-size="10" text-anchor="middle">DR3-Treg</text>
<defs><linearGradient id="lg" x1="0" x2="1" y1="0" y2="0"><stop offset="0" stop-color="#6cb44c"/><stop offset="0.5" stop-color="#0c0a0a"/><stop offset="1" stop-color="#d81c1c"/></linearGradient></defs>
<rect x="370.8" y="686" width="106.6" height="6.9" fill="url(#lg)"/>
<text x="423.9" y="680.4" font-size="7.6" text-anchor="middle">Log2 ratio</text>
<text x="370.0" y="703.7" font-size="7.7">-1.0</text>
<text x="424.1" y="703.7" font-size="7.7" text-anchor="middle">0.0</text>
<text x="477.6" y="703.7" font-size="7.7" text-anchor="end">1.0</text>
</g>
<rect x="0.75" y="0.75" width="518.5" height="710.5" fill="none" stroke="#000" stroke-width="1.5"/>
</svg>
</body></html>
